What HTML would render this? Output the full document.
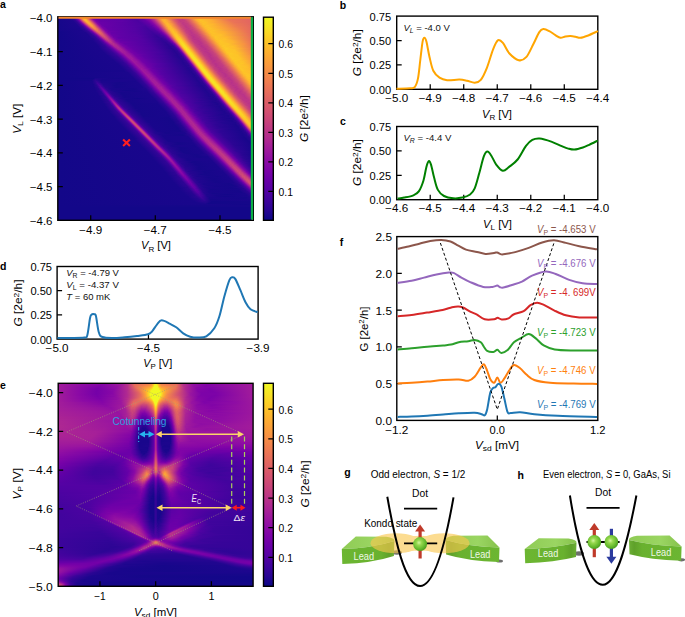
<!DOCTYPE html>
<html><head><meta charset="utf-8"><style>
html,body{margin:0;padding:0;background:#fff}
#c{position:relative;width:685px;height:617px;overflow:hidden;background:#fff;font-family:"Liberation Sans",sans-serif}
.cm{position:absolute}
.cm i{display:block}
svg{position:absolute;left:0;top:0}
svg text{font-family:"Liberation Sans",sans-serif}
</style></head><body><div id="c">
<div class="cm" style="left:58px;top:17px;width:194px;height:203px">
<i style="height:1px;background:linear-gradient(90deg,#16078a 0.5px,#1b068d 11.5px,#370499 15.5px,#5e01a6 17.5px,#7b02a8 18.5px,#9d189d 19.5px,#da5b69 21.5px,#fa9e3b 23.5px,#fdb42f 24.5px,#feb72d 25.5px,#fdab33 26.5px,#ec7754 28.5px,#ac2694 31.5px,#8405a7 33.5px,#6900a8 36.5px,#5c01a6 61.5px,#4c02a1 76.5px,#6001a6 83.5px,#8a09a5 89.5px,#ba3388 94.5px,#e66c5c 98.5px,#fca835 102.5px,#fdb130 104.5px,#f89540 108.5px,#d24f71 115.5px,#c13b82 120.5px,#c9447a 125.5px,#eb7655 131.5px,#feb72d 137.5px,#fec029 141.5px,#fca835 152.5px,#e87059 169.5px,#e26561 184.5px,#e06363 193.5px)"></i>
<i style="height:1px;background:linear-gradient(90deg,#16078a 0.5px,#1b068d 12.5px,#2c0594 15.5px,#4903a0 17.5px,#7d03a8 19.5px,#a01a9c 20.5px,#dd5e66 22.5px,#f1814d 23.5px,#fba139 24.5px,#fdb52e 25.5px,#feb82c 26.5px,#fdac33 27.5px,#eb7655 29.5px,#ac2694 32.5px,#8405a7 34.5px,#6a00a8 37.5px,#6600a7 52.5px,#4c02a1 77.5px,#6001a6 84.5px,#8a09a5 90.5px,#bb3488 95.5px,#f1814d 100.5px,#fdab33 103.5px,#fdae32 106.5px,#e97158 112.5px,#c7427c 118.5px,#c13b82 123.5px,#d45270 128.5px,#fa9b3d 135.5px,#febd2a 139.5px,#febd2a 145.5px,#ed7a52 166.5px,#e26660 182.5px,#e16462 193.5px)"></i>
<i style="height:1px;background:linear-gradient(90deg,#16078a 0.5px,#1b068d 12.5px,#2e0595 16.5px,#4903a0 18.5px,#7e03a8 20.5px,#a11b9b 21.5px,#de6164 23.5px,#f2844b 24.5px,#fca338 25.5px,#feb72d 26.5px,#feb82c 27.5px,#fdab33 28.5px,#ea7457 30.5px,#ab2494 33.5px,#8405a7 35.5px,#6a00a8 38.5px,#5901a5 65.5px,#4c02a1 78.5px,#6001a6 85.5px,#8a09a5 91.5px,#bc3587 96.5px,#f3854b 101.5px,#fdac33 104.5px,#fdae32 107.5px,#e76f5a 113.5px,#c6417d 119.5px,#c13b82 124.5px,#da5b69 130.5px,#fca835 137.5px,#fec029 141.5px,#fdb130 151.5px,#e97257 171.5px,#e16462 193.5px)"></i>
<i style="height:1px;background:linear-gradient(90deg,#16078a 0.5px,#1d068e 14.5px,#2e0595 17.5px,#4b03a1 19.5px,#8004a8 21.5px,#a31e9a 22.5px,#df6263 24.5px,#f3854b 25.5px,#fca338 26.5px,#fdb52e 27.5px,#fdb52e 28.5px,#f68f44 30.5px,#c23c81 33.5px,#9613a1 35.5px,#7801a8 37.5px,#6600a7 41.5px,#5c01a6 64.5px,#4c02a1 79.5px,#6600a7 87.5px,#8808a6 92.5px,#b22b8f 96.5px,#ec7754 101.5px,#fca636 104.5px,#fdb42f 106.5px,#fca537 109.5px,#da5a6a 116.5px,#c23c81 121.5px,#c33d80 126.5px,#e26561 132.5px,#fca934 138.5px,#fdc229 142.5px,#fdae32 153.5px,#eb7556 171.5px,#e26561 193.5px)"></i>
<i style="height:1px;background:linear-gradient(90deg,#16078a 0.5px,#1d068e 15.5px,#2e0595 18.5px,#4b03a1 20.5px,#8104a7 22.5px,#a31e9a 23.5px,#df6263 25.5px,#fb9f3a 27.5px,#fdb130 28.5px,#fdb130 29.5px,#f68d45 31.5px,#c33d80 34.5px,#9613a1 36.5px,#7801a8 38.5px,#6600a7 42.5px,#5e01a6 63.5px,#4c02a1 80.5px,#6900a8 89.5px,#8808a6 93.5px,#b32c8e 97.5px,#ee7b51 102.5px,#fdab33 105.5px,#fdb52e 107.5px,#f99a3e 111.5px,#d8576b 117.5px,#c13b82 122.5px,#c7427c 128.5px,#e97158 134.5px,#fdb42f 140.5px,#fdc229 144.5px,#fdab33 155.5px,#eb7556 173.5px,#e26561 193.5px)"></i>
<i style="height:1px;background:linear-gradient(90deg,#16078a 0.5px,#1d068e 16.5px,#2e0595 19.5px,#4b03a1 21.5px,#8104a7 23.5px,#a21d9a 24.5px,#db5c68 26.5px,#f99a3e 28.5px,#fdab33 29.5px,#fdac33 30.5px,#fba238 31.5px,#e97257 33.5px,#ad2793 36.5px,#8606a6 38.5px,#6a00a8 41.5px,#5801a4 68.5px,#4c02a1 82.5px,#6700a8 90.5px,#8707a6 94.5px,#b42e8d 98.5px,#f07f4f 103.5px,#fdae32 106.5px,#fdb22f 109.5px,#ea7457 115.5px,#cb4679 120.5px,#bf3984 125.5px,#cc4977 130.5px,#f48948 137.5px,#febb2b 142.5px,#fec029 147.5px,#f9973f 162.5px,#e97257 176.5px,#e26660 193.5px)"></i>
<i style="height:1px;background:linear-gradient(90deg,#16078a 0.5px,#1d068e 17.5px,#2f0596 20.5px,#4b03a1 22.5px,#7e03a8 24.5px,#9d189d 25.5px,#d8576b 27.5px,#f89441 29.5px,#fca636 30.5px,#fca934 31.5px,#fb9f3a 32.5px,#e97158 34.5px,#ad2793 37.5px,#8606a6 39.5px,#6a00a8 42.5px,#5801a4 69.5px,#4c02a1 83.5px,#6600a7 91.5px,#8707a6 95.5px,#b52f8c 99.5px,#f2844b 104.5px,#fdb130 107.5px,#feb72d 109.5px,#f89540 113.5px,#d5536f 119.5px,#c03a83 124.5px,#c43e7f 129.5px,#e56a5d 135.5px,#fdac33 141.5px,#fdc229 145.5px,#fdae32 156.5px,#ec7754 175.5px,#e26660 193.5px)"></i>
<i style="height:1px;background:linear-gradient(90deg,#16078a 0.5px,#1d068e 18.5px,#2e0595 21.5px,#5e01a6 24.5px,#7801a8 25.5px,#9814a0 26.5px,#d35171 28.5px,#f68d45 30.5px,#fba139 31.5px,#fca537 32.5px,#fa9c3c 33.5px,#e97257 35.5px,#ac2694 38.5px,#8606a6 40.5px,#6a00a8 43.5px,#5601a4 71.5px,#4b03a1 84.5px,#5e01a6 91.5px,#8606a6 96.5px,#b6308b 100.5px,#f48948 105.5px,#fdb42f 108.5px,#feb72d 110.5px,#f79342 114.5px,#d35171 120.5px,#bf3984 125.5px,#c5407e 130.5px,#e56b5d 136.5px,#fdae32 142.5px,#fec029 145.5px,#feb72d 154.5px,#ed7953 176.5px,#e26660 193.5px)"></i>
<i style="height:1px;background:linear-gradient(90deg,#16078a 0.5px,#1d068e 19.5px,#38049a 23.5px,#5901a5 25.5px,#7401a8 26.5px,#920fa3 27.5px,#e4695e 30.5px,#fa9b3d 32.5px,#fba139 33.5px,#fa9b3d 34.5px,#e76e5b 36.5px,#ac2694 39.5px,#8606a6 41.5px,#6a00a8 44.5px,#5302a3 74.5px,#4b03a1 87.5px,#6900a8 94.5px,#8606a6 97.5px,#b7318a 101.5px,#f68d45 106.5px,#feb72d 109.5px,#fdb22f 112.5px,#ec7754 117.5px,#cc4778 122.5px,#be3885 127.5px,#c9447a 132.5px,#ec7754 138.5px,#feb72d 144.5px,#fdc229 149.5px,#fba238 162.5px,#eb7655 179.5px,#e3685f 193.5px)"></i>
<i style="height:1px;background:linear-gradient(90deg,#16078a 0.5px,#1d068e 20.5px,#350498 24.5px,#5502a4 26.5px,#6e00a8 27.5px,#8a09a5 28.5px,#c8437b 30.5px,#f07f4f 32.5px,#f89540 33.5px,#fa9b3d 34.5px,#f1814d 36.5px,#c03a83 39.5px,#9814a0 41.5px,#7a02a8 43.5px,#6700a8 46.5px,#5502a4 74.5px,#48039f 87.5px,#5b01a5 93.5px,#8405a7 98.5px,#ab2494 101.5px,#e4695e 105.5px,#fca338 108.5px,#feb82c 110.5px,#feb82c 112.5px,#f1814d 117.5px,#d04d73 122.5px,#be3885 127.5px,#c5407e 132.5px,#e76e5b 138.5px,#fdaf31 144.5px,#fdc229 147.5px,#fdaf31 159.5px,#ef7c51 177.5px,#e3685f 193.5px)"></i>
<i style="height:1px;background:linear-gradient(90deg,#16078a 0.5px,#1d068e 21.5px,#330597 25.5px,#5102a3 27.5px,#8405a7 29.5px,#a31e9a 30.5px,#da5a6a 32.5px,#f48948 34.5px,#f79143 35.5px,#ee7b51 37.5px,#c03a83 40.5px,#9814a0 42.5px,#7a02a8 44.5px,#6600a7 48.5px,#5601a4 73.5px,#46039f 88.5px,#5e01a6 95.5px,#8305a7 99.5px,#ab2494 102.5px,#f1814d 107.5px,#fdb42f 110.5px,#feb82c 113.5px,#f07f4f 118.5px,#ce4b75 123.5px,#bd3786 128.5px,#ca457a 134.5px,#f3854b 141.5px,#feb82c 146.5px,#fdc229 150.5px,#fca636 163.5px,#ed7a52 180.5px,#e4695e 193.5px)"></i>
<i style="height:1px;background:linear-gradient(90deg,#16078a 0.5px,#1b068d 21.5px,#310597 26.5px,#4b03a1 28.5px,#7b02a8 30.5px,#9c179e 31.5px,#d35171 33.5px,#f0804e 35.5px,#f48948 36.5px,#f3854b 37.5px,#e26561 39.5px,#9814a0 43.5px,#7a02a8 45.5px,#6600a7 49.5px,#5502a4 75.5px,#44039e 89.5px,#5b01a5 96.5px,#8004a8 100.5px,#ac2694 103.5px,#f3874a 108.5px,#fdac33 110.5px,#febd2a 112.5px,#fdaf31 115.5px,#e87059 120.5px,#c8437b 125.5px,#bd3786 130.5px,#d04d73 136.5px,#f3874a 142.5px,#feba2c 147.5px,#fdc229 152.5px,#fba139 166.5px,#ec7754 183.5px,#e4695e 193.5px)"></i>
<i style="height:1px;background:linear-gradient(90deg,#16078a 0.5px,#1b068d 22.5px,#280592 26.5px,#48039f 29.5px,#7401a8 31.5px,#920fa3 32.5px,#cb4679 34.5px,#eb7556 36.5px,#f0804e 37.5px,#e97257 39.5px,#bf3984 42.5px,#9814a0 44.5px,#7b02a8 46.5px,#6600a7 50.5px,#5302a3 77.5px,#43039e 90.5px,#5302a3 96.5px,#7201a8 100.5px,#9c179e 103.5px,#dd5e66 107.5px,#fba139 110.5px,#feba2c 112.5px,#febd2a 114.5px,#fba238 117.5px,#d8576b 123.5px,#bf3984 128.5px,#c33d80 134.5px,#e26660 140.5px,#fca934 146.5px,#fdc229 150.5px,#fdb52e 160.5px,#ed7953 183.5px,#e4695e 193.5px)"></i>
<i style="height:1px;background:linear-gradient(90deg,#16078a 0.5px,#1b068d 23.5px,#2e0595 28.5px,#5502a4 31.5px,#8808a6 33.5px,#c13b82 35.5px,#e56a5d 37.5px,#eb7655 38.5px,#ec7754 39.5px,#cf4c74 42.5px,#99159f 45.5px,#7b02a8 47.5px,#6600a7 51.5px,#5502a4 76.5px,#41049d 91.5px,#5002a2 97.5px,#7d03a8 102.5px,#ad2793 105.5px,#ed7953 109.5px,#fdb42f 112.5px,#fec029 114.5px,#fdac33 117.5px,#e56a5d 122.5px,#c5407e 127.5px,#bc3587 132.5px,#d14e72 138.5px,#f89441 145.5px,#febb2b 149.5px,#fdc229 155.5px,#ed7a52 184.5px,#e56a5d 193.5px)"></i>
<i style="height:1px;background:linear-gradient(90deg,#130789 0.5px,#1d068e 25.5px,#330597 30.5px,#6400a7 33.5px,#7e03a8 34.5px,#b83289 36.5px,#de6164 38.5px,#e76f5a 39.5px,#e56a5d 41.5px,#be3885 44.5px,#8808a6 47.5px,#6c00a8 50.5px,#6100a7 61.5px,#5002a2 80.5px,#3f049c 93.5px,#5302a3 99.5px,#7b02a8 103.5px,#ae2892 106.5px,#ef7e50 110.5px,#feb82c 113.5px,#fdc229 115.5px,#fdab33 118.5px,#e3685f 123.5px,#c8437b 127.5px,#bc3587 132.5px,#c8437b 137.5px,#e4695e 142.5px,#fdac33 148.5px,#fdc328 152.5px,#fdb130 164.5px,#eb7556 187.5px,#e56a5d 193.5px)"></i>
<i style="height:1px;background:linear-gradient(90deg,#130789 0.5px,#1d068e 27.5px,#310597 31.5px,#5e01a6 34.5px,#7701a8 35.5px,#920fa3 36.5px,#c7427c 38.5px,#e26660 40.5px,#e56b5d 41.5px,#da5a6a 43.5px,#99159f 47.5px,#7b02a8 49.5px,#6600a7 53.5px,#5302a3 79.5px,#3e049c 94.5px,#4b03a1 99.5px,#6a00a8 103.5px,#8808a6 105.5px,#c13b82 108.5px,#f1834c 111.5px,#fdaf31 113.5px,#fdc328 115.5px,#fdb52e 118.5px,#e97158 123.5px,#c6417d 128.5px,#bb3488 133.5px,#cc4977 139.5px,#f0804e 145.5px,#fdb52e 150.5px,#fdc328 153.5px,#fdb130 165.5px,#e97257 189.5px,#e56b5d 193.5px)"></i>
<i style="height:1px;background:linear-gradient(90deg,#130789 0.5px,#1d068e 28.5px,#2f0596 32.5px,#5601a4 35.5px,#8808a6 37.5px,#bf3984 39.5px,#de5f65 41.5px,#e26561 42.5px,#d7566c 44.5px,#99159f 48.5px,#7d03a8 50.5px,#6700a8 53.5px,#5302a3 79.5px,#3c049b 95.5px,#4c02a1 101.5px,#6900a8 104.5px,#8808a6 106.5px,#ae2892 108.5px,#f48849 112.5px,#fdb42f 114.5px,#fdc527 116.5px,#febe2a 118.5px,#ee7b51 123.5px,#ca457a 128.5px,#bb3488 133.5px,#c8437b 139.5px,#eb7655 145.5px,#feb72d 151.5px,#fdc328 155.5px,#fdb22f 166.5px,#e56b5d 193.5px)"></i>
<i style="height:1px;background:linear-gradient(90deg,#130789 0.5px,#1d068e 29.5px,#2e0595 33.5px,#5102a3 36.5px,#8004a8 38.5px,#b7318a 40.5px,#d8576b 42.5px,#db5c68 44.5px,#bc3587 47.5px,#8808a6 50.5px,#6c00a8 53.5px,#6001a6 61.5px,#5601a4 78.5px,#3a049a 96.5px,#44039e 101.5px,#6600a7 105.5px,#8606a6 107.5px,#ae2892 109.5px,#e97257 112.5px,#fca636 114.5px,#fdc527 116.5px,#fdc527 118.5px,#fca537 121.5px,#dd5e66 126.5px,#bf3984 131.5px,#bc3587 136.5px,#cd4a76 141.5px,#f68f44 148.5px,#febe2a 153.5px,#febe2a 162.5px,#eb7556 189.5px,#e66c5c 193.5px)"></i>
<i style="height:1px;background:linear-gradient(90deg,#130789 0.5px,#1d068e 30.5px,#330597 35.5px,#6001a6 38.5px,#7a02a8 39.5px,#b02991 41.5px,#d35171 43.5px,#d8576b 45.5px,#ba3388 48.5px,#8808a6 51.5px,#6c00a8 54.5px,#6001a6 62.5px,#5502a4 80.5px,#370499 98.5px,#46039f 103.5px,#6100a7 106.5px,#8305a7 108.5px,#b12a90 110.5px,#ed7953 113.5px,#fdae32 115.5px,#fdc827 117.5px,#fdc627 119.5px,#f79342 123.5px,#d35171 128.5px,#ba3388 133.5px,#c13b82 139.5px,#e06363 145.5px,#fca636 151.5px,#fec029 154.5px,#fec029 162.5px,#ee7b51 187.5px,#e66c5c 193.5px)"></i>
<i style="height:1px;background:linear-gradient(90deg,#130789 0.5px,#1d068e 31.5px,#310597 36.5px,#48039f 38.5px,#7401a8 40.5px,#aa2395 42.5px,#cd4a76 44.5px,#d5536f 46.5px,#b83289 49.5px,#8a09a5 52.5px,#6c00a8 55.5px,#6100a7 62.5px,#5302a3 82.5px,#350498 99.5px,#4903a0 105.5px,#5e01a6 107.5px,#8405a7 109.5px,#b32c8e 111.5px,#f07f4f 114.5px,#fdb42f 116.5px,#fdcb26 118.5px,#febd2a 121.5px,#f0804e 125.5px,#c9447a 130.5px,#b83289 135.5px,#c5407e 141.5px,#e76f5a 147.5px,#fdb22f 153.5px,#fdc527 157.5px,#fdb22f 169.5px,#e76e5b 193.5px)"></i>
<i style="height:1px;background:linear-gradient(90deg,#130789 0.5px,#1d068e 32.5px,#2f0596 37.5px,#5801a4 40.5px,#8a09a5 42.5px,#b83289 44.5px,#d04d73 46.5px,#cc4778 48.5px,#9814a0 52.5px,#7201a8 55.5px,#6100a7 60.5px,#5801a4 79.5px,#330597 100.5px,#3f049c 105.5px,#5e01a6 108.5px,#8405a7 110.5px,#b52f8c 112.5px,#f3854b 115.5px,#feba2c 117.5px,#fcce25 119.5px,#febb2b 122.5px,#ef7c51 126.5px,#cc4977 130.5px,#b83289 135.5px,#c23c81 141.5px,#e26561 147.5px,#fca934 153.5px,#fdc527 157.5px,#feb82c 168.5px,#e76f5a 193.5px)"></i>
<i style="height:1px;background:linear-gradient(90deg,#130789 0.5px,#1d068e 34.5px,#2f0596 38.5px,#5601a4 41.5px,#8405a7 43.5px,#b32c8e 45.5px,#cb4679 47.5px,#c9447a 49.5px,#9814a0 53.5px,#7401a8 56.5px,#6300a7 60.5px,#5601a4 81.5px,#310597 103.5px,#44039e 107.5px,#6e00a8 110.5px,#8405a7 111.5px,#b83289 113.5px,#f58c46 116.5px,#fec029 118.5px,#fcd025 120.5px,#fdc627 122.5px,#f48849 126.5px,#d24f71 130.5px,#bc3587 134.5px,#bc3587 140.5px,#d6556d 146.5px,#fba139 153.5px,#fdc229 157.5px,#febe2a 166.5px,#ee7b51 189.5px,#e87059 193.5px)"></i>
<i style="height:1px;background:linear-gradient(90deg,#130789 0.5px,#1d068e 35.5px,#38049a 40.5px,#6700a8 43.5px,#7e03a8 44.5px,#be3885 47.5px,#c9447a 49.5px,#b32c8e 52.5px,#8a09a5 55.5px,#6e00a8 58.5px,#6100a7 66.5px,#5302a3 84.5px,#2f0596 103.5px,#3a049a 107.5px,#5b01a5 110.5px,#8606a6 112.5px,#bb3488 114.5px,#e97158 116.5px,#fdb130 118.5px,#fdc627 119.5px,#fbd324 121.5px,#fdc627 123.5px,#f1834c 127.5px,#ce4b75 131.5px,#b83289 136.5px,#bf3984 142.5px,#dd5e66 148.5px,#fba238 154.5px,#fdc328 158.5px,#fec029 167.5px,#ef7c51 189.5px,#e97158 193.5px)"></i>
<i style="height:1px;background:linear-gradient(90deg,#130789 0.5px,#1b068d 34.5px,#2f0596 40.5px,#5102a3 43.5px,#7801a8 45.5px,#b7318a 48.5px,#c5407e 50.5px,#b12a90 53.5px,#7e03a8 57.5px,#6400a7 62.5px,#5102a3 86.5px,#2f0596 104.5px,#38049a 108.5px,#5b01a5 111.5px,#8606a6 113.5px,#a11b9b 114.5px,#eb7655 117.5px,#feb82c 119.5px,#fbd524 121.5px,#fcd025 123.5px,#fba238 126.5px,#dd5e66 130.5px,#c13b82 134.5px,#b83289 140.5px,#cc4977 146.5px,#f0804e 152.5px,#feb82c 157.5px,#fdc627 161.5px,#fdb42f 173.5px,#e97158 193.5px)"></i>
<i style="height:1px;background:linear-gradient(90deg,#130789 0.5px,#1b068d 35.5px,#2f0596 41.5px,#4e02a2 44.5px,#7401a8 46.5px,#a01a9c 48.5px,#bc3587 50.5px,#bf3984 52.5px,#8104a7 58.5px,#6900a8 62.5px,#5002a2 87.5px,#2e0595 105.5px,#370499 109.5px,#5901a5 112.5px,#8405a7 114.5px,#a21d9a 115.5px,#ef7c51 118.5px,#fec029 120.5px,#fbd724 122.5px,#fcce25 124.5px,#fa9e3b 127.5px,#da5b69 131.5px,#c03a83 135.5px,#b83289 141.5px,#cc4977 147.5px,#f1814d 153.5px,#feba2c 158.5px,#fdc627 162.5px,#fdb42f 174.5px,#ea7457 193.5px)"></i>
<i style="height:1px;background:linear-gradient(90deg,#130789 0.5px,#1b068d 36.5px,#2f0596 42.5px,#4c02a1 45.5px,#8405a7 48.5px,#b52f8c 51.5px,#bb3488 53.5px,#8e0ca4 58.5px,#6e00a8 62.5px,#6100a7 72.5px,#4c02a1 90.5px,#2c0594 107.5px,#3c049b 111.5px,#6a00a8 114.5px,#8606a6 115.5px,#a31e9a 116.5px,#f1814d 119.5px,#fca835 120.5px,#fdc627 121.5px,#fada24 123.5px,#fcce25 125.5px,#f99a3e 128.5px,#d9586a 132.5px,#bf3984 136.5px,#b83289 142.5px,#cd4a76 148.5px,#f2844b 154.5px,#febb2b 159.5px,#fdc627 163.5px,#fdb42f 175.5px,#eb7556 193.5px)"></i>
<i style="height:1px;background:linear-gradient(90deg,#130789 0.5px,#1b068d 37.5px,#2f0596 43.5px,#5801a4 47.5px,#7e03a8 49.5px,#b02991 52.5px,#b42e8d 55.5px,#7d03a8 61.5px,#6600a7 66.5px,#5002a2 89.5px,#2c0594 108.5px,#3a049a 112.5px,#5302a3 114.5px,#8104a7 116.5px,#a11b9b 117.5px,#df6263 119.5px,#f58b47 120.5px,#fdb130 121.5px,#fccd25 122.5px,#f9dd25 124.5px,#fccd25 126.5px,#f89441 129.5px,#d7566c 133.5px,#bf3984 137.5px,#b83289 143.5px,#d45270 150.5px,#fa9e3b 157.5px,#fdc328 161.5px,#fdc328 169.5px,#f79342 185.5px,#eb7655 193.5px)"></i>
<i style="height:1px;background:linear-gradient(90deg,#130789 0.5px,#1b068d 38.5px,#2f0596 44.5px,#48039f 47.5px,#7801a8 50.5px,#aa2395 53.5px,#b42e8d 55.5px,#a62098 58.5px,#8004a8 62.5px,#6700a8 67.5px,#4c02a1 91.5px,#2a0593 109.5px,#38049a 113.5px,#6400a7 116.5px,#8104a7 117.5px,#a51f99 118.5px,#e3685f 120.5px,#f79143 121.5px,#feba2c 122.5px,#fbd324 123.5px,#f8df25 125.5px,#feb82c 128.5px,#e76f5a 132.5px,#c8437b 136.5px,#b7318a 141.5px,#c5407e 148.5px,#e87059 154.5px,#fdac33 159.5px,#fdc328 162.5px,#fdc328 170.5px,#f89540 185.5px,#ec7754 193.5px)"></i>
<i style="height:1px;background:linear-gradient(90deg,#130789 0.5px,#1b068d 39.5px,#350498 46.5px,#5302a3 49.5px,#8405a7 52.5px,#ae2892 55.5px,#ae2892 58.5px,#7a02a8 64.5px,#6400a7 70.5px,#4e02a2 91.5px,#2a0593 110.5px,#350498 114.5px,#4e02a2 116.5px,#8405a7 118.5px,#a82296 119.5px,#e76f5a 121.5px,#f99a3e 122.5px,#fdc229 123.5px,#fad824 124.5px,#f8df25 126.5px,#fdb52e 129.5px,#e56b5d 133.5px,#c6417d 137.5px,#b7318a 143.5px,#c6417d 149.5px,#e97257 155.5px,#feb82c 161.5px,#fdc827 165.5px,#fdb52e 177.5px,#ed7953 193.5px)"></i>
<i style="height:1px;background:linear-gradient(90deg,#130789 0.5px,#1b068d 40.5px,#350498 47.5px,#5c01a6 51.5px,#8004a8 53.5px,#ab2494 56.5px,#ad2793 59.5px,#7d03a8 65.5px,#6700a8 70.5px,#4c02a1 93.5px,#280592 112.5px,#330597 115.5px,#5002a2 117.5px,#8606a6 119.5px,#ab2494 120.5px,#eb7556 122.5px,#fba238 123.5px,#fdc827 124.5px,#f9dc24 125.5px,#f9dd25 127.5px,#fdb130 130.5px,#e4695e 134.5px,#c5407e 138.5px,#b7318a 143.5px,#c23c81 149.5px,#e4695e 155.5px,#fdaf31 161.5px,#fdc627 164.5px,#fec029 174.5px,#f07f4f 192.5px,#ee7b51 193.5px)"></i>
<i style="height:1px;background:linear-gradient(90deg,#130789 0.5px,#1b068d 40.5px,#2f0596 47.5px,#4c02a1 51.5px,#7a02a8 54.5px,#a62098 57.5px,#ad2793 60.5px,#7701a8 67.5px,#6400a7 73.5px,#4e02a2 93.5px,#280592 112.5px,#330597 116.5px,#4e02a2 118.5px,#8808a6 120.5px,#ae2892 121.5px,#ef7e50 123.5px,#fdab33 124.5px,#fcce25 125.5px,#f9dd25 126.5px,#f9dd25 128.5px,#fdae32 131.5px,#e26660 135.5px,#c43e7f 139.5px,#b7318a 145.5px,#c7427c 151.5px,#eb7655 157.5px,#fdb22f 162.5px,#fdc827 166.5px,#febd2a 176.5px,#ef7c51 193.5px)"></i>
<i style="height:1px;background:linear-gradient(90deg,#130789 0.5px,#1b068d 41.5px,#3a049a 50.5px,#6400a7 54.5px,#8606a6 56.5px,#aa2395 59.5px,#a82296 62.5px,#7801a8 68.5px,#6400a7 74.5px,#4b03a1 95.5px,#260591 113.5px,#330597 117.5px,#5002a2 119.5px,#6900a8 120.5px,#8d0ba5 121.5px,#b42e8d 122.5px,#d9586a 123.5px,#f3874a 124.5px,#fdb42f 125.5px,#fbd324 126.5px,#f8e125 128.5px,#fcce25 130.5px,#f89540 133.5px,#d8576b 137.5px,#bf3984 141.5px,#b83289 147.5px,#cd4a76 153.5px,#f2844b 159.5px,#febd2a 164.5px,#fdca26 168.5px,#fdb42f 180.5px,#f07f4f 193.5px)"></i>
<i style="height:1px;background:linear-gradient(90deg,#130789 0.5px,#1b068d 42.5px,#38049a 51.5px,#6100a7 55.5px,#8004a8 57.5px,#a62098 60.5px,#a82296 63.5px,#7a02a8 69.5px,#6400a7 75.5px,#4903a0 97.5px,#260591 115.5px,#330597 118.5px,#5102a3 120.5px,#6e00a8 121.5px,#9410a2 122.5px,#de6164 124.5px,#f79044 125.5px,#febb2b 126.5px,#fbd724 127.5px,#f8e125 128.5px,#fada24 130.5px,#fca636 133.5px,#de6164 137.5px,#c23c81 141.5px,#b7318a 147.5px,#c9447a 153.5px,#ed7a52 159.5px,#fdb52e 164.5px,#fdc827 167.5px,#fdc229 176.5px,#f0804e 193.5px)"></i>
<i style="height:1px;background:linear-gradient(90deg,#130789 0.5px,#1b068d 43.5px,#38049a 52.5px,#5c01a6 56.5px,#8a09a5 59.5px,#a72197 62.5px,#a21d9a 65.5px,#7b02a8 70.5px,#6600a7 76.5px,#44039e 100.5px,#260591 116.5px,#330597 119.5px,#5502a4 121.5px,#7401a8 122.5px,#9a169f 123.5px,#e56a5d 125.5px,#f99a3e 126.5px,#fdc328 127.5px,#fada24 128.5px,#f7e225 129.5px,#fad824 131.5px,#fba238 134.5px,#dd5e66 138.5px,#bd3786 143.5px,#bb3488 150.5px,#d5546e 156.5px,#fba238 163.5px,#fdc627 167.5px,#fdc328 176.5px,#f3874a 192.5px,#f1834c 193.5px)"></i>
<i style="height:1px;background:linear-gradient(90deg,#130789 0.5px,#1b068d 44.5px,#370499 53.5px,#5901a5 57.5px,#8405a7 60.5px,#a31e9a 63.5px,#a21d9a 66.5px,#7701a8 72.5px,#6400a7 78.5px,#46039f 100.5px,#260591 116.5px,#2c0594 119.5px,#43039e 121.5px,#7a02a8 123.5px,#a21d9a 124.5px,#e97257 126.5px,#fba238 127.5px,#fdca26 128.5px,#f9dd25 129.5px,#f8df25 131.5px,#fdb22f 134.5px,#e56a5d 138.5px,#c5407e 142.5px,#b7318a 147.5px,#c6417d 154.5px,#e97257 160.5px,#fdaf31 165.5px,#fdc627 168.5px,#fdc328 177.5px,#f3854b 193.5px)"></i>
<i style="height:1px;background:linear-gradient(90deg,#130789 0.5px,#1b068d 45.5px,#350498 54.5px,#5502a4 58.5px,#8004a8 61.5px,#a11b9b 64.5px,#a11b9b 67.5px,#7801a8 73.5px,#6300a7 80.5px,#48039f 100.5px,#260591 117.5px,#2e0595 120.5px,#46039f 122.5px,#5e01a6 123.5px,#8104a7 124.5px,#ab2494 125.5px,#ef7c51 127.5px,#fdab33 128.5px,#fcd025 129.5px,#f7e425 131.5px,#fbd324 133.5px,#fa9b3d 136.5px,#da5a6a 140.5px,#c03a83 144.5px,#b7318a 149.5px,#c7427c 155.5px,#e56a5d 160.5px,#fdb130 166.5px,#fdc827 169.5px,#fec029 179.5px,#f3874a 193.5px)"></i>
<i style="height:1px;background:linear-gradient(90deg,#130789 0.5px,#1b068d 46.5px,#330597 55.5px,#5102a3 59.5px,#8808a6 63.5px,#a21d9a 66.5px,#9613a1 70.5px,#7401a8 75.5px,#6300a7 81.5px,#44039e 102.5px,#260591 118.5px,#2e0595 121.5px,#4903a0 123.5px,#6400a7 124.5px,#8808a6 125.5px,#b32c8e 126.5px,#d8576b 127.5px,#f3854b 128.5px,#fdb42f 129.5px,#fbd524 130.5px,#f7e425 132.5px,#fcd025 134.5px,#f9973f 137.5px,#d8576b 141.5px,#bf3984 145.5px,#b83289 151.5px,#cc4977 157.5px,#f1834c 163.5px,#febd2a 168.5px,#fdca26 172.5px,#febb2b 181.5px,#f48948 193.5px)"></i>
<i style="height:1px;background:linear-gradient(90deg,#130789 0.5px,#1b068d 47.5px,#330597 56.5px,#5002a2 60.5px,#8405a7 64.5px,#a11b9b 67.5px,#9814a0 71.5px,#7401a8 76.5px,#6001a6 85.5px,#3a049a 107.5px,#260591 119.5px,#2f0596 122.5px,#4e02a2 124.5px,#6a00a8 125.5px,#910ea3 126.5px,#de5f65 128.5px,#f79044 129.5px,#febd2a 130.5px,#fad824 131.5px,#f7e225 132.5px,#f9dc24 134.5px,#fca636 137.5px,#df6263 141.5px,#c23c81 145.5px,#b7318a 151.5px,#c9447a 157.5px,#ed7953 163.5px,#fdb52e 168.5px,#fdc827 171.5px,#fdc328 179.5px,#f58c46 193.5px)"></i>
<i style="height:1px;background:linear-gradient(90deg,#130789 0.5px,#1b068d 49.5px,#370499 58.5px,#5801a4 62.5px,#8104a7 65.5px,#a01a9c 68.5px,#99159f 72.5px,#7501a8 77.5px,#6100a7 84.5px,#43039e 104.5px,#240691 119.5px,#310597 123.5px,#5302a3 125.5px,#7100a8 126.5px,#99159f 127.5px,#e4695e 129.5px,#f99a3e 130.5px,#fdc328 131.5px,#f9dc24 132.5px,#f7e425 133.5px,#fada24 135.5px,#fca338 138.5px,#de5f65 142.5px,#c13b82 146.5px,#b7318a 152.5px,#ce4b75 159.5px,#f89441 166.5px,#fdc627 171.5px,#fdc527 179.5px,#f89441 192.5px,#f68f44 193.5px)"></i>
<i style="height:1px;background:linear-gradient(90deg,#130789 0.5px,#1b068d 50.5px,#350498 59.5px,#5601a4 63.5px,#8004a8 66.5px,#9e199d 69.5px,#9e199d 72.5px,#7501a8 78.5px,#6100a7 85.5px,#44039e 104.5px,#240691 120.5px,#2c0594 123.5px,#41049d 125.5px,#7801a8 127.5px,#a11b9b 128.5px,#e97257 130.5px,#fba238 131.5px,#fdcb26 132.5px,#f8df25 133.5px,#f8e125 135.5px,#fdb42f 138.5px,#e56a5d 142.5px,#c6417d 146.5px,#b7318a 151.5px,#c6417d 158.5px,#e3685f 163.5px,#fdaf31 169.5px,#fdc627 172.5px,#fdc328 180.5px,#f9973f 192.5px,#f79143 193.5px)"></i>
<i style="height:1px;background:linear-gradient(90deg,#130789 0.5px,#1b068d 51.5px,#330597 60.5px,#5502a4 64.5px,#7d03a8 67.5px,#9e199d 70.5px,#9e199d 73.5px,#7701a8 79.5px,#6100a7 86.5px,#3a049a 109.5px,#240691 121.5px,#350498 125.5px,#5c01a6 127.5px,#8004a8 128.5px,#a82296 129.5px,#ee7b51 131.5px,#fdac33 132.5px,#fcd225 133.5px,#f8e125 134.5px,#f8e125 136.5px,#fdaf31 139.5px,#e3685f 143.5px,#c5407e 147.5px,#b7318a 152.5px,#c23c81 158.5px,#e4695e 164.5px,#fdb130 170.5px,#fdc827 173.5px,#fdc328 181.5px,#f89441 193.5px)"></i>
<i style="height:1px;background:linear-gradient(90deg,#130789 0.5px,#1b068d 52.5px,#330597 61.5px,#5302a3 65.5px,#7b02a8 68.5px,#9d189d 71.5px,#9e199d 74.5px,#7701a8 80.5px,#6100a7 87.5px,#3c049b 109.5px,#240691 122.5px,#2e0595 125.5px,#48039f 127.5px,#8707a6 129.5px,#b12a90 130.5px,#d7566c 131.5px,#f3854b 132.5px,#fdb52e 133.5px,#fbd724 134.5px,#f7e225 135.5px,#f8df25 137.5px,#fdac33 140.5px,#e16462 144.5px,#c33d80 148.5px,#b7318a 153.5px,#c33d80 159.5px,#e56b5d 165.5px,#fdb22f 171.5px,#fdc827 174.5px,#fdc229 182.5px,#f9973f 193.5px)"></i>
<i style="height:1px;background:linear-gradient(90deg,#130789 0.5px,#1b068d 54.5px,#310597 62.5px,#5e01a6 67.5px,#8808a6 70.5px,#a01a9c 73.5px,#9410a2 77.5px,#7201a8 82.5px,#5e01a6 90.5px,#240691 123.5px,#2f0596 126.5px,#4c02a1 128.5px,#6900a8 129.5px,#8e0ca4 130.5px,#dd5e66 132.5px,#f68f44 133.5px,#febd2a 134.5px,#fada24 135.5px,#f7e425 136.5px,#f9dd25 138.5px,#febd2a 140.5px,#e87059 144.5px,#c8437b 148.5px,#b7318a 153.5px,#c43e7f 160.5px,#e06363 165.5px,#fca934 171.5px,#fdc527 174.5px,#fdc627 181.5px,#f99a3e 193.5px)"></i>
<i style="height:1px;background:linear-gradient(90deg,#130789 0.5px,#1b068d 55.5px,#370499 64.5px,#5c01a6 68.5px,#8707a6 71.5px,#a01a9c 74.5px,#9410a2 78.5px,#7201a8 83.5px,#5e01a6 91.5px,#240691 124.5px,#2f0596 127.5px,#5102a3 129.5px,#6f00a8 130.5px,#9613a1 131.5px,#e3685f 133.5px,#f9983e 134.5px,#fdc527 135.5px,#f9dd25 136.5px,#f6e626 137.5px,#f9dc24 139.5px,#fca537 142.5px,#de5f65 146.5px,#c13b82 150.5px,#b7318a 156.5px,#c9447a 162.5px,#ee7b51 168.5px,#feb72d 173.5px,#fdca26 177.5px,#feb72d 187.5px,#fa9c3c 193.5px)"></i>
<i style="height:1px;background:linear-gradient(90deg,#130789 0.5px,#1b068d 56.5px,#310597 64.5px,#5002a2 68.5px,#8606a6 72.5px,#9e199d 75.5px,#9a169f 78.5px,#7201a8 84.5px,#5e01a6 92.5px,#240691 124.5px,#310597 128.5px,#5601a4 130.5px,#7501a8 131.5px,#9e199d 132.5px,#e97158 134.5px,#fba238 135.5px,#fdcb26 136.5px,#f8e125 137.5px,#f7e225 139.5px,#fdb52e 142.5px,#e56a5d 146.5px,#c6417d 150.5px,#b7318a 155.5px,#c5407e 162.5px,#e97158 168.5px,#fdae32 173.5px,#fdc627 176.5px,#fdc229 184.5px,#fb9f3a 193.5px)"></i>
<i style="height:1px;background:linear-gradient(90deg,#130789 0.5px,#1b068d 57.5px,#2f0596 65.5px,#5002a2 69.5px,#8606a6 73.5px,#9e199d 76.5px,#9410a2 80.5px,#7201a8 85.5px,#5901a5 95.5px,#240691 125.5px,#2c0594 128.5px,#43039e 130.5px,#7d03a8 132.5px,#a72197 133.5px,#ee7b51 135.5px,#fdac33 136.5px,#fcd225 137.5px,#f7e225 138.5px,#f7e225 140.5px,#fdc527 142.5px,#f48948 145.5px,#d24f71 149.5px,#ba3388 154.5px,#bf3984 161.5px,#d6556d 166.5px,#fca537 173.5px,#fdc627 177.5px,#fec029 185.5px,#fba238 193.5px)"></i>
<i style="height:1px;background:linear-gradient(90deg,#130789 0.5px,#1b068d 59.5px,#350498 67.5px,#5b01a5 71.5px,#8405a7 74.5px,#9d189d 77.5px,#9410a2 81.5px,#6e00a8 87.5px,#4e02a2 103.5px,#240691 125.5px,#2c0594 129.5px,#46039f 131.5px,#6001a6 132.5px,#8405a7 133.5px,#b02991 134.5px,#f3854b 136.5px,#fdb52e 137.5px,#fbd724 138.5px,#f7e425 139.5px,#f8df25 141.5px,#fdac33 144.5px,#e16462 148.5px,#c33d80 152.5px,#b7318a 157.5px,#c33d80 163.5px,#e56a5d 169.5px,#fca636 174.5px,#fdc328 177.5px,#fdc527 184.5px,#fca537 193.5px)"></i>
<i style="height:1px;background:linear-gradient(90deg,#130789 0.5px,#1b068d 60.5px,#350498 68.5px,#5b01a5 72.5px,#8305a7 75.5px,#9d189d 78.5px,#9410a2 82.5px,#6e00a8 88.5px,#5601a4 99.5px,#240691 126.5px,#2e0595 130.5px,#4b03a1 132.5px,#6600a7 133.5px,#8d0ba5 134.5px,#dc5d67 136.5px,#f68f44 137.5px,#febd2a 138.5px,#f9dc24 139.5px,#f6e626 140.5px,#f9dd25 142.5px,#febd2a 144.5px,#e87059 148.5px,#c8437b 152.5px,#b7318a 157.5px,#c43e7f 164.5px,#e66c5c 170.5px,#fdb42f 176.5px,#fdc827 179.5px,#feb82c 189.5px,#fca835 193.5px)"></i>
<i style="height:1px;background:linear-gradient(90deg,#130789 0.5px,#1b068d 61.5px,#350498 69.5px,#5901a5 73.5px,#8305a7 76.5px,#9d189d 79.5px,#9511a1 83.5px,#7201a8 88.5px,#5901a5 97.5px,#240691 127.5px,#280592 130.5px,#3c049b 132.5px,#6c00a8 134.5px,#9511a1 135.5px,#e3685f 137.5px,#f9983e 138.5px,#fdc527 139.5px,#f9dd25 140.5px,#f6e626 141.5px,#f9dc24 143.5px,#feb82c 145.5px,#e76e5b 149.5px,#c7427c 153.5px,#b7318a 158.5px,#c43e7f 165.5px,#e76f5a 171.5px,#fdb52e 177.5px,#fdc827 180.5px,#feba2c 189.5px,#fdab33 193.5px)"></i>
<i style="height:1px;background:linear-gradient(90deg,#130789 0.5px,#1b068d 62.5px,#2f0596 69.5px,#5901a5 74.5px,#8305a7 77.5px,#9c179e 80.5px,#9511a1 84.5px,#7201a8 89.5px,#5901a5 97.5px,#240691 128.5px,#310597 132.5px,#3e049c 133.5px,#7401a8 135.5px,#9d189d 136.5px,#e97158 138.5px,#fba238 139.5px,#fccd25 140.5px,#f8e125 141.5px,#f7e225 143.5px,#fdc827 145.5px,#f58c46 148.5px,#d45270 152.5px,#ba3388 157.5px,#be3885 164.5px,#db5c68 170.5px,#fba238 176.5px,#fdc527 180.5px,#fdc229 187.5px,#fdae32 193.5px)"></i>
<i style="height:1px;background:linear-gradient(90deg,#130789 0.5px,#1b068d 63.5px,#2e0595 70.5px,#4e02a2 74.5px,#8305a7 78.5px,#9d189d 81.5px,#9511a1 85.5px,#7201a8 90.5px,#5901a5 98.5px,#240691 129.5px,#2a0593 132.5px,#41049d 134.5px,#7b02a8 136.5px,#a62098 137.5px,#ee7b51 139.5px,#fdac33 140.5px,#fcd225 141.5px,#f7e225 142.5px,#f8e125 144.5px,#fdb130 147.5px,#e3685f 151.5px,#c5407e 155.5px,#b7318a 160.5px,#c6417d 167.5px,#e97257 173.5px,#fdaf31 178.5px,#fdc527 181.5px,#febe2a 189.5px,#fdaf31 193.5px)"></i>
<i style="height:1px;background:linear-gradient(90deg,#130789 0.5px,#1b068d 64.5px,#330597 72.5px,#6600a7 77.5px,#8e0ca4 80.5px,#a01a9c 83.5px,#8808a6 88.5px,#6400a7 94.5px,#220690 130.5px,#2c0594 133.5px,#46039f 135.5px,#6001a6 136.5px,#8405a7 137.5px,#ae2892 138.5px,#f3854b 140.5px,#fdb52e 141.5px,#fbd724 142.5px,#f7e425 143.5px,#f8df25 145.5px,#fdac33 148.5px,#e16462 152.5px,#c33d80 156.5px,#b7318a 162.5px,#c7427c 168.5px,#eb7556 174.5px,#fdb130 179.5px,#fdc627 182.5px,#feb72d 192.5px,#fdb22f 193.5px)"></i>
<i style="height:1px;background:linear-gradient(90deg,#130789 0.5px,#1b068d 65.5px,#2e0595 72.5px,#4e02a2 76.5px,#8305a7 80.5px,#9e199d 83.5px,#9613a1 87.5px,#7201a8 92.5px,#5901a5 99.5px,#220690 131.5px,#2e0595 134.5px,#4903a0 136.5px,#6600a7 137.5px,#8d0ba5 138.5px,#b7318a 139.5px,#dd5e66 140.5px,#f68f44 141.5px,#febe2a 142.5px,#f9dc24 143.5px,#f6e626 144.5px,#f9dd25 146.5px,#febd2a 148.5px,#e87059 152.5px,#c8437b 156.5px,#b7318a 161.5px,#c33d80 168.5px,#e66c5c 174.5px,#fdb42f 180.5px,#fdc627 183.5px,#feb82c 192.5px,#fdb52e 193.5px)"></i>
<i style="height:1px;background:linear-gradient(90deg,#130789 0.5px,#19068c 65.5px,#2e0595 73.5px,#4e02a2 77.5px,#8405a7 81.5px,#9e199d 84.5px,#9c179e 87.5px,#7100a8 93.5px,#5502a4 102.5px,#220690 132.5px,#2f0596 135.5px,#4e02a2 137.5px,#6c00a8 138.5px,#9511a1 139.5px,#e3685f 141.5px,#f99a3e 142.5px,#fdc627 143.5px,#f8df25 144.5px,#f7e425 146.5px,#feb82c 149.5px,#e76e5b 153.5px,#c7427c 157.5px,#b7318a 162.5px,#c43e7f 169.5px,#e76f5a 175.5px,#fdb52e 181.5px,#fdc627 184.5px,#feb72d 193.5px)"></i>
<i style="height:1px;background:linear-gradient(90deg,#130789 0.5px,#19068c 66.5px,#2e0595 74.5px,#4e02a2 78.5px,#8405a7 82.5px,#a01a9c 85.5px,#9613a1 89.5px,#7100a8 94.5px,#5801a4 101.5px,#220690 133.5px,#310597 136.5px,#3e049c 137.5px,#7401a8 139.5px,#9e199d 140.5px,#e97158 142.5px,#fca338 143.5px,#fccd25 144.5px,#f8e125 145.5px,#f7e225 147.5px,#fdc827 149.5px,#f58c46 152.5px,#d45270 156.5px,#ba3388 161.5px,#be3885 168.5px,#db5c68 174.5px,#fba139 180.5px,#fdc328 184.5px,#febd2a 192.5px,#feba2c 193.5px)"></i>
<i style="height:1px;background:linear-gradient(90deg,#130789 0.5px,#1b068d 69.5px,#330597 76.5px,#5b01a5 80.5px,#8606a6 83.5px,#a01a9c 86.5px,#9613a1 90.5px,#7100a8 95.5px,#5502a4 103.5px,#220690 133.5px,#330597 137.5px,#41049d 138.5px,#5901a5 139.5px,#7d03a8 140.5px,#a72197 141.5px,#ee7b51 143.5px,#fdac33 144.5px,#fbd324 145.5px,#f7e225 146.5px,#f8e125 148.5px,#fdb130 151.5px,#e3685f 155.5px,#c5407e 159.5px,#b7318a 164.5px,#c6417d 171.5px,#e97257 177.5px,#fdaf31 182.5px,#fdc328 185.5px,#febb2b 193.5px)"></i>
<i style="height:1px;background:linear-gradient(90deg,#130789 0.5px,#1b068d 70.5px,#330597 77.5px,#5c01a6 81.5px,#8707a6 84.5px,#a11b9b 87.5px,#9613a1 91.5px,#7100a8 96.5px,#5601a4 103.5px,#220690 134.5px,#2c0594 137.5px,#46039f 139.5px,#6001a6 140.5px,#8405a7 141.5px,#b02991 142.5px,#d6556d 143.5px,#f3854b 144.5px,#fdb52e 145.5px,#fad824 146.5px,#f7e425 147.5px,#f8df25 149.5px,#fdac33 152.5px,#e26561 156.5px,#c43e7f 160.5px,#b7318a 166.5px,#c7427c 172.5px,#e56a5d 177.5px,#fdb130 183.5px,#fdc527 186.5px,#febd2a 193.5px)"></i>
<i style="height:1px;background:linear-gradient(90deg,#130789 0.5px,#1b068d 71.5px,#350498 78.5px,#5c01a6 82.5px,#8808a6 85.5px,#a11b9b 88.5px,#9d189d 91.5px,#7701a8 96.5px,#5901a5 102.5px,#220690 135.5px,#2e0595 138.5px,#4b03a1 140.5px,#6600a7 141.5px,#8d0ba5 142.5px,#b7318a 143.5px,#dd5e66 144.5px,#f79044 145.5px,#febe2a 146.5px,#f9dc24 147.5px,#f6e626 148.5px,#f9dd25 150.5px,#fca934 153.5px,#e06363 157.5px,#c33d80 161.5px,#b7318a 167.5px,#cc4977 174.5px,#f1834c 180.5px,#febb2b 185.5px,#fdc527 189.5px,#febe2a 193.5px)"></i>
<i style="height:1px;background:linear-gradient(90deg,#130789 0.5px,#1b068d 72.5px,#350498 79.5px,#5e01a6 83.5px,#8808a6 86.5px,#a21d9a 89.5px,#9613a1 93.5px,#6f00a8 98.5px,#5302a3 106.5px,#220690 136.5px,#2e0595 139.5px,#4e02a2 141.5px,#6e00a8 142.5px,#9511a1 143.5px,#e3685f 145.5px,#f99a3e 146.5px,#fdc527 147.5px,#f9dd25 148.5px,#f6e626 149.5px,#f9dc24 151.5px,#fca537 154.5px,#de6164 158.5px,#c33d80 162.5px,#b7318a 167.5px,#c43e7f 173.5px,#e76e5b 179.5px,#fdb42f 185.5px,#fdc527 188.5px,#fec029 193.5px)"></i>
<i style="height:1px;background:linear-gradient(90deg,#130789 0.5px,#1b068d 73.5px,#350498 80.5px,#5e01a6 84.5px,#8a09a5 87.5px,#a21d9a 90.5px,#9613a1 94.5px,#6f00a8 99.5px,#5302a3 107.5px,#220690 136.5px,#2f0596 140.5px,#5502a4 142.5px,#7401a8 143.5px,#9e199d 144.5px,#e97158 146.5px,#fba238 147.5px,#fccd25 148.5px,#f8e125 149.5px,#f7e225 151.5px,#fdb52e 154.5px,#e66c5c 158.5px,#c7427c 162.5px,#b7318a 167.5px,#c5407e 174.5px,#e26561 179.5px,#fdac33 185.5px,#fdc527 189.5px,#fdc229 193.5px)"></i>
<i style="height:1px;background:linear-gradient(90deg,#130789 0.5px,#16078a 37.5px,#1b068d 74.5px,#350498 81.5px,#6f00a8 86.5px,#9e199d 90.5px,#a11b9b 93.5px,#6f00a8 100.5px,#5601a4 106.5px,#220690 137.5px,#2a0593 140.5px,#41049d 142.5px,#7b02a8 144.5px,#a62098 145.5px,#ee7b51 147.5px,#fdac33 148.5px,#fcd225 149.5px,#f7e225 150.5px,#f7e225 152.5px,#fdc627 154.5px,#f58b47 157.5px,#d45270 161.5px,#be3885 165.5px,#ba3388 171.5px,#d04d73 177.5px,#f58b47 183.5px,#febe2a 188.5px,#fdc229 193.5px)"></i>
<i style="height:1px;background:linear-gradient(90deg,#130789 0.5px,#130789 35.5px,#1d068e 37.5px,#16078a 58.5px,#1b068d 75.5px,#350498 82.5px,#6100a7 86.5px,#8d0ba5 89.5px,#a31e9a 92.5px,#9613a1 96.5px,#6e00a8 101.5px,#5102a3 109.5px,#220690 138.5px,#2c0594 141.5px,#46039f 143.5px,#6001a6 144.5px,#8405a7 145.5px,#ae2892 146.5px,#d5546e 147.5px,#f2844b 148.5px,#fdb42f 149.5px,#fbd724 150.5px,#f7e425 151.5px,#f8e125 153.5px,#fdaf31 156.5px,#e3685f 160.5px,#c6417d 164.5px,#b7318a 170.5px,#c7427c 176.5px,#e4695e 181.5px,#fdaf31 187.5px,#fdc328 190.5px,#fdc229 193.5px)"></i>
<i style="height:1px;background:linear-gradient(90deg,#130789 0.5px,#16078a 34.5px,#240691 37.5px,#19068c 44.5px,#1b068d 76.5px,#2f0596 82.5px,#5502a4 86.5px,#8004a8 89.5px,#a11b9b 92.5px,#a21d9a 95.5px,#7501a8 101.5px,#5502a4 108.5px,#220690 138.5px,#2c0594 142.5px,#4903a0 144.5px,#6600a7 145.5px,#8b0aa5 146.5px,#db5c68 148.5px,#f68d45 149.5px,#febb2b 150.5px,#fada24 151.5px,#f6e626 153.5px,#fcd225 155.5px,#f9983e 158.5px,#da5a6a 162.5px,#c03a83 166.5px,#b83289 172.5px,#cc4977 178.5px,#f1834c 184.5px,#feba2c 189.5px,#fdc328 193.5px)"></i>
<i style="height:1px;background:linear-gradient(90deg,#130789 0.5px,#16078a 33.5px,#2c0594 37.5px,#19068c 43.5px,#1b068d 77.5px,#2f0596 83.5px,#5601a4 87.5px,#8104a7 90.5px,#a11b9b 93.5px,#a21d9a 96.5px,#7501a8 102.5px,#5601a4 108.5px,#220690 139.5px,#2e0595 143.5px,#4e02a2 145.5px,#6c00a8 146.5px,#9410a2 147.5px,#e26561 149.5px,#f89540 150.5px,#fdc229 151.5px,#f9dd25 152.5px,#f6e626 154.5px,#fcce25 156.5px,#f89540 159.5px,#d9586a 163.5px,#c03a83 167.5px,#b83289 173.5px,#cd4a76 179.5px,#f2844b 185.5px,#febb2b 190.5px,#fdc328 193.5px)"></i>
<i style="height:1px;background:linear-gradient(90deg,#130789 0.5px,#19068c 34.5px,#330597 38.5px,#1b068d 43.5px,#19068c 77.5px,#2f0596 84.5px,#5601a4 88.5px,#8305a7 91.5px,#a21d9a 94.5px,#a21d9a 97.5px,#7501a8 103.5px,#5601a4 109.5px,#220690 140.5px,#2f0596 144.5px,#5302a3 146.5px,#7201a8 147.5px,#9c179e 148.5px,#e66c5c 150.5px,#fa9e3b 151.5px,#fdc827 152.5px,#f8df25 153.5px,#f7e425 155.5px,#fccd25 157.5px,#f79342 160.5px,#d7566c 164.5px,#bf3984 168.5px,#ba3388 174.5px,#ce4b75 180.5px,#f79342 187.5px,#febb2b 191.5px,#fdc328 193.5px)"></i>
<i style="height:1px;background:linear-gradient(90deg,#130789 0.5px,#19068c 34.5px,#2c0594 37.5px,#38049a 39.5px,#1d068e 43.5px,#16078a 61.5px,#1b068d 79.5px,#310597 85.5px,#5801a4 89.5px,#8405a7 92.5px,#a21d9a 95.5px,#a21d9a 98.5px,#7401a8 104.5px,#5302a3 111.5px,#220690 141.5px,#2a0593 144.5px,#41049d 146.5px,#7801a8 148.5px,#a21d9a 149.5px,#eb7556 151.5px,#fca537 152.5px,#fccd25 153.5px,#f8e125 154.5px,#f7e425 156.5px,#feb82c 159.5px,#e76f5a 163.5px,#c8437b 167.5px,#b7318a 173.5px,#c6417d 179.5px,#e26660 184.5px,#fdac33 190.5px,#fdc229 193.5px)"></i>
<i style="height:1px;background:linear-gradient(90deg,#130789 0.5px,#19068c 34.5px,#280592 37.5px,#3e049c 39.5px,#370499 41.5px,#20068f 44.5px,#16078a 58.5px,#1b068d 80.5px,#310597 86.5px,#5901a5 90.5px,#8606a6 93.5px,#a31e9a 96.5px,#a21d9a 99.5px,#7401a8 105.5px,#5502a4 111.5px,#220690 141.5px,#2a0593 145.5px,#43039e 147.5px,#8004a8 149.5px,#a82296 150.5px,#ef7c51 152.5px,#fdac33 153.5px,#fcd225 154.5px,#f7e225 155.5px,#f7e225 157.5px,#fdb52e 160.5px,#e66c5c 164.5px,#c8437b 168.5px,#b83289 173.5px,#c23c81 179.5px,#e4695e 185.5px,#fdae32 191.5px,#febd2a 193.5px)"></i>
<i style="height:1px;background:linear-gradient(90deg,#130789 0.5px,#19068c 35.5px,#2c0594 38.5px,#44039e 40.5px,#38049a 42.5px,#20068f 45.5px,#16078a 59.5px,#1b068d 81.5px,#310597 87.5px,#5901a5 91.5px,#8707a6 94.5px,#a51f99 97.5px,#9e199d 101.5px,#7401a8 106.5px,#5502a4 112.5px,#220690 142.5px,#2c0594 146.5px,#46039f 148.5px,#8606a6 150.5px,#b02991 151.5px,#f1834c 153.5px,#fdb22f 154.5px,#fbd524 155.5px,#f7e225 156.5px,#f8e125 158.5px,#fdc627 160.5px,#f58c46 163.5px,#d5536f 167.5px,#bb3488 172.5px,#bd3786 178.5px,#d24f71 183.5px,#fca537 191.5px,#feb82c 193.5px)"></i>
<i style="height:1px;background:linear-gradient(90deg,#130789 0.5px,#19068c 35.5px,#260591 38.5px,#4b03a1 41.5px,#48039f 42.5px,#240691 45.5px,#16078a 56.5px,#1b068d 82.5px,#310597 88.5px,#6900a8 93.5px,#9e199d 97.5px,#a62098 100.5px,#8e0ca4 104.5px,#6600a7 109.5px,#4903a0 118.5px,#20068f 143.5px,#2c0594 147.5px,#4b03a1 149.5px,#6600a7 150.5px,#8b0aa5 151.5px,#b52f8c 152.5px,#f48948 154.5px,#feb72d 155.5px,#fad824 156.5px,#f7e425 157.5px,#f8e125 159.5px,#fdb130 162.5px,#e4695e 166.5px,#c6417d 170.5px,#b7318a 175.5px,#c8437b 182.5px,#ec7754 188.5px,#fdb22f 193.5px)"></i>
<i style="height:1px;background:linear-gradient(90deg,#130789 0.5px,#19068c 35.5px,#2a0593 39.5px,#5002a2 42.5px,#240691 46.5px,#16078a 58.5px,#1b068d 83.5px,#330597 89.5px,#5c01a6 93.5px,#8808a6 96.5px,#a51f99 99.5px,#9e199d 103.5px,#7401a8 108.5px,#5302a3 114.5px,#20068f 144.5px,#2e0595 148.5px,#4e02a2 150.5px,#6a00a8 151.5px,#910ea3 152.5px,#de5f65 154.5px,#f79044 155.5px,#febd2a 156.5px,#fada24 157.5px,#f6e626 159.5px,#fcd225 161.5px,#f99a3e 164.5px,#da5a6a 168.5px,#c03a83 172.5px,#ba3388 178.5px,#ce4b75 184.5px,#f3874a 190.5px,#fca934 193.5px)"></i>
<i style="height:1px;background:linear-gradient(90deg,#130789 0.5px,#19068c 36.5px,#240691 39.5px,#5002a2 42.5px,#5502a4 43.5px,#260591 47.5px,#16078a 57.5px,#1b068d 84.5px,#330597 90.5px,#5c01a6 94.5px,#8a09a5 97.5px,#a62098 100.5px,#a31e9a 103.5px,#7401a8 109.5px,#5601a4 114.5px,#20068f 145.5px,#2f0596 149.5px,#5102a3 151.5px,#6f00a8 152.5px,#9613a1 153.5px,#e26660 155.5px,#f89540 156.5px,#fdc229 157.5px,#f9dc24 158.5px,#f6e626 159.5px,#f9dd25 161.5px,#fdab33 164.5px,#e16462 168.5px,#c43e7f 172.5px,#b7318a 177.5px,#ca457a 184.5px,#ef7c51 190.5px,#fba139 193.5px)"></i>
<i style="height:1px;background:linear-gradient(90deg,#130789 0.5px,#19068c 36.5px,#260591 40.5px,#5601a4 43.5px,#5901a5 44.5px,#2e0595 47.5px,#1b068d 52.5px,#16078a 75.5px,#20068f 87.5px,#44039e 93.5px,#7d03a8 97.5px,#a11b9b 100.5px,#a72197 103.5px,#8e0ca4 107.5px,#6a00a8 111.5px,#5002a2 117.5px,#20068f 146.5px,#310597 150.5px,#5502a4 152.5px,#7401a8 153.5px,#9c179e 154.5px,#e66c5c 156.5px,#fa9c3c 157.5px,#fdc627 158.5px,#f9dd25 159.5px,#f6e626 160.5px,#f9dc24 162.5px,#fca835 165.5px,#df6263 169.5px,#c33d80 173.5px,#b83289 179.5px,#cb4679 185.5px,#f07f4f 191.5px,#f9973f 193.5px)"></i>
<i style="height:1px;background:linear-gradient(90deg,#130789 0.5px,#19068c 36.5px,#220690 40.5px,#38049a 42.5px,#5c01a6 44.5px,#5e01a6 45.5px,#2e0595 48.5px,#1b068d 53.5px,#16078a 76.5px,#20068f 88.5px,#3c049b 93.5px,#7d03a8 98.5px,#a11b9b 101.5px,#a72197 104.5px,#8e0ca4 108.5px,#6a00a8 112.5px,#4c02a1 119.5px,#20068f 147.5px,#310597 151.5px,#5801a4 153.5px,#7801a8 154.5px,#a11b9b 155.5px,#e97257 157.5px,#fba238 158.5px,#fdcb26 159.5px,#f8df25 160.5px,#f7e425 162.5px,#feb82c 165.5px,#e76e5b 169.5px,#c8437b 173.5px,#b83289 178.5px,#c33d80 184.5px,#e56a5d 190.5px,#f68d45 193.5px)"></i>
<i style="height:1px;background:linear-gradient(90deg,#130789 0.5px,#19068c 37.5px,#240691 41.5px,#3e049c 43.5px,#6400a7 45.5px,#6100a7 46.5px,#2e0595 49.5px,#1d068e 53.5px,#130789 68.5px,#1d068e 88.5px,#3c049b 94.5px,#6e00a8 98.5px,#a11b9b 102.5px,#a72197 105.5px,#8e0ca4 109.5px,#6a00a8 113.5px,#4c02a1 120.5px,#20068f 147.5px,#2a0593 151.5px,#43039e 153.5px,#7d03a8 155.5px,#a72197 156.5px,#ed7953 158.5px,#fca835 159.5px,#fcce25 160.5px,#f8e125 161.5px,#f7e225 163.5px,#fdc827 165.5px,#f68d45 168.5px,#d5536f 172.5px,#bb3488 177.5px,#bd3786 183.5px,#d9586a 189.5px,#f2844b 193.5px)"></i>
<i style="height:1px;background:linear-gradient(90deg,#130789 0.5px,#19068c 37.5px,#260591 42.5px,#2f0596 43.5px,#5b01a5 45.5px,#6900a8 46.5px,#6400a7 47.5px,#2e0595 50.5px,#1b068d 56.5px,#16078a 77.5px,#1d068e 89.5px,#3c049b 95.5px,#7e03a8 100.5px,#a21d9a 103.5px,#a72197 106.5px,#8e0ca4 110.5px,#6a00a8 114.5px,#4e02a2 120.5px,#20068f 148.5px,#2a0593 152.5px,#46039f 154.5px,#8305a7 156.5px,#ac2694 157.5px,#f07f4f 159.5px,#fdaf31 160.5px,#fbd324 161.5px,#f6e626 163.5px,#fbd524 165.5px,#fa9c3c 168.5px,#db5c68 172.5px,#c13b82 176.5px,#b83289 182.5px,#ce4b75 188.5px,#ed7a52 193.5px)"></i>
<i style="height:1px;background:linear-gradient(90deg,#130789 0.5px,#19068c 38.5px,#280592 43.5px,#4b03a1 45.5px,#6300a7 46.5px,#6f00a8 47.5px,#6700a8 48.5px,#3c049b 50.5px,#280592 52.5px,#16078a 62.5px,#1b068d 89.5px,#350498 95.5px,#6f00a8 100.5px,#a21d9a 104.5px,#a72197 107.5px,#8d0ba5 111.5px,#6300a7 116.5px,#4903a0 123.5px,#20068f 149.5px,#2c0594 153.5px,#48039f 155.5px,#6300a7 156.5px,#8808a6 157.5px,#b22b8f 158.5px,#f3854b 160.5px,#fdb52e 161.5px,#fbd524 162.5px,#f7e225 163.5px,#f8df25 165.5px,#fdae32 168.5px,#e26660 172.5px,#c5407e 176.5px,#b83289 181.5px,#c5407e 187.5px,#e97158 193.5px)"></i>
<i style="height:1px;background:linear-gradient(90deg,#130789 0.5px,#19068c 39.5px,#2a0593 44.5px,#5102a3 46.5px,#6a00a8 47.5px,#7501a8 48.5px,#6900a8 49.5px,#3a049a 51.5px,#280592 53.5px,#16078a 63.5px,#1b068d 90.5px,#350498 96.5px,#6100a7 100.5px,#8e0ca4 103.5px,#a72197 106.5px,#9e199d 110.5px,#7100a8 115.5px,#4c02a1 122.5px,#20068f 150.5px,#2e0595 154.5px,#4b03a1 156.5px,#6700a8 157.5px,#8e0ca4 158.5px,#dc5d67 160.5px,#f68d45 161.5px,#feba2c 162.5px,#fad824 163.5px,#f7e425 165.5px,#febd2a 168.5px,#ea7457 172.5px,#ca457a 176.5px,#b83289 181.5px,#c23c81 187.5px,#dd5e66 192.5px,#e4695e 193.5px)"></i>
<i style="height:1px;background:linear-gradient(90deg,#130789 0.5px,#19068c 39.5px,#2e0595 45.5px,#5901a5 47.5px,#7401a8 48.5px,#7a02a8 49.5px,#6a00a8 50.5px,#3a049a 52.5px,#280592 54.5px,#16078a 64.5px,#1b068d 91.5px,#350498 97.5px,#6100a7 101.5px,#8e0ca4 104.5px,#a82296 107.5px,#9e199d 111.5px,#7100a8 116.5px,#5002a2 122.5px,#20068f 150.5px,#260591 154.5px,#3a049a 156.5px,#4e02a2 157.5px,#6c00a8 158.5px,#9410a2 159.5px,#e16462 161.5px,#f89441 162.5px,#fec029 163.5px,#fada24 164.5px,#f7e225 166.5px,#fdcb26 168.5px,#f79342 171.5px,#d7566c 175.5px,#bf3984 179.5px,#ba3388 185.5px,#d24f71 191.5px,#de6164 193.5px)"></i>
<i style="height:1px;background:linear-gradient(90deg,#130789 0.5px,#19068c 40.5px,#280592 45.5px,#310597 46.5px,#7b02a8 49.5px,#7e03a8 50.5px,#3a049a 53.5px,#280592 55.5px,#16078a 65.5px,#1b068d 92.5px,#350498 98.5px,#6100a7 102.5px,#8e0ca4 105.5px,#a82296 108.5px,#9e199d 112.5px,#7a02a8 116.5px,#5102a3 122.5px,#20068f 150.5px,#280592 155.5px,#3e049c 157.5px,#7201a8 159.5px,#9a169f 160.5px,#e56b5d 162.5px,#fa9b3d 163.5px,#fdc527 164.5px,#f9dc24 165.5px,#f8e125 167.5px,#fdca26 169.5px,#f79044 172.5px,#d6556d 176.5px,#bf3984 180.5px,#bb3488 186.5px,#d35171 192.5px,#da5a6a 193.5px)"></i>
<i style="height:1px;background:linear-gradient(90deg,#130789 0.5px,#19068c 41.5px,#2a0593 46.5px,#350498 47.5px,#6a00a8 49.5px,#8305a7 50.5px,#8305a7 51.5px,#4e02a2 53.5px,#38049a 54.5px,#260591 57.5px,#16078a 66.5px,#1b068d 93.5px,#350498 99.5px,#6300a7 103.5px,#8f0da4 106.5px,#a82296 109.5px,#a31e9a 112.5px,#7a02a8 117.5px,#5102a3 123.5px,#20068f 151.5px,#280592 156.5px,#3f049c 158.5px,#5601a4 159.5px,#7801a8 160.5px,#a11b9b 161.5px,#e97257 163.5px,#fba238 164.5px,#fdca26 165.5px,#f9dd25 166.5px,#f8df25 168.5px,#fdb42f 171.5px,#de5f65 176.5px,#c23c81 180.5px,#ba3388 186.5px,#ce4b75 192.5px,#d5536f 193.5px)"></i>
<i style="height:1px;background:linear-gradient(90deg,#130789 0.5px,#19068c 41.5px,#2c0594 47.5px,#3a049a 48.5px,#7501a8 50.5px,#8a09a5 51.5px,#8606a6 52.5px,#4c02a1 54.5px,#2e0595 56.5px,#16078a 66.5px,#1b068d 94.5px,#350498 100.5px,#6300a7 104.5px,#8f0da4 107.5px,#a82296 110.5px,#a31e9a 113.5px,#7a02a8 118.5px,#5502a4 123.5px,#2c0594 143.5px,#20068f 155.5px,#330597 158.5px,#5b01a5 160.5px,#7e03a8 161.5px,#a72197 162.5px,#ed7a52 164.5px,#fca934 165.5px,#fcce25 166.5px,#f7e225 168.5px,#fbd324 170.5px,#fa9e3b 173.5px,#dc5d67 177.5px,#c23c81 181.5px,#ba3388 187.5px,#cb4679 192.5px,#d04d73 193.5px)"></i>
<i style="height:1px;background:linear-gradient(90deg,#130789 0.5px,#19068c 42.5px,#2f0596 48.5px,#3f049c 49.5px,#7e03a8 51.5px,#8f0da4 52.5px,#8707a6 53.5px,#4b03a1 55.5px,#370499 56.5px,#1d068e 62.5px,#130789 79.5px,#1d068e 96.5px,#350498 101.5px,#6300a7 105.5px,#910ea3 108.5px,#aa2395 111.5px,#a31e9a 114.5px,#7801a8 119.5px,#5002a2 125.5px,#20068f 152.5px,#240691 157.5px,#350498 159.5px,#6001a6 161.5px,#8405a7 162.5px,#ae2892 163.5px,#d5536f 164.5px,#f0804e 165.5px,#fdaf31 166.5px,#fcd025 167.5px,#f8e125 169.5px,#fcd025 171.5px,#fa9b3d 174.5px,#db5c68 178.5px,#c13b82 182.5px,#ba3388 188.5px,#cc4778 193.5px)"></i>
<i style="height:1px;background:linear-gradient(90deg,#130789 0.5px,#19068c 42.5px,#2a0593 48.5px,#46039f 50.5px,#8707a6 52.5px,#9511a1 53.5px,#8707a6 54.5px,#4903a0 56.5px,#2e0595 58.5px,#16078a 68.5px,#1b068d 96.5px,#350498 102.5px,#7401a8 107.5px,#a51f99 111.5px,#a82296 114.5px,#7801a8 120.5px,#5002a2 126.5px,#20068f 153.5px,#240691 158.5px,#370499 160.5px,#6400a7 162.5px,#8a09a5 163.5px,#b42e8d 164.5px,#f48849 166.5px,#fdb52e 167.5px,#fbd324 168.5px,#f8e125 170.5px,#fcce25 172.5px,#f9983e 175.5px,#da5b69 179.5px,#bd3786 184.5px,#bd3786 190.5px,#c8437b 193.5px)"></i>
<i style="height:1px;background:linear-gradient(90deg,#130789 0.5px,#19068c 43.5px,#2c0594 49.5px,#370499 50.5px,#6f00a8 52.5px,#8f0da4 53.5px,#99159f 54.5px,#8707a6 55.5px,#48039f 57.5px,#2e0595 59.5px,#16078a 69.5px,#1b068d 97.5px,#370499 103.5px,#6400a7 107.5px,#920fa3 110.5px,#aa2395 113.5px,#a31e9a 116.5px,#7801a8 121.5px,#5302a3 126.5px,#2e0595 143.5px,#20068f 157.5px,#2e0595 160.5px,#4c02a1 162.5px,#6900a8 163.5px,#910ea3 164.5px,#de5f65 166.5px,#f68d45 167.5px,#feba2c 168.5px,#fbd524 169.5px,#f8df25 170.5px,#fad824 172.5px,#fca835 175.5px,#d9586a 180.5px,#bd3786 185.5px,#bb3488 190.5px,#c5407e 193.5px)"></i>
<i style="height:1px;background:linear-gradient(90deg,#130789 0.5px,#19068c 44.5px,#2e0595 50.5px,#3c049b 51.5px,#5502a4 52.5px,#7a02a8 53.5px,#9814a0 54.5px,#9d189d 55.5px,#8707a6 56.5px,#46039f 58.5px,#2e0595 60.5px,#16078a 70.5px,#1b068d 98.5px,#370499 104.5px,#6400a7 108.5px,#920fa3 111.5px,#aa2395 114.5px,#a31e9a 117.5px,#7701a8 122.5px,#4e02a2 128.5px,#20068f 154.5px,#260591 160.5px,#3c049b 162.5px,#5002a2 163.5px,#6f00a8 164.5px,#9613a1 165.5px,#e26561 167.5px,#f89441 168.5px,#febe2a 169.5px,#fbd724 170.5px,#f8df25 172.5px,#feb82c 175.5px,#e97158 179.5px,#ca457a 183.5px,#ba3388 188.5px,#c23c81 193.5px)"></i>
<i style="height:1px;background:linear-gradient(90deg,#130789 0.5px,#19068c 44.5px,#310597 51.5px,#41049d 52.5px,#8405a7 54.5px,#a01a9c 55.5px,#a01a9c 56.5px,#8707a6 57.5px,#46039f 59.5px,#2f0596 61.5px,#16078a 72.5px,#1b068d 99.5px,#370499 105.5px,#7501a8 110.5px,#a62098 114.5px,#a82296 117.5px,#8104a7 122.5px,#5601a4 127.5px,#38049a 138.5px,#1d068e 157.5px,#280592 161.5px,#3e049c 163.5px,#7401a8 165.5px,#9c179e 166.5px,#e56b5d 168.5px,#f99a3e 169.5px,#fdc229 170.5px,#fbd724 171.5px,#f9dd25 173.5px,#fdc627 175.5px,#f79143 178.5px,#d7566c 182.5px,#c03a83 186.5px,#bb3488 191.5px,#bf3984 193.5px)"></i>
<i style="height:1px;background:linear-gradient(90deg,#130789 0.5px,#19068c 45.5px,#2c0594 51.5px,#48039f 53.5px,#6600a7 54.5px,#8e0ca4 55.5px,#a62098 56.5px,#a21d9a 57.5px,#8606a6 58.5px,#44039e 60.5px,#2f0596 62.5px,#16078a 73.5px,#19068c 99.5px,#2f0596 105.5px,#5801a4 109.5px,#8606a6 112.5px,#a72197 115.5px,#a82296 118.5px,#8004a8 123.5px,#5601a4 128.5px,#3c049b 137.5px,#1d068e 159.5px,#280592 162.5px,#41049d 164.5px,#7801a8 166.5px,#a21d9a 167.5px,#e87059 169.5px,#fa9e3b 170.5px,#fdc527 171.5px,#fad824 172.5px,#f9dc24 174.5px,#fdb42f 177.5px,#e76e5b 181.5px,#c9447a 185.5px,#ba3388 190.5px,#bd3786 193.5px)"></i>
<i style="height:1px;background:linear-gradient(90deg,#130789 0.5px,#19068c 46.5px,#2e0595 52.5px,#4c02a1 54.5px,#6f00a8 55.5px,#9613a1 56.5px,#ab2494 57.5px,#a51f99 58.5px,#8405a7 59.5px,#44039e 61.5px,#2f0596 63.5px,#16078a 74.5px,#19068c 100.5px,#2f0596 106.5px,#5801a4 110.5px,#8707a6 113.5px,#a72197 116.5px,#a82296 119.5px,#7e03a8 124.5px,#5002a2 130.5px,#330597 143.5px,#1d068e 159.5px,#2a0593 163.5px,#43039e 165.5px,#5b01a5 166.5px,#7e03a8 167.5px,#a72197 168.5px,#eb7655 170.5px,#fca338 171.5px,#fdc627 172.5px,#fad824 173.5px,#fada24 175.5px,#fdb130 178.5px,#de5f65 183.5px,#c33d80 187.5px,#ba3388 192.5px,#bc3587 193.5px)"></i>
<i style="height:1px;background:linear-gradient(90deg,#130789 0.5px,#19068c 46.5px,#2f0596 53.5px,#3c049b 54.5px,#5502a4 55.5px,#7801a8 56.5px,#a01a9c 57.5px,#b12a90 58.5px,#a62098 59.5px,#8606a6 60.5px,#6001a6 61.5px,#46039f 62.5px,#2f0596 64.5px,#16078a 75.5px,#19068c 101.5px,#2f0596 107.5px,#6700a8 112.5px,#8707a6 114.5px,#a82296 117.5px,#a82296 120.5px,#7d03a8 125.5px,#4e02a2 131.5px,#260591 151.5px,#20068f 162.5px,#350498 165.5px,#6001a6 167.5px,#8305a7 168.5px,#ab2494 169.5px,#ed7a52 171.5px,#fca636 172.5px,#fdca26 173.5px,#fad824 174.5px,#fad824 176.5px,#fdae32 179.5px,#dd5e66 184.5px,#c23c81 188.5px,#ba3388 193.5px)"></i>
<i style="height:1px;background:linear-gradient(90deg,#130789 0.5px,#19068c 47.5px,#310597 54.5px,#3f049c 55.5px,#5b01a5 56.5px,#8305a7 57.5px,#a72197 58.5px,#b42e8d 59.5px,#a82296 60.5px,#8606a6 61.5px,#6001a6 62.5px,#44039e 63.5px,#2f0596 65.5px,#16078a 76.5px,#19068c 102.5px,#2f0596 108.5px,#5901a5 112.5px,#8808a6 115.5px,#aa2395 118.5px,#a21d9a 122.5px,#7201a8 127.5px,#4e02a2 132.5px,#310597 145.5px,#1d068e 161.5px,#2c0594 165.5px,#48039f 167.5px,#8707a6 169.5px,#b02991 170.5px,#f07f4f 172.5px,#fdab33 173.5px,#fdcb26 174.5px,#f9dc24 176.5px,#fccd25 178.5px,#f48849 182.5px,#d45270 186.5px,#bc3587 191.5px,#ba3388 193.5px)"></i>
<i style="height:1px;background:linear-gradient(90deg,#130789 0.5px,#19068c 48.5px,#350498 55.5px,#44039e 56.5px,#6100a7 57.5px,#8a09a5 58.5px,#ad2793 59.5px,#ba3388 60.5px,#aa2395 61.5px,#8405a7 62.5px,#5e01a6 63.5px,#44039e 64.5px,#2f0596 66.5px,#16078a 77.5px,#19068c 103.5px,#2f0596 109.5px,#5b01a5 113.5px,#8a09a5 116.5px,#aa2395 119.5px,#a21d9a 123.5px,#7b02a8 127.5px,#5102a3 132.5px,#38049a 141.5px,#1d068e 162.5px,#2c0594 166.5px,#4b03a1 168.5px,#6600a7 169.5px,#8b0aa5 170.5px,#b32c8e 171.5px,#f1834c 173.5px,#fdae32 174.5px,#fccd25 175.5px,#fada24 177.5px,#fdca26 179.5px,#f3854b 183.5px,#d35171 187.5px,#be3885 191.5px,#ba3388 193.5px)"></i>
<i style="height:1px;background:linear-gradient(90deg,#130789 0.5px,#19068c 48.5px,#2e0595 55.5px,#4903a0 57.5px,#6700a8 58.5px,#9410a2 59.5px,#b42e8d 60.5px,#bc3587 61.5px,#aa2395 62.5px,#8405a7 63.5px,#5e01a6 64.5px,#44039e 65.5px,#310597 67.5px,#16078a 77.5px,#19068c 104.5px,#2f0596 110.5px,#5c01a6 114.5px,#8b0aa5 117.5px,#aa2395 120.5px,#a72197 123.5px,#7801a8 128.5px,#5002a2 133.5px,#370499 143.5px,#1d068e 163.5px,#2e0595 167.5px,#4c02a1 169.5px,#6900a8 170.5px,#8e0ca4 171.5px,#da5b69 173.5px,#f3874a 174.5px,#fdb130 175.5px,#fccd25 176.5px,#fada24 178.5px,#feb82c 181.5px,#ea7457 185.5px,#cb4679 189.5px,#bb3488 193.5px)"></i>
<i style="height:1px;background:linear-gradient(90deg,#130789 0.5px,#19068c 49.5px,#2f0596 56.5px,#4c02a1 58.5px,#6f00a8 59.5px,#9814a0 60.5px,#b6308b 61.5px,#bd3786 62.5px,#aa2395 63.5px,#8405a7 64.5px,#5e01a6 65.5px,#44039e 66.5px,#280592 70.5px,#16078a 80.5px,#19068c 105.5px,#310597 111.5px,#5c01a6 115.5px,#7d03a8 117.5px,#a51f99 120.5px,#ab2494 123.5px,#8d0ba5 127.5px,#6300a7 131.5px,#43039e 137.5px,#1d068e 163.5px,#260591 167.5px,#3c049b 169.5px,#6c00a8 171.5px,#920fa3 172.5px,#dd5e66 174.5px,#f58b47 175.5px,#fdb42f 176.5px,#fcce25 177.5px,#fad824 179.5px,#feb72d 182.5px,#e97257 186.5px,#cb4679 190.5px,#bd3786 193.5px)"></i>
<i style="height:1px;background:linear-gradient(90deg,#130789 0.5px,#19068c 50.5px,#310597 57.5px,#5002a2 59.5px,#7201a8 60.5px,#9c179e 61.5px,#b83289 62.5px,#be3885 63.5px,#ab2494 64.5px,#8606a6 65.5px,#5e01a6 66.5px,#46039f 67.5px,#310597 69.5px,#16078a 79.5px,#19068c 106.5px,#310597 112.5px,#5e01a6 116.5px,#8004a8 118.5px,#a62098 121.5px,#ab2494 124.5px,#8b0aa5 128.5px,#6100a7 132.5px,#3f049c 139.5px,#1d068e 163.5px,#260591 168.5px,#3e049c 170.5px,#5102a3 171.5px,#7100a8 172.5px,#9613a1 173.5px,#e06363 175.5px,#f68f44 176.5px,#feb72d 177.5px,#fcce25 178.5px,#fbd724 180.5px,#fdc328 182.5px,#f07f4f 186.5px,#d04d73 190.5px,#bf3984 193.5px)"></i>
<i style="height:1px;background:linear-gradient(90deg,#130789 0.5px,#19068c 51.5px,#330597 58.5px,#5102a3 60.5px,#7501a8 61.5px,#9e199d 62.5px,#bc3587 63.5px,#c03a83 64.5px,#ac2694 65.5px,#8606a6 66.5px,#6001a6 67.5px,#46039f 68.5px,#310597 70.5px,#16078a 80.5px,#19068c 107.5px,#310597 113.5px,#6100a7 117.5px,#8104a7 119.5px,#a72197 122.5px,#ab2494 125.5px,#7401a8 131.5px,#4c02a1 136.5px,#310597 147.5px,#1d068e 166.5px,#2f0596 170.5px,#5502a4 172.5px,#7401a8 173.5px,#9a169f 174.5px,#e26660 176.5px,#f79342 177.5px,#feba2c 178.5px,#fcd025 179.5px,#fbd724 181.5px,#fdb22f 184.5px,#e76e5b 188.5px,#c8437b 192.5px,#c33d80 193.5px)"></i>
<i style="height:1px;background:linear-gradient(90deg,#130789 0.5px,#19068c 51.5px,#330597 59.5px,#5302a3 61.5px,#7801a8 62.5px,#a11b9b 63.5px,#be3885 64.5px,#c23c81 65.5px,#ae2892 66.5px,#8808a6 67.5px,#6100a7 68.5px,#48039f 69.5px,#2e0595 72.5px,#16078a 82.5px,#19068c 108.5px,#330597 114.5px,#5302a3 117.5px,#8405a7 120.5px,#a82296 123.5px,#aa2395 126.5px,#7d03a8 131.5px,#5102a3 136.5px,#370499 145.5px,#1d068e 166.5px,#280592 170.5px,#41049d 172.5px,#5601a4 173.5px,#7701a8 174.5px,#9e199d 175.5px,#e56b5d 177.5px,#f9973f 178.5px,#febd2a 179.5px,#fcd025 180.5px,#fbd524 182.5px,#fdaf31 185.5px,#dd5e66 190.5px,#c7427c 193.5px)"></i>
<i style="height:1px;background:linear-gradient(90deg,#130789 0.5px,#19068c 52.5px,#350498 60.5px,#3f049c 61.5px,#5502a4 62.5px,#7a02a8 63.5px,#a21d9a 64.5px,#bf3984 65.5px,#c43e7f 66.5px,#b12a90 67.5px,#8a09a5 68.5px,#6300a7 69.5px,#48039f 70.5px,#2e0595 73.5px,#16078a 83.5px,#19068c 108.5px,#2c0594 114.5px,#48039f 117.5px,#8707a6 121.5px,#aa2395 124.5px,#aa2395 127.5px,#7a02a8 132.5px,#5002a2 137.5px,#350498 146.5px,#1d068e 167.5px,#280592 171.5px,#43039e 173.5px,#5901a5 174.5px,#7b02a8 175.5px,#a21d9a 176.5px,#e76f5a 178.5px,#fa9b3d 179.5px,#febe2a 180.5px,#fcd025 181.5px,#fbd324 183.5px,#fdac33 186.5px,#db5c68 191.5px,#cc4977 193.5px)"></i>
<i style="height:1px;background:linear-gradient(90deg,#130789 0.5px,#19068c 53.5px,#350498 61.5px,#5601a4 63.5px,#7a02a8 64.5px,#a51f99 65.5px,#c03a83 66.5px,#c6417d 67.5px,#b32c8e 68.5px,#8d0ba5 69.5px,#6400a7 70.5px,#4903a0 71.5px,#330597 73.5px,#16078a 83.5px,#19068c 109.5px,#2e0595 115.5px,#4903a0 118.5px,#7a02a8 121.5px,#a51f99 124.5px,#ac2694 127.5px,#8f0da4 131.5px,#6e00a8 134.5px,#44039e 140.5px,#1d068e 164.5px,#240691 171.5px,#330597 173.5px,#5c01a6 175.5px,#7e03a8 176.5px,#a72197 177.5px,#ea7457 179.5px,#fb9f3a 180.5px,#fec029 181.5px,#fcd025 182.5px,#fcd225 184.5px,#fca934 187.5px,#da5a6a 192.5px,#d24f71 193.5px)"></i>
<i style="height:1px;background:linear-gradient(90deg,#130789 0.5px,#19068c 54.5px,#350498 62.5px,#5601a4 64.5px,#7b02a8 65.5px,#a51f99 66.5px,#c23c81 67.5px,#c8437b 68.5px,#b52f8c 69.5px,#8f0da4 70.5px,#6700a8 71.5px,#4b03a1 72.5px,#330597 74.5px,#16078a 84.5px,#19068c 110.5px,#2e0595 116.5px,#4c02a1 119.5px,#7d03a8 122.5px,#a62098 125.5px,#ac2694 128.5px,#8d0ba5 132.5px,#6300a7 136.5px,#44039e 141.5px,#240691 159.5px,#1d068e 170.5px,#2a0593 173.5px,#46039f 175.5px,#8305a7 177.5px,#ab2494 178.5px,#ec7754 180.5px,#fba238 181.5px,#fdc328 182.5px,#fbd324 184.5px,#fdc527 186.5px,#f1814d 190.5px,#d8576b 193.5px)"></i>
<i style="height:1px;background:linear-gradient(90deg,#130789 0.5px,#19068c 55.5px,#350498 63.5px,#5601a4 65.5px,#7b02a8 66.5px,#a62098 67.5px,#c33d80 68.5px,#ca457a 69.5px,#b7318a 70.5px,#920fa3 71.5px,#6900a8 72.5px,#4c02a1 73.5px,#350498 75.5px,#16078a 85.5px,#19068c 111.5px,#2f0596 117.5px,#5e01a6 121.5px,#8104a7 123.5px,#a82296 126.5px,#ac2694 129.5px,#8104a7 134.5px,#4b03a1 140.5px,#2f0596 151.5px,#1d068e 170.5px,#2c0594 174.5px,#48039f 176.5px,#8707a6 178.5px,#b02991 179.5px,#ef7c51 181.5px,#fca636 182.5px,#fdc527 183.5px,#fcd225 185.5px,#fdc229 187.5px,#f07f4f 191.5px,#df6263 193.5px)"></i>
<i style="height:1px;background:linear-gradient(90deg,#130789 0.5px,#19068c 56.5px,#370499 64.5px,#41049d 65.5px,#5801a4 66.5px,#7b02a8 67.5px,#a72197 68.5px,#c5407e 69.5px,#cc4778 70.5px,#ba3388 71.5px,#9511a1 72.5px,#6a00a8 73.5px,#4c02a1 74.5px,#350498 76.5px,#19068c 85.5px,#16078a 110.5px,#2a0593 117.5px,#5102a3 121.5px,#8405a7 124.5px,#aa2395 127.5px,#ab2494 130.5px,#8a09a5 134.5px,#6001a6 138.5px,#43039e 143.5px,#20068f 164.5px,#20068f 173.5px,#38049a 176.5px,#6600a7 178.5px,#8b0aa5 179.5px,#b32c8e 180.5px,#d7566c 181.5px,#f1814d 182.5px,#fdab33 183.5px,#fdc527 184.5px,#fcd025 186.5px,#fdaf31 189.5px,#e56b5d 193.5px)"></i>
<i style="height:1px;background:linear-gradient(90deg,#130789 0.5px,#19068c 56.5px,#2f0596 64.5px,#41049d 66.5px,#5801a4 67.5px,#7b02a8 68.5px,#a72197 69.5px,#c5407e 70.5px,#cc4977 71.5px,#bc3587 72.5px,#9613a1 73.5px,#6c00a8 74.5px,#4e02a2 75.5px,#350498 77.5px,#19068c 86.5px,#16078a 111.5px,#2a0593 118.5px,#5502a4 122.5px,#8707a6 125.5px,#ab2494 128.5px,#ab2494 131.5px,#7d03a8 136.5px,#4903a0 142.5px,#2f0596 152.5px,#1b068d 171.5px,#240691 175.5px,#4c02a1 178.5px,#6900a8 179.5px,#8f0da4 180.5px,#da5b69 182.5px,#f3874a 183.5px,#fdae32 184.5px,#fdc627 185.5px,#fccd25 187.5px,#fdab33 190.5px,#ec7754 193.5px)"></i>
<i style="height:1px;background:linear-gradient(90deg,#130789 0.5px,#19068c 57.5px,#2f0596 65.5px,#41049d 67.5px,#5801a4 68.5px,#7b02a8 69.5px,#a72197 70.5px,#c7427c 71.5px,#ce4b75 72.5px,#be3885 73.5px,#99159f 74.5px,#6e00a8 75.5px,#4e02a2 76.5px,#350498 78.5px,#19068c 87.5px,#16078a 112.5px,#260591 118.5px,#4903a0 122.5px,#7a02a8 125.5px,#a51f99 128.5px,#ae2892 131.5px,#920fa3 135.5px,#6f00a8 138.5px,#43039e 144.5px,#20068f 165.5px,#20068f 175.5px,#3c049b 178.5px,#5002a2 179.5px,#6e00a8 180.5px,#9511a1 181.5px,#de6164 183.5px,#f58c46 184.5px,#fdb130 185.5px,#fdc627 186.5px,#fdcb26 188.5px,#fca636 191.5px,#f2844b 193.5px)"></i>
<i style="height:1px;background:linear-gradient(90deg,#130789 0.5px,#19068c 58.5px,#310597 66.5px,#41049d 68.5px,#5801a4 69.5px,#7d03a8 70.5px,#a82296 71.5px,#c8437b 72.5px,#d04d73 73.5px,#bf3984 74.5px,#99159f 75.5px,#6e00a8 76.5px,#4e02a2 77.5px,#350498 79.5px,#19068c 88.5px,#16078a 113.5px,#280592 119.5px,#3f049c 122.5px,#7d03a8 126.5px,#a62098 129.5px,#ae2892 132.5px,#8f0da4 136.5px,#6e00a8 139.5px,#46039f 144.5px,#2a0593 157.5px,#1b068d 173.5px,#260591 177.5px,#3e049c 179.5px,#5302a3 180.5px,#7401a8 181.5px,#9a169f 182.5px,#e26660 184.5px,#f79143 185.5px,#fdb42f 186.5px,#fdc527 187.5px,#fdc827 189.5px,#fba238 192.5px,#f79143 193.5px)"></i>
<i style="height:1px;background:linear-gradient(90deg,#130789 0.5px,#19068c 59.5px,#310597 67.5px,#43039e 69.5px,#5801a4 70.5px,#7d03a8 71.5px,#aa2395 72.5px,#c9447a 73.5px,#d04d73 74.5px,#bf3984 75.5px,#99159f 76.5px,#6e00a8 77.5px,#5002a2 78.5px,#350498 80.5px,#19068c 89.5px,#16078a 114.5px,#280592 120.5px,#4e02a2 124.5px,#8004a8 127.5px,#a82296 130.5px,#ae2892 133.5px,#8e0ca4 137.5px,#6c00a8 140.5px,#4b03a1 144.5px,#330597 152.5px,#1b068d 174.5px,#280592 178.5px,#41049d 180.5px,#7801a8 182.5px,#a11b9b 183.5px,#e76e5b 185.5px,#f9973f 186.5px,#feb72d 187.5px,#fdca26 189.5px,#fdae32 192.5px,#fa9e3b 193.5px)"></i>
<i style="height:1px;background:linear-gradient(90deg,#130789 0.5px,#19068c 60.5px,#310597 68.5px,#43039e 70.5px,#5801a4 71.5px,#7e03a8 72.5px,#aa2395 73.5px,#c9447a 74.5px,#cf4c74 75.5px,#bf3984 76.5px,#99159f 77.5px,#6f00a8 78.5px,#5002a2 79.5px,#350498 81.5px,#19068c 90.5px,#16078a 115.5px,#2f0596 122.5px,#6100a7 126.5px,#8305a7 128.5px,#aa2395 131.5px,#ad2793 134.5px,#8d0ba5 138.5px,#6001a6 142.5px,#41049d 147.5px,#240691 163.5px,#1d068e 177.5px,#330597 180.5px,#43039e 181.5px,#8004a8 183.5px,#a82296 184.5px,#ea7457 186.5px,#fa9b3d 187.5px,#feba2c 188.5px,#fdc627 190.5px,#feb82c 192.5px,#fca934 193.5px)"></i>
<i style="height:1px;background:linear-gradient(90deg,#130789 0.5px,#19068c 61.5px,#310597 69.5px,#43039e 71.5px,#5901a5 72.5px,#7e03a8 73.5px,#ab2494 74.5px,#c8437b 75.5px,#cf4c74 76.5px,#bf3984 77.5px,#9a169f 78.5px,#6f00a8 79.5px,#5002a2 80.5px,#350498 82.5px,#19068c 92.5px,#16078a 115.5px,#2a0593 122.5px,#5302a3 126.5px,#8606a6 129.5px,#ac2694 132.5px,#ad2793 135.5px,#8a09a5 139.5px,#5e01a6 143.5px,#3f049c 148.5px,#220690 166.5px,#1d068e 177.5px,#2a0593 180.5px,#48039f 182.5px,#6100a7 183.5px,#8606a6 184.5px,#ae2892 185.5px,#ed7a52 187.5px,#fba139 188.5px,#feba2c 189.5px,#fdc527 191.5px,#fdb42f 193.5px)"></i>
<i style="height:1px;background:linear-gradient(90deg,#130789 0.5px,#19068c 62.5px,#310597 70.5px,#43039e 72.5px,#5901a5 73.5px,#7e03a8 74.5px,#ab2494 75.5px,#c8437b 76.5px,#cf4c74 77.5px,#bf3984 78.5px,#9a169f 79.5px,#6f00a8 80.5px,#5002a2 81.5px,#370499 83.5px,#19068c 92.5px,#16078a 116.5px,#260591 122.5px,#48039f 126.5px,#7801a8 129.5px,#a51f99 132.5px,#b12a90 135.5px,#9e199d 138.5px,#7100a8 142.5px,#48039f 147.5px,#2e0595 157.5px,#1b068d 177.5px,#2c0594 181.5px,#4b03a1 183.5px,#6700a8 184.5px,#8d0ba5 185.5px,#d8576b 187.5px,#f0804e 188.5px,#fca537 189.5px,#febb2b 190.5px,#fdc229 192.5px,#febb2b 193.5px)"></i>
<i style="height:1px;background:linear-gradient(90deg,#130789 0.5px,#19068c 63.5px,#38049a 72.5px,#43039e 73.5px,#5901a5 74.5px,#7e03a8 75.5px,#ab2494 76.5px,#c8437b 77.5px,#ce4b75 78.5px,#bf3984 79.5px,#9a169f 80.5px,#7100a8 81.5px,#5102a3 82.5px,#370499 84.5px,#19068c 93.5px,#16078a 117.5px,#260591 123.5px,#4b03a1 127.5px,#7b02a8 130.5px,#a72197 133.5px,#b12a90 136.5px,#920fa3 140.5px,#6f00a8 143.5px,#46039f 148.5px,#2e0595 158.5px,#1b068d 178.5px,#240691 181.5px,#3a049a 183.5px,#6e00a8 185.5px,#9511a1 186.5px,#dd5e66 188.5px,#f3874a 189.5px,#fca835 190.5px,#febb2b 191.5px,#fec029 193.5px)"></i>
<i style="height:1px;background:linear-gradient(90deg,#130789 0.5px,#19068c 64.5px,#38049a 73.5px,#5901a5 75.5px,#8004a8 76.5px,#ab2494 77.5px,#c8437b 78.5px,#ce4b75 79.5px,#bf3984 80.5px,#9a169f 81.5px,#7100a8 82.5px,#5102a3 83.5px,#370499 85.5px,#19068c 94.5px,#16078a 118.5px,#280592 124.5px,#4c02a1 128.5px,#7e03a8 131.5px,#aa2395 134.5px,#b12a90 137.5px,#910ea3 141.5px,#6e00a8 144.5px,#44039e 149.5px,#2a0593 161.5px,#1b068d 179.5px,#260591 182.5px,#3e049c 184.5px,#7401a8 186.5px,#9c179e 187.5px,#e16462 189.5px,#f58c46 190.5px,#fdab33 191.5px,#febb2b 192.5px,#fec029 193.5px)"></i>
<i style="height:1px;background:linear-gradient(90deg,#130789 0.5px,#19068c 65.5px,#38049a 74.5px,#44039e 75.5px,#5b01a5 76.5px,#8004a8 77.5px,#ab2494 78.5px,#c7427c 79.5px,#ce4b75 80.5px,#be3885 81.5px,#9a169f 82.5px,#7100a8 83.5px,#5102a3 84.5px,#370499 86.5px,#19068c 95.5px,#16078a 119.5px,#280592 125.5px,#5002a2 129.5px,#8305a7 132.5px,#ab2494 135.5px,#b02991 138.5px,#8f0da4 142.5px,#6c00a8 145.5px,#44039e 150.5px,#2a0593 162.5px,#1b068d 180.5px,#310597 184.5px,#5901a5 186.5px,#7b02a8 187.5px,#a21d9a 188.5px,#e56b5d 190.5px,#f79143 191.5px,#fdae32 192.5px,#febb2b 193.5px)"></i>
<i style="height:1px;background:linear-gradient(90deg,#130789 0.5px,#19068c 66.5px,#38049a 75.5px,#44039e 76.5px,#5b01a5 77.5px,#8004a8 78.5px,#ab2494 79.5px,#c7427c 80.5px,#cd4a76 81.5px,#be3885 82.5px,#9c179e 83.5px,#7201a8 84.5px,#5102a3 85.5px,#370499 87.5px,#19068c 96.5px,#16078a 120.5px,#2a0593 126.5px,#5302a3 130.5px,#8606a6 133.5px,#ad2793 136.5px,#b02991 139.5px,#8e0ca4 143.5px,#6a00a8 146.5px,#4903a0 150.5px,#310597 158.5px,#1b068d 180.5px,#280592 184.5px,#46039f 186.5px,#8104a7 188.5px,#aa2395 189.5px,#e97158 191.5px,#f9973f 192.5px,#fdb130 193.5px)"></i>
<i style="height:1px;background:linear-gradient(90deg,#130789 0.5px,#19068c 67.5px,#38049a 76.5px,#44039e 77.5px,#5b01a5 78.5px,#8004a8 79.5px,#ab2494 80.5px,#c7427c 81.5px,#cd4a76 82.5px,#be3885 83.5px,#9c179e 84.5px,#7201a8 85.5px,#5302a3 86.5px,#370499 88.5px,#19068c 97.5px,#16078a 120.5px,#2a0593 127.5px,#5502a4 131.5px,#8808a6 134.5px,#ae2892 137.5px,#b02991 140.5px,#8d0ba5 144.5px,#6900a8 147.5px,#43039e 152.5px,#220690 170.5px,#1b068d 182.5px,#2a0593 185.5px,#4903a0 187.5px,#6400a7 188.5px,#8808a6 189.5px,#b02991 190.5px,#ec7754 192.5px,#fa9b3d 193.5px)"></i>
<i style="height:1px;background:linear-gradient(90deg,#130789 0.5px,#19068c 68.5px,#38049a 77.5px,#44039e 78.5px,#5b01a5 79.5px,#8104a7 80.5px,#ab2494 81.5px,#c7427c 82.5px,#cd4a76 83.5px,#be3885 84.5px,#9c179e 85.5px,#7201a8 86.5px,#5302a3 87.5px,#370499 89.5px,#19068c 98.5px,#16078a 121.5px,#260591 127.5px,#4903a0 131.5px,#7a02a8 134.5px,#a72197 137.5px,#b32c8e 140.5px,#9613a1 144.5px,#7401a8 147.5px,#48039f 152.5px,#2e0595 162.5px,#1b068d 181.5px,#240691 185.5px,#3a049a 187.5px,#6a00a8 189.5px,#8e0ca4 190.5px,#d7566c 192.5px,#ef7e50 193.5px)"></i>
<i style="height:1px;background:linear-gradient(90deg,#130789 0.5px,#19068c 69.5px,#38049a 78.5px,#44039e 79.5px,#5c01a6 80.5px,#8104a7 81.5px,#ab2494 82.5px,#c6417d 83.5px,#cc4977 84.5px,#be3885 85.5px,#9c179e 86.5px,#7201a8 87.5px,#5302a3 88.5px,#370499 90.5px,#19068c 99.5px,#16078a 122.5px,#260591 128.5px,#4c02a1 132.5px,#7d03a8 135.5px,#aa2395 138.5px,#b32c8e 141.5px,#9613a1 145.5px,#7201a8 148.5px,#48039f 153.5px,#2e0595 162.5px,#1b068d 183.5px,#2e0595 187.5px,#5102a3 189.5px,#6f00a8 190.5px,#9511a1 191.5px,#db5c68 193.5px)"></i>
<i style="height:1px;background:linear-gradient(90deg,#130789 0.5px,#19068c 70.5px,#38049a 79.5px,#5c01a6 81.5px,#8104a7 82.5px,#ab2494 83.5px,#c6417d 84.5px,#cc4977 85.5px,#be3885 86.5px,#9a169f 87.5px,#7201a8 88.5px,#5302a3 89.5px,#3f049c 90.5px,#220690 96.5px,#16078a 107.5px,#1b068d 126.5px,#370499 131.5px,#6f00a8 135.5px,#910ea3 137.5px,#b22b8f 140.5px,#ae2892 143.5px,#7e03a8 148.5px,#4c02a1 153.5px,#310597 161.5px,#1b068d 182.5px,#260591 187.5px,#3f049c 189.5px,#7501a8 191.5px,#9c179e 192.5px,#c23c81 193.5px)"></i>
<i style="height:1px;background:linear-gradient(90deg,#130789 0.5px,#19068c 71.5px,#38049a 80.5px,#5c01a6 82.5px,#8305a7 83.5px,#ab2494 84.5px,#c6417d 85.5px,#cc4778 86.5px,#bc3587 87.5px,#9a169f 88.5px,#7201a8 89.5px,#5302a3 90.5px,#3f049c 91.5px,#220690 97.5px,#16078a 108.5px,#1b068d 127.5px,#38049a 132.5px,#7100a8 136.5px,#a21d9a 139.5px,#b42e8d 142.5px,#a01a9c 146.5px,#7201a8 150.5px,#48039f 155.5px,#2e0595 164.5px,#1b068d 184.5px,#280592 188.5px,#43039e 190.5px,#7b02a8 192.5px,#a31e9a 193.5px)"></i>
<i style="height:1px;background:linear-gradient(90deg,#130789 0.5px,#19068c 72.5px,#330597 80.5px,#46039f 82.5px,#5e01a6 83.5px,#8305a7 84.5px,#ab2494 85.5px,#c5407e 86.5px,#cb4679 87.5px,#bb3488 88.5px,#99159f 89.5px,#7100a8 90.5px,#5102a3 91.5px,#370499 93.5px,#1b068d 101.5px,#16078a 124.5px,#2a0593 131.5px,#5302a3 135.5px,#8606a6 138.5px,#ae2892 141.5px,#b32c8e 144.5px,#9511a1 148.5px,#7100a8 151.5px,#48039f 156.5px,#2e0595 165.5px,#1b068d 184.5px,#220690 188.5px,#46039f 191.5px,#8305a7 193.5px)"></i>
<i style="height:1px;background:linear-gradient(90deg,#130789 0.5px,#19068c 73.5px,#330597 81.5px,#46039f 83.5px,#5e01a6 84.5px,#8305a7 85.5px,#aa2395 86.5px,#c43e7f 87.5px,#c9447a 88.5px,#ba3388 89.5px,#9814a0 90.5px,#7100a8 91.5px,#5102a3 92.5px,#350498 94.5px,#19068c 104.5px,#16078a 125.5px,#2a0593 132.5px,#5502a4 136.5px,#8808a6 139.5px,#ae2892 142.5px,#b32c8e 145.5px,#9511a1 149.5px,#7100a8 152.5px,#48039f 157.5px,#2f0596 165.5px,#1b068d 184.5px,#20068f 188.5px,#370499 191.5px,#6600a7 193.5px)"></i>
<i style="height:1px;background:linear-gradient(90deg,#130789 0.5px,#19068c 74.5px,#330597 82.5px,#46039f 84.5px,#5e01a6 85.5px,#8305a7 86.5px,#aa2395 87.5px,#c33d80 88.5px,#c8437b 89.5px,#b7318a 90.5px,#9613a1 91.5px,#6f00a8 92.5px,#5102a3 93.5px,#350498 95.5px,#19068c 105.5px,#1b068d 129.5px,#330597 134.5px,#6700a8 138.5px,#8a09a5 140.5px,#b02991 143.5px,#b42e8d 146.5px,#9511a1 150.5px,#7201a8 153.5px,#48039f 158.5px,#2f0596 166.5px,#1b068d 185.5px,#240691 190.5px,#3a049a 192.5px,#4e02a2 193.5px)"></i>
<i style="height:1px;background:linear-gradient(90deg,#130789 0.5px,#19068c 75.5px,#330597 83.5px,#46039f 85.5px,#5e01a6 86.5px,#8305a7 87.5px,#a82296 88.5px,#c13b82 89.5px,#c6417d 90.5px,#b6308b 91.5px,#9511a1 92.5px,#6f00a8 93.5px,#5102a3 94.5px,#350498 96.5px,#19068c 106.5px,#1b068d 130.5px,#350498 135.5px,#6900a8 139.5px,#8b0aa5 141.5px,#b12a90 144.5px,#b42e8d 147.5px,#a01a9c 150.5px,#7201a8 154.5px,#48039f 159.5px,#2e0595 167.5px,#19068c 186.5px,#260591 191.5px,#3e049c 193.5px)"></i>
<i style="height:1px;background:linear-gradient(90deg,#130789 0.5px,#19068c 76.5px,#330597 84.5px,#46039f 86.5px,#5e01a6 87.5px,#8104a7 88.5px,#a72197 89.5px,#c03a83 90.5px,#c5407e 91.5px,#b52f8c 92.5px,#9410a2 93.5px,#6e00a8 94.5px,#5102a3 95.5px,#350498 97.5px,#19068c 107.5px,#1b068d 131.5px,#350498 136.5px,#6a00a8 140.5px,#8d0ba5 142.5px,#b22b8f 145.5px,#b52f8c 148.5px,#9613a1 152.5px,#7201a8 155.5px,#48039f 160.5px,#2c0594 169.5px,#19068c 187.5px,#260591 192.5px,#310597 193.5px)"></i>
<i style="height:1px;background:linear-gradient(90deg,#130789 0.5px,#19068c 76.5px,#330597 85.5px,#46039f 87.5px,#5e01a6 88.5px,#8104a7 89.5px,#a72197 90.5px,#bf3984 91.5px,#c33d80 92.5px,#b32c8e 93.5px,#920fa3 94.5px,#6e00a8 95.5px,#5002a2 96.5px,#350498 98.5px,#19068c 108.5px,#1b068d 132.5px,#370499 137.5px,#6c00a8 141.5px,#8e0ca4 143.5px,#b22b8f 146.5px,#b52f8c 149.5px,#a11b9b 152.5px,#7401a8 156.5px,#48039f 161.5px,#2c0594 170.5px,#19068c 188.5px,#280592 193.5px)"></i>
<i style="height:1px;background:linear-gradient(90deg,#130789 0.5px,#19068c 77.5px,#330597 86.5px,#48039f 88.5px,#5e01a6 89.5px,#8104a7 90.5px,#a62098 91.5px,#be3885 92.5px,#c23c81 93.5px,#b22b8f 94.5px,#920fa3 95.5px,#6c00a8 96.5px,#5002a2 97.5px,#350498 99.5px,#19068c 109.5px,#1b068d 133.5px,#370499 138.5px,#6c00a8 142.5px,#8f0da4 144.5px,#b32c8e 147.5px,#b6308b 150.5px,#9814a0 154.5px,#7401a8 157.5px,#48039f 162.5px,#2c0594 171.5px,#19068c 189.5px,#220690 193.5px)"></i>
<i style="height:1px;background:linear-gradient(90deg,#130789 0.5px,#19068c 78.5px,#330597 87.5px,#48039f 89.5px,#5e01a6 90.5px,#8104a7 91.5px,#a62098 92.5px,#bd3786 93.5px,#c03a83 94.5px,#b12a90 95.5px,#910ea3 96.5px,#6c00a8 97.5px,#5002a2 98.5px,#350498 100.5px,#19068c 110.5px,#1b068d 133.5px,#2f0596 138.5px,#5c01a6 142.5px,#7e03a8 144.5px,#ab2494 147.5px,#b83289 150.5px,#a31e9a 154.5px,#7401a8 158.5px,#48039f 163.5px,#2c0594 172.5px,#19068c 190.5px,#1d068e 193.5px)"></i>
<i style="height:1px;background:linear-gradient(90deg,#130789 0.5px,#19068c 79.5px,#330597 88.5px,#48039f 90.5px,#5e01a6 91.5px,#8104a7 92.5px,#a51f99 93.5px,#bc3587 94.5px,#bf3984 95.5px,#ae2892 96.5px,#8f0da4 97.5px,#6a00a8 98.5px,#3e049c 100.5px,#220690 106.5px,#16078a 119.5px,#1b068d 134.5px,#2f0596 139.5px,#5c01a6 143.5px,#7e03a8 145.5px,#ab2494 148.5px,#ba3388 151.5px,#a31e9a 155.5px,#7501a8 159.5px,#48039f 164.5px,#2c0594 173.5px,#19068c 191.5px,#1b068d 193.5px)"></i>
<i style="height:1px;background:linear-gradient(90deg,#130789 0.5px,#19068c 80.5px,#330597 89.5px,#48039f 91.5px,#5e01a6 92.5px,#8104a7 93.5px,#a31e9a 94.5px,#ba3388 95.5px,#be3885 96.5px,#ad2793 97.5px,#8e0ca4 98.5px,#6a00a8 99.5px,#3e049c 101.5px,#220690 107.5px,#16078a 120.5px,#1b068d 135.5px,#2f0596 140.5px,#5c01a6 144.5px,#7e03a8 146.5px,#ac2694 149.5px,#bb3488 152.5px,#a51f99 156.5px,#7501a8 160.5px,#48039f 165.5px,#2c0594 174.5px,#19068c 192.5px,#1b068d 193.5px)"></i>
<i style="height:1px;background:linear-gradient(90deg,#130789 0.5px,#19068c 81.5px,#330597 90.5px,#48039f 92.5px,#5e01a6 93.5px,#8004a8 94.5px,#a31e9a 95.5px,#b83289 96.5px,#bc3587 97.5px,#ac2694 98.5px,#8d0ba5 99.5px,#6a00a8 100.5px,#3e049c 102.5px,#260591 107.5px,#16078a 118.5px,#1b068d 136.5px,#2f0596 141.5px,#5c01a6 145.5px,#7e03a8 147.5px,#ac2694 150.5px,#bb3488 153.5px,#a62098 157.5px,#7701a8 161.5px,#48039f 166.5px,#2a0593 175.5px,#19068c 193.5px)"></i>
<i style="height:1px;background:linear-gradient(90deg,#130789 0.5px,#19068c 82.5px,#330597 91.5px,#48039f 93.5px,#5e01a6 94.5px,#8004a8 95.5px,#a21d9a 96.5px,#b7318a 97.5px,#bb3488 98.5px,#ab2494 99.5px,#8d0ba5 100.5px,#6a00a8 101.5px,#5002a2 102.5px,#350498 104.5px,#1b068d 113.5px,#19068c 136.5px,#2f0596 142.5px,#5c01a6 146.5px,#7e03a8 148.5px,#ac2694 151.5px,#bc3587 154.5px,#a72197 158.5px,#7701a8 162.5px,#48039f 167.5px,#280592 177.5px,#19068c 193.5px)"></i>
<i style="height:1px;background:linear-gradient(90deg,#130789 0.5px,#19068c 83.5px,#330597 92.5px,#48039f 94.5px,#5e01a6 95.5px,#8004a8 96.5px,#a11b9b 97.5px,#b52f8c 98.5px,#b83289 99.5px,#aa2395 100.5px,#8d0ba5 101.5px,#6a00a8 102.5px,#5002a2 103.5px,#350498 105.5px,#1b068d 114.5px,#19068c 137.5px,#2f0596 143.5px,#5c01a6 147.5px,#7e03a8 149.5px,#ac2694 152.5px,#bd3786 155.5px,#a82296 159.5px,#7801a8 163.5px,#48039f 168.5px,#2c0594 176.5px,#19068c 193.5px)"></i>
<i style="height:1px;background:linear-gradient(90deg,#130789 0.5px,#19068c 84.5px,#310597 93.5px,#48039f 95.5px,#7e03a8 97.5px,#a01a9c 98.5px,#b42e8d 99.5px,#b6308b 100.5px,#a82296 101.5px,#8b0aa5 102.5px,#6c00a8 103.5px,#3f049c 105.5px,#280592 109.5px,#16078a 122.5px,#1b068d 139.5px,#2f0596 144.5px,#4e02a2 147.5px,#7e03a8 150.5px,#b52f8c 154.5px,#bc3587 157.5px,#9e199d 161.5px,#7801a8 164.5px,#48039f 169.5px,#2c0594 177.5px,#19068c 193.5px)"></i>
<i style="height:1px;background:linear-gradient(90deg,#130789 0.5px,#19068c 85.5px,#310597 94.5px,#48039f 96.5px,#7e03a8 98.5px,#9d189d 99.5px,#b22b8f 100.5px,#b42e8d 101.5px,#a72197 102.5px,#8d0ba5 103.5px,#6c00a8 104.5px,#3f049c 106.5px,#280592 110.5px,#16078a 123.5px,#1b068d 140.5px,#370499 146.5px,#6c00a8 150.5px,#8e0ca4 152.5px,#b6308b 155.5px,#bd3786 158.5px,#a01a9c 162.5px,#7801a8 165.5px,#48039f 170.5px,#2c0594 178.5px,#19068c 193.5px)"></i>
<i style="height:1px;background:linear-gradient(90deg,#130789 0.5px,#19068c 86.5px,#310597 95.5px,#48039f 97.5px,#7d03a8 99.5px,#9c179e 100.5px,#b02991 101.5px,#b32c8e 102.5px,#a62098 103.5px,#8d0ba5 104.5px,#6e00a8 105.5px,#41049d 107.5px,#2c0594 110.5px,#16078a 122.5px,#1b068d 141.5px,#2f0596 146.5px,#5b01a5 150.5px,#7d03a8 152.5px,#b6308b 156.5px,#bd3786 159.5px,#a01a9c 163.5px,#7801a8 166.5px,#48039f 171.5px,#2c0594 179.5px,#19068c 193.5px)"></i>
<i style="height:1px;background:linear-gradient(90deg,#130789 0.5px,#19068c 87.5px,#310597 96.5px,#46039f 98.5px,#7b02a8 100.5px,#ad2793 102.5px,#b12a90 103.5px,#a51f99 104.5px,#8b0aa5 105.5px,#6e00a8 106.5px,#41049d 108.5px,#2c0594 111.5px,#16078a 123.5px,#1b068d 142.5px,#2f0596 147.5px,#5b01a5 151.5px,#7b02a8 153.5px,#ac2694 156.5px,#bf3984 159.5px,#b42e8d 162.5px,#7a02a8 167.5px,#4e02a2 171.5px,#310597 177.5px,#19068c 193.5px)"></i>
<i style="height:1px;background:linear-gradient(90deg,#130789 0.5px,#19068c 88.5px,#310597 97.5px,#46039f 99.5px,#7801a8 101.5px,#ab2494 103.5px,#b02991 104.5px,#a31e9a 105.5px,#8b0aa5 106.5px,#6e00a8 107.5px,#41049d 109.5px,#2c0594 112.5px,#16078a 124.5px,#1b068d 143.5px,#2e0595 148.5px,#5901a5 152.5px,#7b02a8 154.5px,#b6308b 158.5px,#bf3984 161.5px,#ac2694 164.5px,#7a02a8 168.5px,#4e02a2 172.5px,#310597 178.5px,#1b068d 193.5px)"></i>
<i style="height:1px;background:linear-gradient(90deg,#130789 0.5px,#19068c 89.5px,#310597 98.5px,#46039f 100.5px,#7701a8 102.5px,#a82296 104.5px,#ad2793 105.5px,#a21d9a 106.5px,#6e00a8 108.5px,#41049d 110.5px,#2c0594 113.5px,#16078a 125.5px,#1b068d 144.5px,#350498 150.5px,#6900a8 154.5px,#8d0ba5 156.5px,#b6308b 159.5px,#bf3984 162.5px,#a21d9a 166.5px,#7a02a8 169.5px,#46039f 174.5px,#2a0593 182.5px,#1b068d 193.5px)"></i>
<i style="height:1px;background:linear-gradient(90deg,#130789 0.5px,#19068c 90.5px,#310597 99.5px,#44039e 101.5px,#7501a8 103.5px,#a62098 105.5px,#ab2494 106.5px,#a11b9b 107.5px,#6e00a8 109.5px,#41049d 111.5px,#2a0593 114.5px,#16078a 128.5px,#1b068d 145.5px,#350498 151.5px,#6700a8 155.5px,#8d0ba5 157.5px,#b6308b 160.5px,#c03a83 163.5px,#ad2793 166.5px,#7a02a8 170.5px,#46039f 175.5px,#2a0593 183.5px,#1b068d 193.5px)"></i>
<i style="height:1px;background:linear-gradient(90deg,#130789 0.5px,#19068c 91.5px,#310597 100.5px,#44039e 102.5px,#7401a8 104.5px,#a31e9a 106.5px,#aa2395 107.5px,#a01a9c 108.5px,#8808a6 109.5px,#5302a3 111.5px,#350498 113.5px,#1d068e 120.5px,#16078a 138.5px,#20068f 148.5px,#3e049c 153.5px,#7a02a8 157.5px,#b7318a 161.5px,#c13b82 164.5px,#ae2892 167.5px,#7a02a8 171.5px,#46039f 176.5px,#260591 185.5px,#1b068d 193.5px)"></i>
<i style="height:1px;background:linear-gradient(90deg,#130789 0.5px,#19068c 92.5px,#310597 101.5px,#44039e 103.5px,#7201a8 105.5px,#a11b9b 107.5px,#a72197 108.5px,#9d189d 109.5px,#8606a6 110.5px,#5102a3 112.5px,#350498 114.5px,#1d068e 121.5px,#16078a 139.5px,#20068f 149.5px,#3e049c 154.5px,#6700a8 157.5px,#8b0aa5 159.5px,#b7318a 162.5px,#c23c81 165.5px,#a31e9a 169.5px,#7a02a8 172.5px,#4c02a1 176.5px,#2c0594 183.5px,#1b068d 193.5px)"></i>
<i style="height:1px;background:linear-gradient(90deg,#130789 0.5px,#19068c 93.5px,#370499 103.5px,#5801a4 105.5px,#7100a8 106.5px,#a01a9c 108.5px,#a51f99 109.5px,#9a169f 110.5px,#8405a7 111.5px,#5002a2 113.5px,#330597 115.5px,#1d068e 122.5px,#16078a 140.5px,#1b068d 149.5px,#330597 154.5px,#6700a8 158.5px,#8b0aa5 160.5px,#b83289 163.5px,#c23c81 166.5px,#b02991 169.5px,#7a02a8 173.5px,#44039e 178.5px,#280592 186.5px,#1d068e 193.5px)"></i>
<i style="height:1px;background:linear-gradient(90deg,#130789 0.5px,#19068c 94.5px,#2f0596 103.5px,#43039e 105.5px,#7100a8 107.5px,#9d189d 109.5px,#a21d9a 110.5px,#9814a0 111.5px,#8104a7 112.5px,#4e02a2 114.5px,#330597 116.5px,#1d068e 123.5px,#16078a 141.5px,#1b068d 150.5px,#330597 155.5px,#6600a7 159.5px,#8b0aa5 161.5px,#ba3388 164.5px,#c33d80 167.5px,#b02991 170.5px,#7a02a8 174.5px,#4c02a1 178.5px,#2e0595 184.5px,#1d068e 193.5px)"></i>
<i style="height:1px;background:linear-gradient(90deg,#130789 0.5px,#19068c 94.5px,#2f0596 104.5px,#44039e 106.5px,#7100a8 108.5px,#8b0aa5 109.5px,#9c179e 110.5px,#a01a9c 111.5px,#9511a1 112.5px,#7d03a8 113.5px,#4c02a1 115.5px,#310597 117.5px,#19068c 128.5px,#1b068d 151.5px,#330597 156.5px,#6600a7 160.5px,#8d0ba5 162.5px,#ba3388 165.5px,#c43e7f 168.5px,#b02991 171.5px,#7a02a8 175.5px,#4b03a1 179.5px,#2a0593 186.5px,#1d068e 193.5px)"></i>
<i style="height:1px;background:linear-gradient(90deg,#130789 0.5px,#19068c 95.5px,#2f0596 105.5px,#44039e 107.5px,#7100a8 109.5px,#9c179e 111.5px,#9d189d 112.5px,#910ea3 113.5px,#7a02a8 114.5px,#4903a0 116.5px,#310597 118.5px,#19068c 129.5px,#1b068d 152.5px,#330597 157.5px,#6600a7 161.5px,#8d0ba5 163.5px,#bb3488 166.5px,#c43e7f 169.5px,#b12a90 172.5px,#7a02a8 176.5px,#4b03a1 180.5px,#2a0593 187.5px,#20068f 193.5px)"></i>
<i style="height:1px;background:linear-gradient(90deg,#130789 0.5px,#19068c 96.5px,#2f0596 106.5px,#44039e 108.5px,#7201a8 110.5px,#9a169f 112.5px,#9c179e 113.5px,#8e0ca4 114.5px,#7501a8 115.5px,#48039f 117.5px,#2f0596 119.5px,#19068c 129.5px,#1b068d 153.5px,#330597 158.5px,#6600a7 162.5px,#8d0ba5 164.5px,#bb3488 167.5px,#c6417d 169.5px,#bb3488 172.5px,#8808a6 176.5px,#5302a3 180.5px,#330597 185.5px,#20068f 193.5px)"></i>
<i style="height:1px;background:linear-gradient(90deg,#130789 0.5px,#19068c 97.5px,#2f0596 107.5px,#46039f 109.5px,#7401a8 111.5px,#8d0ba5 112.5px,#9a169f 113.5px,#99159f 114.5px,#7201a8 116.5px,#44039e 118.5px,#2a0593 121.5px,#16078a 135.5px,#1b068d 154.5px,#330597 159.5px,#6600a7 163.5px,#8d0ba5 165.5px,#bc3587 168.5px,#c6417d 171.5px,#b12a90 174.5px,#7801a8 178.5px,#4903a0 182.5px,#2c0594 188.5px,#20068f 193.5px)"></i>
<i style="height:1px;background:linear-gradient(90deg,#130789 0.5px,#19068c 98.5px,#310597 108.5px,#48039f 110.5px,#7701a8 112.5px,#99159f 114.5px,#9613a1 115.5px,#6e00a8 117.5px,#43039e 119.5px,#2e0595 121.5px,#16078a 133.5px,#1b068d 155.5px,#330597 160.5px,#6600a7 164.5px,#8d0ba5 166.5px,#bd3786 169.5px,#c6417d 172.5px,#b22b8f 175.5px,#7801a8 179.5px,#41049d 184.5px,#240691 192.5px,#220690 193.5px)"></i>
<i style="height:1px;background:linear-gradient(90deg,#130789 0.5px,#19068c 99.5px,#310597 109.5px,#4903a0 111.5px,#7a02a8 113.5px,#8e0ca4 114.5px,#9814a0 115.5px,#920fa3 116.5px,#6900a8 118.5px,#3f049c 120.5px,#280592 123.5px,#16078a 138.5px,#1b068d 156.5px,#330597 161.5px,#6600a7 165.5px,#8e0ca4 167.5px,#bd3786 170.5px,#c8437b 172.5px,#bc3587 175.5px,#8707a6 179.5px,#5102a3 183.5px,#310597 188.5px,#240691 193.5px)"></i>
<i style="height:1px;background:linear-gradient(90deg,#130789 0.5px,#19068c 100.5px,#310597 110.5px,#4c02a1 112.5px,#7b02a8 114.5px,#8f0da4 115.5px,#9613a1 116.5px,#8f0da4 117.5px,#6400a7 119.5px,#3e049c 121.5px,#280592 124.5px,#16078a 137.5px,#1b068d 157.5px,#330597 162.5px,#6600a7 166.5px,#8e0ca4 168.5px,#be3885 171.5px,#c8437b 174.5px,#a62098 178.5px,#7801a8 181.5px,#48039f 185.5px,#2a0593 191.5px,#240691 193.5px)"></i>
<i style="height:1px;background:linear-gradient(90deg,#130789 0.5px,#19068c 101.5px,#2e0595 110.5px,#3e049c 112.5px,#6600a7 114.5px,#8f0da4 116.5px,#9511a1 117.5px,#7801a8 119.5px,#3a049a 122.5px,#260591 126.5px,#16078a 139.5px,#1b068d 158.5px,#330597 163.5px,#6600a7 167.5px,#8e0ca4 169.5px,#be3885 172.5px,#c9447a 174.5px,#bd3786 177.5px,#8707a6 181.5px,#5102a3 185.5px,#2f0596 190.5px,#260591 193.5px)"></i>
<i style="height:1px;background:linear-gradient(90deg,#130789 0.5px,#19068c 102.5px,#2e0595 111.5px,#3f049c 113.5px,#8004a8 116.5px,#8f0da4 117.5px,#920fa3 118.5px,#8808a6 119.5px,#5b01a5 121.5px,#38049a 123.5px,#240691 127.5px,#16078a 142.5px,#1b068d 159.5px,#330597 164.5px,#5601a4 167.5px,#7a02a8 169.5px,#b32c8e 172.5px,#ca457a 175.5px,#bd3786 178.5px,#8707a6 182.5px,#5002a2 186.5px,#2f0596 191.5px,#2a0593 193.5px)"></i>
<i style="height:1px;background:linear-gradient(90deg,#130789 0.5px,#19068c 103.5px,#2e0595 112.5px,#43039e 114.5px,#8104a7 117.5px,#8f0da4 118.5px,#8f0da4 119.5px,#8405a7 120.5px,#44039e 123.5px,#2a0593 126.5px,#16078a 140.5px,#1b068d 160.5px,#330597 165.5px,#5601a4 168.5px,#7b02a8 170.5px,#c03a83 174.5px,#cb4679 176.5px,#be3885 179.5px,#8707a6 183.5px,#5002a2 187.5px,#2f0596 192.5px,#2c0594 193.5px)"></i>
<i style="height:1px;background:linear-gradient(90deg,#130789 0.5px,#19068c 104.5px,#2f0596 113.5px,#44039e 115.5px,#8305a7 118.5px,#8e0ca4 119.5px,#8d0ba5 120.5px,#6900a8 122.5px,#41049d 124.5px,#2a0593 127.5px,#16078a 140.5px,#1b068d 161.5px,#310597 166.5px,#6700a8 170.5px,#8f0da4 172.5px,#c03a83 175.5px,#cb4679 177.5px,#be3885 180.5px,#8707a6 184.5px,#5002a2 188.5px,#2f0596 193.5px)"></i>
<i style="height:1px;background:linear-gradient(90deg,#130789 0.5px,#19068c 104.5px,#2f0596 114.5px,#48039f 116.5px,#8405a7 119.5px,#8e0ca4 120.5px,#8a09a5 121.5px,#5002a2 124.5px,#2c0594 127.5px,#16078a 140.5px,#1b068d 162.5px,#310597 167.5px,#6700a8 171.5px,#8f0da4 173.5px,#c13b82 176.5px,#cc4778 178.5px,#bf3984 181.5px,#8707a6 185.5px,#5002a2 189.5px,#330597 193.5px)"></i>
<i style="height:1px;background:linear-gradient(90deg,#130789 0.5px,#19068c 105.5px,#310597 115.5px,#4903a0 117.5px,#8606a6 120.5px,#8d0ba5 121.5px,#8707a6 122.5px,#4c02a1 125.5px,#310597 127.5px,#1d068e 134.5px,#16078a 152.5px,#1d068e 164.5px,#3c049b 169.5px,#6700a8 172.5px,#8f0da4 174.5px,#c23c81 177.5px,#cc4977 179.5px,#c03a83 182.5px,#8707a6 186.5px,#5002a2 190.5px,#370499 193.5px)"></i>
<i style="height:1px;background:linear-gradient(90deg,#130789 0.5px,#19068c 106.5px,#310597 116.5px,#4c02a1 118.5px,#8606a6 121.5px,#8a09a5 122.5px,#7201a8 124.5px,#3a049a 127.5px,#260591 130.5px,#16078a 145.5px,#1b068d 164.5px,#310597 169.5px,#6700a8 173.5px,#7b02a8 174.5px,#b52f8c 177.5px,#cb4679 179.5px,#c8437b 182.5px,#99159f 186.5px,#7701a8 188.5px,#46039f 192.5px,#3e049c 193.5px)"></i>
<i style="height:1px;background:linear-gradient(90deg,#130789 0.5px,#19068c 107.5px,#2c0594 116.5px,#3e049c 118.5px,#7801a8 121.5px,#8606a6 122.5px,#8808a6 123.5px,#6e00a8 125.5px,#38049a 128.5px,#240691 132.5px,#16078a 147.5px,#1b068d 165.5px,#310597 170.5px,#6700a8 174.5px,#7b02a8 175.5px,#b6308b 178.5px,#ce4b75 181.5px,#c13b82 184.5px,#8808a6 188.5px,#5b01a5 191.5px,#44039e 193.5px)"></i>
<i style="height:1px;background:linear-gradient(90deg,#130789 0.5px,#19068c 108.5px,#2e0595 117.5px,#5102a3 120.5px,#7a02a8 122.5px,#8606a6 123.5px,#8606a6 124.5px,#6900a8 126.5px,#370499 129.5px,#260591 132.5px,#16078a 147.5px,#1b068d 166.5px,#310597 171.5px,#6700a8 175.5px,#7b02a8 176.5px,#b6308b 179.5px,#cc4778 181.5px,#c9447a 184.5px,#aa2395 187.5px,#7801a8 190.5px,#4e02a2 193.5px)"></i>
<i style="height:1px;background:linear-gradient(90deg,#130789 0.5px,#19068c 108.5px,#2e0595 118.5px,#5502a4 121.5px,#7a02a8 123.5px,#8405a7 124.5px,#8305a7 125.5px,#5102a3 128.5px,#2c0594 131.5px,#16078a 143.5px,#1b068d 167.5px,#310597 172.5px,#5502a4 175.5px,#7b02a8 177.5px,#b6308b 180.5px,#cc4778 182.5px,#ce4b75 184.5px,#b7318a 187.5px,#8a09a5 190.5px,#5b01a5 193.5px)"></i>
<i style="height:1px;background:linear-gradient(90deg,#130789 0.5px,#19068c 109.5px,#2a0593 118.5px,#44039e 121.5px,#7a02a8 124.5px,#8305a7 125.5px,#7401a8 127.5px,#3e049c 130.5px,#240691 134.5px,#16078a 149.5px,#1b068d 168.5px,#310597 173.5px,#5502a4 176.5px,#7b02a8 178.5px,#b7318a 181.5px,#d04d73 184.5px,#c43e7f 187.5px,#9c179e 190.5px,#7a02a8 192.5px,#6900a8 193.5px)"></i>
<i style="height:1px;background:linear-gradient(90deg,#130789 0.5px,#19068c 110.5px,#2f0596 120.5px,#5801a4 123.5px,#7a02a8 125.5px,#7d03a8 127.5px,#310597 132.5px,#1d068e 138.5px,#16078a 159.5px,#1d068e 170.5px,#3a049a 175.5px,#6600a7 178.5px,#7b02a8 179.5px,#b7318a 182.5px,#cd4a76 184.5px,#d04d73 186.5px,#bb3488 189.5px,#8b0aa5 192.5px,#7a02a8 193.5px)"></i>
<i style="height:1px;background:linear-gradient(90deg,#130789 0.5px,#19068c 111.5px,#2f0596 121.5px,#5901a5 124.5px,#7801a8 126.5px,#7e03a8 127.5px,#6c00a8 129.5px,#3a049a 132.5px,#260591 135.5px,#16078a 150.5px,#1b068d 170.5px,#310597 175.5px,#5502a4 178.5px,#7a02a8 180.5px,#a51f99 182.5px,#c5407e 184.5px,#d24f71 186.5px,#c6417d 189.5px,#9e199d 192.5px,#8d0ba5 193.5px)"></i>
<i style="height:1px;background:linear-gradient(90deg,#130789 0.5px,#19068c 112.5px,#310597 122.5px,#4903a0 124.5px,#7801a8 127.5px,#7d03a8 128.5px,#6700a8 130.5px,#370499 133.5px,#220690 137.5px,#16078a 154.5px,#1b068d 171.5px,#310597 176.5px,#5302a3 179.5px,#7a02a8 181.5px,#a51f99 183.5px,#ce4b75 186.5px,#ce4b75 189.5px,#b02991 192.5px,#a01a9c 193.5px)"></i>
<i style="height:1px;background:linear-gradient(90deg,#130789 0.5px,#19068c 112.5px,#310597 123.5px,#7701a8 128.5px,#7a02a8 129.5px,#6300a7 131.5px,#350498 134.5px,#20068f 139.5px,#16078a 155.5px,#1b068d 172.5px,#310597 177.5px,#5302a3 180.5px,#7801a8 182.5px,#b6308b 185.5px,#ce4b75 187.5px,#d35171 189.5px,#bf3984 192.5px,#b12a90 193.5px)"></i>
<i style="height:1px;background:linear-gradient(90deg,#130789 0.5px,#19068c 113.5px,#2c0594 123.5px,#4b03a1 126.5px,#7701a8 129.5px,#6f00a8 131.5px,#330597 135.5px,#220690 139.5px,#16078a 154.5px,#1b068d 173.5px,#2f0596 178.5px,#5302a3 181.5px,#7801a8 183.5px,#a31e9a 185.5px,#cf4c74 188.5px,#d5536f 190.5px,#c03a83 193.5px)"></i>
<i style="height:1px;background:linear-gradient(90deg,#130789 0.5px,#19068c 114.5px,#2c0594 124.5px,#4c02a1 127.5px,#7501a8 130.5px,#6a00a8 132.5px,#310597 136.5px,#20068f 141.5px,#16078a 157.5px,#1b068d 174.5px,#2f0596 179.5px,#6300a7 183.5px,#8d0ba5 185.5px,#c5407e 188.5px,#d5536f 190.5px,#d24f71 192.5px,#cb4679 193.5px)"></i>
<i style="height:1px;background:linear-gradient(90deg,#130789 0.5px,#19068c 115.5px,#2c0594 125.5px,#4e02a2 128.5px,#6c00a8 130.5px,#7100a8 132.5px,#2f0596 137.5px,#20068f 141.5px,#16078a 157.5px,#1b068d 175.5px,#2f0596 180.5px,#5002a2 183.5px,#7501a8 185.5px,#a21d9a 187.5px,#d04d73 190.5px,#d6556d 192.5px,#d24f71 193.5px)"></i>
<i style="height:1px;background:linear-gradient(90deg,#130789 0.5px,#19068c 116.5px,#2e0595 126.5px,#4e02a2 129.5px,#6a00a8 131.5px,#6e00a8 133.5px,#2e0595 138.5px,#1b068d 145.5px,#16078a 171.5px,#240691 179.5px,#43039e 183.5px,#7401a8 186.5px,#a11b9b 188.5px,#d04d73 191.5px,#d6556d 193.5px)"></i>
<i style="height:1px;background:linear-gradient(90deg,#130789 0.5px,#19068c 117.5px,#2e0595 127.5px,#5e01a6 131.5px,#6f00a8 133.5px,#5e01a6 135.5px,#2c0594 139.5px,#1b068d 145.5px,#16078a 173.5px,#280592 181.5px,#4e02a2 185.5px,#7201a8 187.5px,#a01a9c 189.5px,#cf4c74 192.5px,#d5546e 193.5px)"></i>
<i style="height:1px;background:linear-gradient(90deg,#130789 0.5px,#19068c 118.5px,#2e0595 128.5px,#6900a8 133.5px,#6600a7 135.5px,#2a0593 140.5px,#19068c 149.5px,#16078a 175.5px,#280592 182.5px,#3f049c 185.5px,#7201a8 188.5px,#9e199d 190.5px,#ce4b75 193.5px)"></i>
<i style="height:1px;background:linear-gradient(90deg,#130789 0.5px,#19068c 119.5px,#2e0595 129.5px,#6700a8 134.5px,#6300a7 136.5px,#2f0596 140.5px,#20068f 144.5px,#16078a 158.5px,#19068c 178.5px,#2e0595 184.5px,#4c02a1 187.5px,#7100a8 189.5px,#8707a6 190.5px,#c23c81 193.5px)"></i>
<i style="height:1px;background:linear-gradient(90deg,#130789 0.5px,#19068c 120.5px,#280592 129.5px,#5102a3 133.5px,#6600a7 135.5px,#5e01a6 137.5px,#2c0594 141.5px,#1b068d 147.5px,#16078a 173.5px,#220690 183.5px,#3e049c 187.5px,#6f00a8 190.5px,#8606a6 191.5px,#b12a90 193.5px)"></i>
<i style="height:1px;background:linear-gradient(90deg,#130789 0.5px,#19068c 121.5px,#2a0593 130.5px,#44039e 133.5px,#6400a7 136.5px,#4c02a1 139.5px,#2a0593 142.5px,#19068c 150.5px,#16078a 178.5px,#260591 185.5px,#4903a0 189.5px,#8405a7 192.5px,#9a169f 193.5px)"></i>
<i style="height:1px;background:linear-gradient(90deg,#130789 0.5px,#19068c 121.5px,#2a0593 131.5px,#46039f 134.5px,#6100a7 137.5px,#5502a4 139.5px,#280592 143.5px,#16078a 152.5px,#19068c 181.5px,#2c0594 187.5px,#4903a0 190.5px,#8305a7 193.5px)"></i>
<i style="height:1px;background:linear-gradient(90deg,#130789 0.5px,#19068c 122.5px,#2a0593 132.5px,#5b01a5 137.5px,#5801a4 139.5px,#260591 144.5px,#19068c 151.5px,#16078a 180.5px,#260591 187.5px,#48039f 191.5px,#6a00a8 193.5px)"></i>
<i style="height:1px;background:linear-gradient(90deg,#130789 0.5px,#19068c 123.5px,#2a0593 133.5px,#5801a4 138.5px,#5502a4 140.5px,#2a0593 144.5px,#19068c 150.5px,#16078a 182.5px,#2a0593 189.5px,#5601a4 193.5px)"></i>
<i style="height:1px;background:linear-gradient(90deg,#130789 0.5px,#19068c 124.5px,#260591 133.5px,#5502a4 139.5px,#4e02a2 141.5px,#260591 145.5px,#19068c 151.5px,#16078a 183.5px,#2a0593 190.5px,#46039f 193.5px)"></i>
<i style="height:1px;background:linear-gradient(90deg,#130789 0.5px,#19068c 125.5px,#260591 134.5px,#5102a3 140.5px,#3f049c 143.5px,#240691 146.5px,#16078a 154.5px,#19068c 186.5px,#2a0593 191.5px,#3a049a 193.5px)"></i>
<i style="height:1px;background:linear-gradient(90deg,#130789 0.5px,#19068c 126.5px,#260591 135.5px,#4e02a2 141.5px,#1d068e 148.5px,#130789 169.5px,#1b068d 188.5px,#2f0596 193.5px)"></i>
<i style="height:1px;background:linear-gradient(90deg,#130789 0.5px,#19068c 127.5px,#240691 136.5px,#48039f 141.5px,#3e049c 144.5px,#20068f 148.5px,#16078a 158.5px,#19068c 188.5px,#2a0593 193.5px)"></i>
<i style="height:1px;background:linear-gradient(90deg,#130789 0.5px,#19068c 129.5px,#2a0593 138.5px,#44039e 142.5px,#370499 145.5px,#1d068e 149.5px,#130789 166.5px,#1b068d 190.5px,#240691 193.5px)"></i>
<i style="height:1px;background:linear-gradient(90deg,#130789 0.5px,#19068c 130.5px,#2a0593 139.5px,#3f049c 143.5px,#19068c 151.5px,#16078a 188.5px,#20068f 193.5px)"></i>
<i style="height:1px;background:linear-gradient(90deg,#130789 0.5px,#19068c 131.5px,#240691 139.5px,#3a049a 144.5px,#19068c 151.5px,#16078a 186.5px,#1d068e 193.5px)"></i>
<i style="height:1px;background:linear-gradient(90deg,#130789 0.5px,#19068c 132.5px,#240691 140.5px,#350498 145.5px,#16078a 152.5px,#19068c 192.5px,#1b068d 193.5px)"></i>
<i style="height:1px;background:linear-gradient(90deg,#130789 0.5px,#19068c 134.5px,#260591 142.5px,#2f0596 146.5px,#16078a 152.5px,#19068c 193.5px)"></i>
<i style="height:1px;background:linear-gradient(90deg,#130789 0.5px,#19068c 136.5px,#280592 144.5px,#240691 148.5px,#130789 153.5px,#16078a 193.5px)"></i>
<i style="height:1px;background:linear-gradient(90deg,#130789 0.5px,#19068c 138.5px,#240691 147.5px,#130789 152.5px,#16078a 193.5px)"></i>
<i style="height:1px;background:linear-gradient(90deg,#130789 0.5px,#19068c 140.5px,#1d068e 147.5px,#130789 150.5px,#16078a 193.5px)"></i>
<i style="height:1px;background:linear-gradient(90deg,#130789 0.5px,#19068c 145.5px,#130789 188.5px,#16078a 193.5px)"></i>
<i style="height:1px;background:linear-gradient(90deg,#130789 0.5px,#16078a 146.5px,#16078a 193.5px)"></i>
<i style="height:1px;background:linear-gradient(90deg,#130789 0.5px,#16078a 193.5px)"></i>
<i style="height:1px;background:linear-gradient(90deg,#130789 0.5px,#130789 193.5px)"></i>
<i style="height:1px;background:linear-gradient(90deg,#130789 0.5px,#130789 193.5px)"></i>
<i style="height:1px;background:linear-gradient(90deg,#130789 0.5px,#130789 193.5px)"></i>
<i style="height:1px;background:linear-gradient(90deg,#130789 0.5px,#130789 193.5px)"></i>
<i style="height:1px;background:linear-gradient(90deg,#130789 0.5px,#130789 193.5px)"></i>
<i style="height:1px;background:linear-gradient(90deg,#130789 0.5px,#130789 193.5px)"></i>
<i style="height:1px;background:linear-gradient(90deg,#130789 0.5px,#130789 193.5px)"></i>
<i style="height:1px;background:linear-gradient(90deg,#130789 0.5px,#130789 193.5px)"></i>
<i style="height:1px;background:linear-gradient(90deg,#130789 0.5px,#130789 193.5px)"></i>
<i style="height:1px;background:linear-gradient(90deg,#130789 0.5px,#130789 193.5px)"></i>
<i style="height:1px;background:linear-gradient(90deg,#130789 0.5px,#130789 193.5px)"></i>
<i style="height:1px;background:linear-gradient(90deg,#130789 0.5px,#130789 193.5px)"></i>
<i style="height:1px;background:linear-gradient(90deg,#130789 0.5px,#130789 193.5px)"></i>
</div>
<div class="cm" style="left:58px;top:383px;width:195px;height:203px">
<i style="height:1px;background:linear-gradient(90deg,#a11b9b 0.5px,#8e0ca4 30.5px,#8b0aa5 49.5px,#aa2395 66.5px,#c23c81 71.5px,#e26660 76.5px,#ec7754 90.5px,#f68d45 93.5px,#fa9e3b 94.5px,#fbd724 96.5px,#f6e826 97.5px,#f8e125 98.5px,#fdc627 99.5px,#f79143 101.5px,#ee7b51 103.5px,#e56a5d 111.5px,#e26561 118.5px,#b02991 126.5px,#8b0aa5 140.5px,#8b0aa5 159.5px,#a11b9b 194.5px)"></i>
<i style="height:1px;background:linear-gradient(90deg,#a11b9b 0.5px,#8e0ca4 26.5px,#8606a6 46.5px,#a31e9a 64.5px,#bc3587 70.5px,#e56b5d 76.5px,#f0804e 90.5px,#f9973f 93.5px,#fdc527 95.5px,#f7e425 96.5px,#f1f525 97.5px,#f3ee27 98.5px,#fbd324 99.5px,#fa9b3d 101.5px,#f1834c 103.5px,#ea7457 111.5px,#e66c5c 118.5px,#b52f8c 125.5px,#920fa3 135.5px,#8405a7 149.5px,#a11b9b 194.5px)"></i>
<i style="height:1px;background:linear-gradient(90deg,#a11b9b 0.5px,#8e0ca4 23.5px,#8104a7 42.5px,#9a169f 61.5px,#b52f8c 69.5px,#e66c5c 76.5px,#f0804e 85.5px,#f68f44 91.5px,#fba238 93.5px,#fdb52e 94.5px,#fbd324 95.5px,#f1f426 96.5px,#f0f921 98.5px,#f7e225 99.5px,#fca537 101.5px,#f68d45 103.5px,#f07f4f 109.5px,#e97158 118.5px,#b6308b 125.5px,#8f0da4 136.5px,#8104a7 148.5px,#a11b9b 194.5px)"></i>
<i style="height:1px;background:linear-gradient(90deg,#a11b9b 0.5px,#8d0ba5 22.5px,#7e03a8 41.5px,#9511a1 59.5px,#b52f8c 69.5px,#e87059 77.5px,#f48948 85.5px,#fa9b3d 91.5px,#fdaf31 93.5px,#fdc328 94.5px,#f0f921 96.5px,#f1f426 99.5px,#fcce25 100.5px,#fdb22f 101.5px,#f9983e 103.5px,#f3874a 110.5px,#e97257 118.5px,#b7318a 125.5px,#910ea3 135.5px,#8004a8 147.5px,#a11b9b 194.5px)"></i>
<i style="height:1px;background:linear-gradient(90deg,#a11b9b 0.5px,#8b0aa5 22.5px,#7b02a8 40.5px,#920fa3 58.5px,#b42e8d 69.5px,#e66c5c 77.5px,#f89441 86.5px,#fca835 91.5px,#febe2a 93.5px,#fbd524 94.5px,#f0f724 95.5px,#f0f921 99.5px,#fdc229 101.5px,#fca338 103.5px,#f79044 109.5px,#eb7655 117.5px,#ce4b75 122.5px,#ad2793 127.5px,#8606a6 139.5px,#8004a8 154.5px,#a11b9b 194.5px)"></i>
<i style="height:1px;background:linear-gradient(90deg,#a11b9b 0.5px,#8d0ba5 20.5px,#7801a8 39.5px,#910ea3 58.5px,#b42e8d 69.5px,#eb7556 79.5px,#fdb52e 91.5px,#fcd025 93.5px,#f0f921 95.5px,#f1f426 100.5px,#febd2a 102.5px,#fb9f3a 106.5px,#ea7457 117.5px,#b22b8f 126.5px,#8707a6 138.5px,#7d03a8 151.5px,#a11b9b 194.5px)"></i>
<i style="height:1px;background:linear-gradient(90deg,#a11b9b 0.5px,#8d0ba5 20.5px,#7701a8 38.5px,#8a09a5 55.5px,#b32c8e 69.5px,#f2844b 82.5px,#fdc328 91.5px,#f0f921 94.5px,#f0f921 100.5px,#fccd25 102.5px,#fdac33 105.5px,#e76f5a 117.5px,#ad2793 127.5px,#8405a7 139.5px,#7b02a8 152.5px,#a11b9b 194.5px)"></i>
<i style="height:1px;background:linear-gradient(90deg,#a11b9b 0.5px,#8b0aa5 20.5px,#7501a8 39.5px,#8b0aa5 56.5px,#b32c8e 69.5px,#ed7953 81.5px,#fdc527 90.5px,#f1f525 93.5px,#f0f724 101.5px,#fdca26 103.5px,#fa9e3b 108.5px,#db5c68 119.5px,#aa2395 128.5px,#8405a7 139.5px,#7b02a8 152.5px,#a11b9b 194.5px)"></i>
<i style="height:1px;background:linear-gradient(90deg,#a11b9b 0.5px,#8a09a5 21.5px,#7501a8 38.5px,#8707a6 54.5px,#ae2892 68.5px,#e56b5d 80.5px,#fdb42f 88.5px,#f9dd25 91.5px,#f0f921 93.5px,#f0f921 101.5px,#fdc527 104.5px,#fa9b3d 108.5px,#d9586a 119.5px,#a62098 129.5px,#8104a7 140.5px,#7b02a8 154.5px,#a11b9b 194.5px)"></i>
<i style="height:1px;background:linear-gradient(90deg,#a11b9b 0.5px,#8b0aa5 20.5px,#7501a8 38.5px,#8707a6 54.5px,#ae2892 68.5px,#e26561 80.5px,#fca835 87.5px,#fbd324 90.5px,#f0f921 92.5px,#f0f921 101.5px,#f2f227 102.5px,#fdc827 104.5px,#f9983e 108.5px,#cd4a76 121.5px,#9d189d 131.5px,#7e03a8 142.5px,#7b02a8 156.5px,#a11b9b 194.5px)"></i>
<i style="height:1px;background:linear-gradient(90deg,#a11b9b 0.5px,#8a09a5 21.5px,#7501a8 38.5px,#8707a6 54.5px,#ae2892 68.5px,#e4695e 81.5px,#fca537 87.5px,#fbd524 90.5px,#f0f921 92.5px,#f1f525 102.5px,#feb82c 105.5px,#f58b47 109.5px,#c9447a 122.5px,#99159f 132.5px,#7d03a8 143.5px,#7d03a8 158.5px,#a11b9b 194.5px)"></i>
<i style="height:1px;background:linear-gradient(90deg,#a11b9b 0.5px,#8a09a5 21.5px,#7501a8 38.5px,#8a09a5 55.5px,#b22b8f 69.5px,#e76e5b 82.5px,#fba238 87.5px,#fbd524 90.5px,#f0f921 92.5px,#f1f525 102.5px,#fdb52e 105.5px,#f3874a 109.5px,#c9447a 122.5px,#99159f 132.5px,#7d03a8 143.5px,#7d03a8 158.5px,#a01a9c 194.5px)"></i>
<i style="height:1px;background:linear-gradient(90deg,#a11b9b 0.5px,#8b0aa5 20.5px,#7701a8 39.5px,#8e0ca4 57.5px,#b22b8f 69.5px,#e76e5b 82.5px,#fb9f3a 87.5px,#fcd025 90.5px,#f0f921 92.5px,#f0f921 101.5px,#f3f027 102.5px,#fdc229 104.5px,#f58c46 108.5px,#e66c5c 114.5px,#ca457a 122.5px,#9a169f 132.5px,#7e03a8 142.5px,#7b02a8 157.5px,#a01a9c 194.5px)"></i>
<i style="height:1px;background:linear-gradient(90deg,#a11b9b 0.5px,#8d0ba5 20.5px,#7801a8 39.5px,#8a09a5 55.5px,#ae2892 68.5px,#eb7556 83.5px,#fca835 88.5px,#f9dc24 91.5px,#f3f027 92.5px,#f0f921 94.5px,#f0f921 101.5px,#feba2c 104.5px,#f79143 107.5px,#ea7457 112.5px,#da5a6a 119.5px,#a72197 129.5px,#8104a7 140.5px,#7a02a8 154.5px,#a01a9c 194.5px)"></i>
<i style="height:1px;background:linear-gradient(90deg,#a11b9b 0.5px,#8b0aa5 22.5px,#7a02a8 40.5px,#910ea3 58.5px,#b32c8e 69.5px,#e26561 80.5px,#f89540 87.5px,#fcce25 91.5px,#f0f921 93.5px,#f1f525 101.5px,#fdc229 103.5px,#f9973f 106.5px,#ee7b51 110.5px,#dd5e66 119.5px,#ab2494 128.5px,#8305a7 140.5px,#7a02a8 153.5px,#a01a9c 194.5px)"></i>
<i style="height:1px;background:linear-gradient(90deg,#a11b9b 0.5px,#8b0aa5 22.5px,#7b02a8 41.5px,#9511a1 60.5px,#ba3388 70.5px,#e26561 79.5px,#f68f44 87.5px,#febe2a 91.5px,#f0f921 94.5px,#f0f921 100.5px,#fdb22f 103.5px,#f3874a 107.5px,#ec7754 112.5px,#e56a5d 118.5px,#ac2694 128.5px,#8606a6 139.5px,#7a02a8 151.5px,#9e199d 194.5px)"></i>
<i style="height:1px;background:linear-gradient(90deg,#a11b9b 0.5px,#8d0ba5 22.5px,#7e03a8 41.5px,#910ea3 58.5px,#b02991 68.5px,#e06363 77.5px,#f3854b 87.5px,#fdac33 91.5px,#fcce25 93.5px,#f5e926 94.5px,#f0f921 95.5px,#f0f921 99.5px,#f3f027 100.5px,#fdcb26 101.5px,#fba238 103.5px,#ef7e50 107.5px,#ed7a52 113.5px,#e97158 118.5px,#b12a90 127.5px,#8808a6 138.5px,#7b02a8 150.5px,#9e199d 194.5px)"></i>
<i style="height:1px;background:linear-gradient(90deg,#a11b9b 0.5px,#8b0aa5 25.5px,#8004a8 43.5px,#9d189d 63.5px,#be3885 70.5px,#e16462 76.5px,#ee7b51 87.5px,#fa9b3d 91.5px,#feba2c 93.5px,#fcd225 94.5px,#f0f921 95.5px,#f0f921 99.5px,#fdb52e 101.5px,#f79143 103.5px,#ea7457 107.5px,#ee7b51 113.5px,#ef7e50 117.5px,#d5546e 122.5px,#b12a90 127.5px,#8808a6 138.5px,#7b02a8 151.5px,#9d189d 194.5px)"></i>
<i style="height:1px;background:linear-gradient(90deg,#a11b9b 0.5px,#8e0ca4 24.5px,#8305a7 44.5px,#9a169f 62.5px,#b83289 69.5px,#e26561 75.5px,#e56b5d 80.5px,#e76f5a 87.5px,#f58b47 91.5px,#fca537 93.5px,#febb2b 94.5px,#f8df25 95.5px,#f0f921 96.5px,#f1f426 99.5px,#fec029 100.5px,#fba139 101.5px,#ec7754 104.5px,#e26660 108.5px,#f3854b 116.5px,#ed7953 119.5px,#b83289 126.5px,#9511a1 134.5px,#7e03a8 145.5px,#8808a6 169.5px,#9d189d 194.5px)"></i>
<i style="height:1px;background:linear-gradient(90deg,#a21d9a 0.5px,#8405a7 44.5px,#9d189d 63.5px,#b42e8d 68.5px,#e4695e 75.5px,#e66c5c 78.5px,#de5f65 86.5px,#e97158 90.5px,#f89441 93.5px,#fca835 94.5px,#fdca26 95.5px,#f0f921 96.5px,#f0f921 98.5px,#f9dc24 99.5px,#fdab33 100.5px,#f68f44 101.5px,#e3685f 104.5px,#da5b69 108.5px,#f48849 116.5px,#f0804e 119.5px,#ba3388 126.5px,#9814a0 133.5px,#7e03a8 146.5px,#8f0da4 177.5px,#9d189d 194.5px)"></i>
<i style="height:1px;background:linear-gradient(90deg,#a21d9a 0.5px,#8707a6 44.5px,#9a169f 62.5px,#ae2892 67.5px,#e26561 74.5px,#e76e5b 77.5px,#d5536f 85.5px,#e16462 90.5px,#f9973f 94.5px,#fdb52e 95.5px,#f6e826 96.5px,#f0f921 97.5px,#f0f921 98.5px,#fdc627 99.5px,#f9983e 100.5px,#e76f5a 102.5px,#d5536f 105.5px,#d35171 109.5px,#f58c46 117.5px,#ed7a52 120.5px,#ba3388 126.5px,#9814a0 133.5px,#8004a8 146.5px,#8f0da4 177.5px,#9d189d 194.5px)"></i>
<i style="height:1px;background:linear-gradient(90deg,#a21d9a 0.5px,#8808a6 45.5px,#9d189d 63.5px,#ae2892 67.5px,#e26660 74.5px,#e56a5d 77.5px,#cc4778 84.5px,#cf4c74 88.5px,#e66c5c 92.5px,#f48849 94.5px,#fca537 95.5px,#fbd724 96.5px,#f0f921 97.5px,#f3ee27 98.5px,#fdb52e 99.5px,#f48948 100.5px,#df6263 102.5px,#c7427c 106.5px,#c9447a 109.5px,#e97158 114.5px,#f58b47 117.5px,#f3874a 119.5px,#ce4b75 124.5px,#ab2494 128.5px,#8707a6 140.5px,#8104a7 156.5px,#9c179e 194.5px)"></i>
<i style="height:1px;background:linear-gradient(90deg,#a21d9a 0.5px,#8b0aa5 48.5px,#a11b9b 65.5px,#c8437b 70.5px,#e16462 74.5px,#e06363 77.5px,#c43e7f 83.5px,#c6417d 88.5px,#e66c5c 93.5px,#ef7c51 94.5px,#f9973f 95.5px,#fdc627 96.5px,#f3f027 97.5px,#f9dd25 98.5px,#fca636 99.5px,#ee7b51 100.5px,#d7566c 102.5px,#c03a83 105.5px,#bb3488 108.5px,#cb4679 111.5px,#f07f4f 116.5px,#f48849 118.5px,#e97257 121.5px,#b12a90 127.5px,#8b0aa5 138.5px,#8104a7 154.5px,#9c179e 194.5px)"></i>
<i style="height:1px;background:linear-gradient(90deg,#a31e9a 0.5px,#8d0ba5 48.5px,#a11b9b 65.5px,#c6417d 70.5px,#de5f65 74.5px,#da5b69 77.5px,#ba3388 83.5px,#bd3786 88.5px,#e06363 93.5px,#e97158 94.5px,#f58b47 95.5px,#feb82c 96.5px,#f7e225 97.5px,#fcce25 98.5px,#f9983e 99.5px,#e87059 100.5px,#cf4c74 102.5px,#b12a90 106.5px,#b32c8e 109.5px,#d45270 113.5px,#f07f4f 117.5px,#f0804e 119.5px,#d8576b 123.5px,#b02991 127.5px,#8d0ba5 138.5px,#8305a7 153.5px,#9c179e 194.5px)"></i>
<i style="height:1px;background:linear-gradient(90deg,#a31e9a 0.5px,#8f0da4 52.5px,#a31e9a 66.5px,#d7566c 73.5px,#d8576b 76.5px,#b12a90 83.5px,#b42e8d 88.5px,#da5a6a 93.5px,#f07f4f 95.5px,#fdab33 96.5px,#fbd524 97.5px,#fec029 98.5px,#f58b47 99.5px,#e16462 100.5px,#c7427c 102.5px,#a62098 106.5px,#a72197 109.5px,#cc4778 113.5px,#ec7754 117.5px,#ee7b51 119.5px,#d6556d 123.5px,#ae2892 127.5px,#8b0aa5 139.5px,#8405a7 157.5px,#9c179e 194.5px)"></i>
<i style="height:1px;background:linear-gradient(90deg,#a51f99 0.5px,#910ea3 53.5px,#a31e9a 66.5px,#d45270 73.5px,#d35171 76.5px,#a72197 83.5px,#a72197 87.5px,#cb4679 92.5px,#dd5e66 94.5px,#eb7556 95.5px,#fb9f3a 96.5px,#fdc827 97.5px,#fdb42f 98.5px,#f0804e 99.5px,#da5b69 100.5px,#bf3984 102.5px,#a11b9b 105.5px,#99159f 108.5px,#ad2793 111.5px,#e3685f 116.5px,#eb7556 118.5px,#e3685f 121.5px,#ae2892 127.5px,#8e0ca4 138.5px,#8405a7 154.5px,#9c179e 194.5px)"></i>
<i style="height:1px;background:linear-gradient(90deg,#a51f99 0.5px,#920fa3 54.5px,#a62098 67.5px,#cf4c74 73.5px,#ce4b75 76.5px,#9e199d 83.5px,#9e199d 87.5px,#c33d80 92.5px,#d6556d 94.5px,#e56a5d 95.5px,#f79342 96.5px,#febb2b 97.5px,#fca835 98.5px,#ea7457 99.5px,#d35171 100.5px,#aa2395 103.5px,#910ea3 106.5px,#920fa3 109.5px,#b02991 112.5px,#de6164 116.5px,#e76f5a 119.5px,#d04d73 123.5px,#ad2793 127.5px,#8b0aa5 140.5px,#8808a6 163.5px,#9c179e 194.5px)"></i>
<i style="height:1px;background:linear-gradient(90deg,#a51f99 0.5px,#9511a1 57.5px,#a62098 67.5px,#cc4778 73.5px,#ca457a 76.5px,#9a169f 82.5px,#9410a2 86.5px,#b32c8e 91.5px,#cf4c74 94.5px,#de6164 95.5px,#f48849 96.5px,#fdaf31 97.5px,#fa9c3c 98.5px,#e56a5d 99.5px,#cc4778 100.5px,#a11b9b 103.5px,#8707a6 106.5px,#8808a6 109.5px,#a82296 112.5px,#da5b69 116.5px,#e56a5d 118.5px,#de5f65 121.5px,#b32c8e 126.5px,#9410a2 135.5px,#8606a6 153.5px,#9c179e 194.5px)"></i>
<i style="height:1px;background:linear-gradient(90deg,#a62098 0.5px,#9613a1 58.5px,#a51f99 67.5px,#c9447a 73.5px,#c6417d 76.5px,#9410a2 82.5px,#8b0aa5 86.5px,#a21d9a 90.5px,#c9447a 94.5px,#d7566c 95.5px,#ef7c51 96.5px,#fca338 97.5px,#f79044 98.5px,#de5f65 99.5px,#c43e7f 100.5px,#9814a0 103.5px,#7d03a8 106.5px,#7e03a8 109.5px,#a11b9b 112.5px,#d7566c 116.5px,#e26660 118.5px,#db5c68 121.5px,#b32c8e 126.5px,#9613a1 134.5px,#8707a6 150.5px,#9c179e 194.5px)"></i>
<i style="height:1px;background:linear-gradient(90deg,#a72197 0.5px,#9613a1 59.5px,#a51f99 67.5px,#c9447a 74.5px,#bc3587 77.5px,#8b0aa5 82.5px,#8305a7 86.5px,#99159f 90.5px,#c13b82 94.5px,#d14e72 95.5px,#f99a3e 97.5px,#f3874a 98.5px,#d7566c 99.5px,#bc3587 100.5px,#8e0ca4 103.5px,#7201a8 106.5px,#7501a8 109.5px,#8a09a5 111.5px,#ba3388 114.5px,#dc5d67 117.5px,#e26561 119.5px,#cb4679 123.5px,#ac2694 127.5px,#8f0da4 138.5px,#8808a6 158.5px,#9c179e 194.5px)"></i>
<i style="height:1px;background:linear-gradient(90deg,#a72197 0.5px,#9814a0 61.5px,#a82296 68.5px,#c6417d 74.5px,#b83289 77.5px,#8d0ba5 81.5px,#7b02a8 84.5px,#7d03a8 87.5px,#9a169f 91.5px,#ba3388 94.5px,#ca457a 95.5px,#f79044 97.5px,#ef7c51 98.5px,#cf4c74 99.5px,#b32c8e 100.5px,#8405a7 103.5px,#6900a8 106.5px,#6c00a8 109.5px,#8104a7 111.5px,#b52f8c 114.5px,#da5b69 117.5px,#e06363 119.5px,#ca457a 123.5px,#a62098 128.5px,#8b0aa5 142.5px,#8f0da4 172.5px,#9c179e 194.5px)"></i>
<i style="height:1px;background:linear-gradient(90deg,#a82296 0.5px,#9814a0 62.5px,#a72197 68.5px,#c43e7f 73.5px,#bd3786 76.5px,#8707a6 81.5px,#7401a8 84.5px,#7a02a8 88.5px,#9d189d 92.5px,#c23c81 95.5px,#f3874a 97.5px,#ea7457 98.5px,#c9447a 99.5px,#ab2494 100.5px,#8808a6 102.5px,#6600a7 105.5px,#6001a6 108.5px,#7a02a8 111.5px,#9d189d 113.5px,#ce4b75 116.5px,#de5f65 118.5px,#d9586a 121.5px,#ab2494 127.5px,#910ea3 137.5px,#8a09a5 157.5px,#9c179e 194.5px)"></i>
<i style="height:1px;background:linear-gradient(90deg,#a82296 0.5px,#9814a0 62.5px,#ac2694 69.5px,#c23c81 74.5px,#b12a90 77.5px,#8004a8 81.5px,#6c00a8 84.5px,#7201a8 88.5px,#9511a1 92.5px,#bb3488 95.5px,#ef7e50 97.5px,#e56a5d 98.5px,#c13b82 99.5px,#a21d9a 100.5px,#8004a8 102.5px,#5801a4 106.5px,#5b01a5 109.5px,#8305a7 112.5px,#bd3786 115.5px,#d7566c 117.5px,#de6164 119.5px,#d14e72 122.5px,#aa2395 127.5px,#8f0da4 138.5px,#8d0ba5 164.5px,#9d189d 194.5px)"></i>
<i style="height:1px;background:linear-gradient(90deg,#aa2395 0.5px,#9814a0 63.5px,#ab2494 69.5px,#c03a83 73.5px,#b6308b 76.5px,#8606a6 80.5px,#6900a8 83.5px,#6600a7 87.5px,#8305a7 91.5px,#a31e9a 94.5px,#b42e8d 95.5px,#eb7655 97.5px,#df6263 98.5px,#ba3388 99.5px,#99159f 100.5px,#7801a8 102.5px,#5601a4 105.5px,#4e02a2 108.5px,#6900a8 111.5px,#8f0da4 113.5px,#ca457a 116.5px,#dc5d67 118.5px,#dd5e66 120.5px,#aa2395 127.5px,#920fa3 136.5px,#8b0aa5 156.5px,#9d189d 194.5px)"></i>
<i style="height:1px;background:linear-gradient(90deg,#ab2494 0.5px,#99159f 64.5px,#b02991 70.5px,#be3885 74.5px,#a82296 77.5px,#7e03a8 80.5px,#5c01a6 84.5px,#6300a7 88.5px,#8606a6 92.5px,#ac2694 95.5px,#e76f5a 97.5px,#da5b69 98.5px,#b12a90 99.5px,#910ea3 100.5px,#6f00a8 102.5px,#4e02a2 105.5px,#48039f 108.5px,#5502a4 110.5px,#7401a8 112.5px,#8808a6 113.5px,#c6417d 116.5px,#da5b69 118.5px,#dc5d67 120.5px,#a82296 127.5px,#910ea3 137.5px,#8d0ba5 159.5px,#9d189d 194.5px)"></i>
<i style="height:1px;background:linear-gradient(90deg,#ab2494 0.5px,#99159f 65.5px,#bb3488 73.5px,#ae2892 76.5px,#7801a8 80.5px,#5b01a5 83.5px,#5801a4 87.5px,#7e03a8 92.5px,#a51f99 95.5px,#e3685f 97.5px,#d5546e 98.5px,#aa2395 99.5px,#8a09a5 100.5px,#6700a8 102.5px,#41049d 106.5px,#44039e 109.5px,#5b01a5 111.5px,#8305a7 113.5px,#c33d80 116.5px,#d9586a 118.5px,#db5c68 120.5px,#a72197 127.5px,#8f0da4 138.5px,#8f0da4 166.5px,#9e199d 194.5px)"></i>
<i style="height:1px;background:linear-gradient(90deg,#ac2694 0.5px,#9814a0 65.5px,#b83289 73.5px,#aa2395 76.5px,#8004a8 79.5px,#5b01a5 82.5px,#4e02a2 86.5px,#6400a7 90.5px,#8e0ca4 94.5px,#9d189d 95.5px,#df6263 97.5px,#d04d73 98.5px,#a21d9a 99.5px,#8104a7 100.5px,#48039f 104.5px,#38049a 107.5px,#46039f 110.5px,#6400a7 112.5px,#7b02a8 113.5px,#ac2694 115.5px,#d7566c 118.5px,#da5b69 120.5px,#a72197 127.5px,#920fa3 136.5px,#8d0ba5 158.5px,#9e199d 194.5px)"></i>
<i style="height:1px;background:linear-gradient(90deg,#ac2694 0.5px,#9814a0 56.5px,#9c179e 67.5px,#b52f8c 73.5px,#a51f99 76.5px,#7a02a8 79.5px,#5502a4 82.5px,#48039f 86.5px,#5c01a6 90.5px,#8707a6 94.5px,#9613a1 95.5px,#db5c68 97.5px,#cc4778 98.5px,#9a169f 99.5px,#7a02a8 100.5px,#41049d 104.5px,#310597 107.5px,#3f049c 110.5px,#7401a8 113.5px,#a62098 115.5px,#cb4679 117.5px,#d9586a 119.5px,#cd4a76 122.5px,#a62098 127.5px,#920fa3 136.5px,#8f0da4 163.5px,#9e199d 194.5px)"></i>
<i style="height:1px;background:linear-gradient(90deg,#ad2793 0.5px,#9814a0 56.5px,#9a169f 67.5px,#b22b8f 73.5px,#a01a9c 76.5px,#7401a8 79.5px,#4e02a2 82.5px,#41049d 86.5px,#5601a4 90.5px,#8104a7 94.5px,#910ea3 95.5px,#b42e8d 96.5px,#d7566c 97.5px,#c7427c 98.5px,#9511a1 99.5px,#7401a8 100.5px,#3c049b 104.5px,#2c0594 107.5px,#38049a 110.5px,#6e00a8 113.5px,#8707a6 114.5px,#b7318a 116.5px,#d24f71 118.5px,#d7566c 120.5px,#a51f99 127.5px,#920fa3 136.5px,#8f0da4 161.5px,#a01a9c 194.5px)"></i>
<i style="height:1px;background:linear-gradient(90deg,#ad2793 0.5px,#9a169f 52.5px,#99159f 67.5px,#ae2892 73.5px,#9a169f 76.5px,#6e00a8 79.5px,#48039f 82.5px,#3a049a 86.5px,#5b01a5 91.5px,#7b02a8 94.5px,#8b0aa5 95.5px,#b02991 96.5px,#d35171 97.5px,#c23c81 98.5px,#8f0da4 99.5px,#6e00a8 100.5px,#370499 104.5px,#260591 107.5px,#330597 110.5px,#5002a2 112.5px,#8104a7 114.5px,#c5407e 117.5px,#d5546e 119.5px,#cc4778 122.5px,#a51f99 127.5px,#920fa3 136.5px,#920fa3 165.5px,#a01a9c 194.5px)"></i>
<i style="height:1px;background:linear-gradient(90deg,#ad2793 0.5px,#9c179e 51.5px,#9613a1 66.5px,#aa2395 73.5px,#9511a1 76.5px,#6700a8 79.5px,#43039e 82.5px,#350498 85.5px,#43039e 89.5px,#7501a8 94.5px,#8606a6 95.5px,#ab2494 96.5px,#cf4c74 97.5px,#be3885 98.5px,#8a09a5 99.5px,#6900a8 100.5px,#310597 104.5px,#20068f 107.5px,#2c0594 110.5px,#6001a6 113.5px,#7a02a8 114.5px,#ae2892 116.5px,#cc4977 118.5px,#d45270 120.5px,#a01a9c 128.5px,#8f0da4 141.5px,#99159f 176.5px,#a01a9c 194.5px)"></i>
<i style="height:1px;background:linear-gradient(90deg,#ad2793 0.5px,#9c179e 51.5px,#9613a1 67.5px,#a62098 73.5px,#8f0da4 76.5px,#6100a7 79.5px,#3e049c 82.5px,#2f0596 85.5px,#370499 88.5px,#7100a8 94.5px,#8004a8 95.5px,#a62098 96.5px,#cc4778 97.5px,#bb3488 98.5px,#8606a6 99.5px,#6300a7 100.5px,#2c0594 104.5px,#1b068d 107.5px,#280592 110.5px,#44039e 112.5px,#7401a8 114.5px,#aa2395 116.5px,#ca457a 118.5px,#d24f71 120.5px,#9e199d 128.5px,#8f0da4 143.5px,#a01a9c 194.5px)"></i>
<i style="height:1px;background:linear-gradient(90deg,#ae2892 0.5px,#9d189d 49.5px,#9511a1 67.5px,#a21d9a 73.5px,#8a09a5 76.5px,#5b01a5 79.5px,#2f0596 83.5px,#2c0594 87.5px,#6001a6 93.5px,#7b02a8 95.5px,#a21d9a 96.5px,#c9447a 97.5px,#b6308b 98.5px,#8004a8 99.5px,#5e01a6 100.5px,#280592 104.5px,#1b068d 107.5px,#220690 110.5px,#3f049c 112.5px,#6e00a8 114.5px,#8a09a5 115.5px,#b83289 117.5px,#cd4a76 119.5px,#c7427c 122.5px,#a21d9a 127.5px,#910ea3 139.5px,#9c179e 178.5px,#a11b9b 194.5px)"></i>
<i style="height:1px;background:linear-gradient(90deg,#ae2892 0.5px,#9d189d 49.5px,#9511a1 67.5px,#9d189d 73.5px,#8405a7 76.5px,#48039f 80.5px,#260591 84.5px,#2c0594 88.5px,#6700a8 94.5px,#7701a8 95.5px,#9e199d 96.5px,#c6417d 97.5px,#b32c8e 98.5px,#7d03a8 99.5px,#5b01a5 100.5px,#240691 104.5px,#1b068d 106.5px,#1d068e 110.5px,#4e02a2 113.5px,#8405a7 115.5px,#b42e8d 117.5px,#cb4679 119.5px,#cb4679 121.5px,#a11b9b 127.5px,#920fa3 137.5px,#9a169f 174.5px,#a11b9b 194.5px)"></i>
<i style="height:1px;background:linear-gradient(90deg,#ae2892 0.5px,#9e199d 48.5px,#9410a2 67.5px,#99159f 73.5px,#7e03a8 76.5px,#370499 81.5px,#220690 84.5px,#220690 87.5px,#5801a4 93.5px,#7401a8 95.5px,#9a169f 96.5px,#c33d80 97.5px,#b02991 98.5px,#7801a8 99.5px,#5601a4 100.5px,#20068f 104.5px,#1d068e 110.5px,#240691 111.5px,#6300a7 114.5px,#8004a8 115.5px,#b12a90 117.5px,#c8437b 119.5px,#c9447a 121.5px,#a11b9b 127.5px,#9410a2 136.5px,#9c179e 175.5px,#a11b9b 194.5px)"></i>
<i style="height:1px;background:linear-gradient(90deg,#ad2793 0.5px,#a01a9c 46.5px,#920fa3 67.5px,#9511a1 73.5px,#7a02a8 76.5px,#330597 81.5px,#1d068e 84.5px,#1d068e 87.5px,#48039f 92.5px,#6f00a8 95.5px,#9613a1 96.5px,#c03a83 97.5px,#ac2694 98.5px,#7501a8 99.5px,#5302a3 100.5px,#1b068d 104.5px,#20068f 111.5px,#5e01a6 114.5px,#7a02a8 115.5px,#ac2694 117.5px,#c43e7f 119.5px,#c6417d 121.5px,#9c179e 128.5px,#9410a2 149.5px,#a11b9b 194.5px)"></i>
<i style="height:1px;background:linear-gradient(90deg,#ad2793 0.5px,#a11b9b 45.5px,#910ea3 67.5px,#910ea3 73.5px,#7401a8 76.5px,#240691 82.5px,#1b068d 86.5px,#260591 89.5px,#5b01a5 94.5px,#6c00a8 95.5px,#9410a2 96.5px,#be3885 97.5px,#aa2395 98.5px,#7201a8 99.5px,#5002a2 100.5px,#1b068d 104.5px,#1d068e 111.5px,#41049d 113.5px,#7401a8 115.5px,#a72197 117.5px,#c13b82 119.5px,#c33d80 121.5px,#9c179e 128.5px,#9410a2 148.5px,#a01a9c 194.5px)"></i>
<i style="height:1px;background:linear-gradient(90deg,#ad2793 0.5px,#a21d9a 43.5px,#910ea3 68.5px,#8d0ba5 73.5px,#6f00a8 76.5px,#2a0593 81.5px,#1b068d 83.5px,#1b068d 88.5px,#5801a4 94.5px,#6900a8 95.5px,#910ea3 96.5px,#bb3488 97.5px,#a72197 98.5px,#6f00a8 99.5px,#4e02a2 100.5px,#220690 103.5px,#1b068d 106.5px,#1d068e 111.5px,#3c049b 113.5px,#6f00a8 115.5px,#a21d9a 117.5px,#be3885 119.5px,#bd3786 122.5px,#9c179e 128.5px,#9511a1 147.5px,#a01a9c 194.5px)"></i>
<i style="height:1px;background:linear-gradient(90deg,#ac2694 0.5px,#a51f99 40.5px,#8f0da4 70.5px,#8104a7 74.5px,#3f049c 79.5px,#1d068e 82.5px,#20068f 89.5px,#5601a4 94.5px,#6600a7 95.5px,#8e0ca4 96.5px,#b83289 97.5px,#a51f99 98.5px,#6c00a8 99.5px,#4b03a1 100.5px,#20068f 103.5px,#1d068e 111.5px,#38049a 113.5px,#6a00a8 115.5px,#8707a6 116.5px,#b02991 118.5px,#be3885 120.5px,#99159f 129.5px,#9a169f 164.5px,#a01a9c 194.5px)"></i>
<i style="height:1px;background:linear-gradient(90deg,#ac2694 0.5px,#a51f99 39.5px,#8a09a5 72.5px,#7401a8 75.5px,#240691 81.5px,#1b068d 83.5px,#1b068d 89.5px,#5302a3 94.5px,#6400a7 95.5px,#8b0aa5 96.5px,#b7318a 97.5px,#a21d9a 98.5px,#6a00a8 99.5px,#4903a0 100.5px,#1d068e 103.5px,#1d068e 111.5px,#220690 112.5px,#6700a8 115.5px,#8104a7 116.5px,#ab2494 118.5px,#bb3488 120.5px,#ac2694 124.5px,#9613a1 130.5px,#9e199d 194.5px)"></i>
<i style="height:1px;background:linear-gradient(90deg,#ab2494 0.5px,#a62098 37.5px,#8707a6 72.5px,#6300a7 76.5px,#20068f 81.5px,#19068c 89.5px,#6100a7 95.5px,#8a09a5 96.5px,#b52f8c 97.5px,#a11b9b 98.5px,#6700a8 99.5px,#48039f 100.5px,#1b068d 103.5px,#20068f 112.5px,#6300a7 115.5px,#7e03a8 116.5px,#a72197 118.5px,#b7318a 120.5px,#9613a1 130.5px,#9e199d 194.5px)"></i>
<i style="height:1px;background:linear-gradient(90deg,#ab2494 0.5px,#a62098 37.5px,#8405a7 72.5px,#6001a6 76.5px,#1d068e 81.5px,#19068c 89.5px,#4e02a2 94.5px,#6001a6 95.5px,#8707a6 96.5px,#b42e8d 97.5px,#9e199d 98.5px,#6600a7 99.5px,#46039f 100.5px,#19068c 103.5px,#1d068e 112.5px,#6001a6 115.5px,#7a02a8 116.5px,#a21d9a 118.5px,#b42e8d 120.5px,#9511a1 131.5px,#9d189d 194.5px)"></i>
<i style="height:1px;background:linear-gradient(90deg,#aa2395 0.5px,#a72197 34.5px,#8104a7 72.5px,#5c01a6 76.5px,#1b068d 81.5px,#19068c 89.5px,#4c02a1 94.5px,#5e01a6 95.5px,#8606a6 96.5px,#b22b8f 97.5px,#9d189d 98.5px,#6600a7 99.5px,#44039e 100.5px,#19068c 103.5px,#1d068e 112.5px,#5c01a6 115.5px,#7501a8 116.5px,#9e199d 118.5px,#b02991 120.5px,#a11b9b 125.5px,#9511a1 133.5px,#9d189d 194.5px)"></i>
<i style="height:1px;background:linear-gradient(90deg,#aa2395 0.5px,#a62098 35.5px,#8305a7 71.5px,#6600a7 75.5px,#1b068d 81.5px,#1d068e 90.5px,#5c01a6 95.5px,#8405a7 96.5px,#b12a90 97.5px,#9c179e 98.5px,#6400a7 99.5px,#44039e 100.5px,#19068c 103.5px,#1d068e 112.5px,#5901a5 115.5px,#8808a6 117.5px,#a62098 119.5px,#ac2694 122.5px,#9511a1 130.5px,#9c179e 194.5px)"></i>
<i style="height:1px;background:linear-gradient(90deg,#a82296 0.5px,#a72197 32.5px,#8104a7 71.5px,#6300a7 75.5px,#19068c 81.5px,#1b068d 90.5px,#5b01a5 95.5px,#8305a7 96.5px,#b02991 97.5px,#9a169f 98.5px,#6300a7 99.5px,#43039e 100.5px,#19068c 103.5px,#1d068e 112.5px,#41049d 114.5px,#6f00a8 116.5px,#9613a1 118.5px,#ab2494 121.5px,#9410a2 130.5px,#9a169f 194.5px)"></i>
<i style="height:1px;background:linear-gradient(90deg,#a72197 0.5px,#a62098 32.5px,#7e03a8 71.5px,#6100a7 75.5px,#19068c 81.5px,#1b068d 90.5px,#5b01a5 95.5px,#8305a7 96.5px,#b02991 97.5px,#9a169f 98.5px,#6300a7 99.5px,#43039e 100.5px,#19068c 103.5px,#1d068e 112.5px,#5601a4 115.5px,#8104a7 117.5px,#9e199d 119.5px,#a62098 122.5px,#920fa3 131.5px,#99159f 194.5px)"></i>
<i style="height:1px;background:linear-gradient(90deg,#a62098 0.5px,#a51f99 32.5px,#7d03a8 71.5px,#6001a6 75.5px,#19068c 81.5px,#19068c 90.5px,#5901a5 95.5px,#8104a7 96.5px,#ae2892 97.5px,#99159f 98.5px,#6300a7 99.5px,#43039e 100.5px,#19068c 103.5px,#1b068d 112.5px,#6a00a8 116.5px,#8f0da4 118.5px,#a31e9a 121.5px,#910ea3 132.5px,#9814a0 194.5px)"></i>
<i style="height:1px;background:linear-gradient(90deg,#a51f99 0.5px,#a51f99 30.5px,#7b02a8 71.5px,#5e01a6 75.5px,#19068c 81.5px,#19068c 90.5px,#5901a5 95.5px,#8104a7 96.5px,#ad2793 97.5px,#99159f 98.5px,#6300a7 99.5px,#43039e 100.5px,#19068c 103.5px,#1b068d 112.5px,#6700a8 116.5px,#9814a0 119.5px,#a01a9c 122.5px,#8f0da4 133.5px,#9511a1 194.5px)"></i>
<i style="height:1px;background:linear-gradient(90deg,#a31e9a 0.5px,#a21d9a 31.5px,#7d03a8 70.5px,#5c01a6 75.5px,#19068c 81.5px,#19068c 90.5px,#5901a5 95.5px,#8004a8 96.5px,#ad2793 97.5px,#99159f 98.5px,#6300a7 99.5px,#44039e 100.5px,#19068c 103.5px,#1b068d 112.5px,#6600a7 116.5px,#9410a2 119.5px,#9d189d 122.5px,#8e0ca4 132.5px,#9410a2 194.5px)"></i>
<i style="height:1px;background:linear-gradient(90deg,#a21d9a 0.5px,#a11b9b 30.5px,#7b02a8 70.5px,#5b01a5 75.5px,#19068c 81.5px,#19068c 90.5px,#5901a5 95.5px,#8004a8 96.5px,#ad2793 97.5px,#99159f 98.5px,#6400a7 99.5px,#44039e 100.5px,#1b068d 103.5px,#1d068e 112.5px,#7701a8 117.5px,#9613a1 120.5px,#8d0ba5 138.5px,#910ea3 194.5px)"></i>
<i style="height:1px;background:linear-gradient(90deg,#a11b9b 0.5px,#a01a9c 28.5px,#7801a8 70.5px,#5901a5 75.5px,#19068c 81.5px,#1b068d 90.5px,#5b01a5 95.5px,#8004a8 96.5px,#ac2694 97.5px,#99159f 98.5px,#6400a7 99.5px,#46039f 100.5px,#1b068d 103.5px,#1d068e 112.5px,#7401a8 117.5px,#9410a2 120.5px,#8b0aa5 142.5px,#8f0da4 194.5px)"></i>
<i style="height:1px;background:linear-gradient(90deg,#a01a9c 0.5px,#9c179e 30.5px,#7701a8 70.5px,#5901a5 75.5px,#19068c 81.5px,#1b068d 90.5px,#5b01a5 95.5px,#8104a7 96.5px,#ac2694 97.5px,#9a169f 98.5px,#6600a7 99.5px,#48039f 100.5px,#1d068e 103.5px,#1b068d 111.5px,#2e0595 113.5px,#7201a8 117.5px,#8f0da4 120.5px,#8808a6 152.5px,#8d0ba5 194.5px)"></i>
<i style="height:1px;background:linear-gradient(90deg,#9e199d 0.5px,#99159f 30.5px,#7201a8 71.5px,#5801a4 75.5px,#19068c 81.5px,#1d068e 90.5px,#5c01a6 95.5px,#8104a7 96.5px,#ac2694 97.5px,#9a169f 98.5px,#6700a8 99.5px,#4903a0 100.5px,#20068f 103.5px,#19068c 106.5px,#1b068d 111.5px,#2f0596 113.5px,#7100a8 117.5px,#8d0ba5 120.5px,#8606a6 156.5px,#8a09a5 194.5px)"></i>
<i style="height:1px;background:linear-gradient(90deg,#9c179e 0.5px,#9814a0 28.5px,#7401a8 70.5px,#5801a4 75.5px,#19068c 81.5px,#1d068e 90.5px,#5c01a6 95.5px,#8305a7 96.5px,#ad2793 97.5px,#9c179e 98.5px,#6900a8 99.5px,#4b03a1 100.5px,#19068c 104.5px,#19068c 111.5px,#6f00a8 117.5px,#8a09a5 120.5px,#8104a7 170.5px,#8808a6 194.5px)"></i>
<i style="height:1px;background:linear-gradient(90deg,#9a169f 0.5px,#920fa3 31.5px,#6f00a8 71.5px,#4e02a2 76.5px,#1b068d 81.5px,#19068c 89.5px,#5e01a6 95.5px,#8305a7 96.5px,#ad2793 97.5px,#9c179e 98.5px,#6a00a8 99.5px,#4c02a1 100.5px,#1b068d 104.5px,#1b068d 111.5px,#6e00a8 117.5px,#8707a6 120.5px,#7d03a8 171.5px,#8606a6 194.5px)"></i>
<i style="height:1px;background:linear-gradient(90deg,#99159f 0.5px,#8e0ca4 32.5px,#6f00a8 71.5px,#5002a2 76.5px,#1d068e 81.5px,#19068c 89.5px,#6001a6 95.5px,#8405a7 96.5px,#ad2793 97.5px,#9d189d 98.5px,#6c00a8 99.5px,#5002a2 100.5px,#1d068e 104.5px,#1d068e 111.5px,#6e00a8 117.5px,#8405a7 120.5px,#7801a8 170.5px,#8305a7 194.5px)"></i>
<i style="height:1px;background:linear-gradient(90deg,#9613a1 0.5px,#8a09a5 33.5px,#7401a8 64.5px,#6600a7 73.5px,#19068c 82.5px,#1b068d 89.5px,#6100a7 95.5px,#8606a6 96.5px,#ae2892 97.5px,#9e199d 98.5px,#6e00a8 99.5px,#5102a3 100.5px,#20068f 104.5px,#19068c 107.5px,#19068c 110.5px,#5302a3 115.5px,#7e03a8 119.5px,#8305a7 124.5px,#7401a8 159.5px,#7d03a8 191.5px,#8004a8 194.5px)"></i>
<i style="height:1px;background:linear-gradient(90deg,#9511a1 0.5px,#8405a7 35.5px,#7201a8 63.5px,#6a00a8 72.5px,#48039f 77.5px,#1b068d 82.5px,#1d068e 89.5px,#6300a7 95.5px,#8707a6 96.5px,#b02991 97.5px,#a11b9b 98.5px,#7100a8 99.5px,#5502a4 100.5px,#240691 104.5px,#19068c 106.5px,#1b068d 110.5px,#6c00a8 117.5px,#8104a7 120.5px,#6e00a8 163.5px,#7d03a8 194.5px)"></i>
<i style="height:1px;background:linear-gradient(90deg,#9410a2 0.5px,#7b02a8 41.5px,#6f00a8 66.5px,#6a00a8 72.5px,#4903a0 77.5px,#19068c 83.5px,#1b068d 88.5px,#5601a4 94.5px,#6600a7 95.5px,#8b0aa5 96.5px,#b42e8d 97.5px,#a62098 98.5px,#7501a8 99.5px,#5801a4 100.5px,#280592 104.5px,#19068c 107.5px,#20068f 110.5px,#7501a8 118.5px,#8104a7 122.5px,#6c00a8 149.5px,#6f00a8 182.5px,#7a02a8 194.5px)"></i>
<i style="height:1px;background:linear-gradient(90deg,#910ea3 0.5px,#7401a8 45.5px,#6a00a8 72.5px,#4c02a1 77.5px,#1b068d 83.5px,#1d068e 88.5px,#5901a5 94.5px,#6900a8 95.5px,#8f0da4 96.5px,#b6308b 97.5px,#aa2395 98.5px,#7a02a8 99.5px,#5b01a5 100.5px,#240691 105.5px,#1b068d 108.5px,#350498 112.5px,#7501a8 118.5px,#8104a7 122.5px,#6e00a8 138.5px,#6600a7 172.5px,#7701a8 194.5px)"></i>
<i style="height:1px;background:linear-gradient(90deg,#8f0da4 0.5px,#6a00a8 59.5px,#6c00a8 72.5px,#4e02a2 77.5px,#20068f 83.5px,#19068c 86.5px,#3c049b 91.5px,#5b01a5 94.5px,#6e00a8 95.5px,#9410a2 96.5px,#bb3488 97.5px,#ae2892 98.5px,#7e03a8 99.5px,#6001a6 100.5px,#2f0596 104.5px,#220690 108.5px,#2f0596 111.5px,#7701a8 118.5px,#8104a7 122.5px,#6a00a8 137.5px,#6100a7 169.5px,#7401a8 194.5px)"></i>
<i style="height:1px;background:linear-gradient(90deg,#8d0ba5 0.5px,#6700a8 58.5px,#6c00a8 73.5px,#38049a 80.5px,#1d068e 85.5px,#2e0595 89.5px,#5e01a6 94.5px,#7100a8 95.5px,#9814a0 96.5px,#be3885 97.5px,#b22b8f 98.5px,#8305a7 99.5px,#6300a7 100.5px,#350498 104.5px,#260591 107.5px,#2e0595 110.5px,#7a02a8 118.5px,#8104a7 122.5px,#6c00a8 132.5px,#5b01a5 162.5px,#6f00a8 192.5px,#7201a8 194.5px)"></i>
<i style="height:1px;background:linear-gradient(90deg,#8b0aa5 0.5px,#6400a7 56.5px,#6f00a8 69.5px,#6a00a8 74.5px,#240691 84.5px,#2c0594 88.5px,#6300a7 94.5px,#7401a8 95.5px,#9c179e 96.5px,#c23c81 97.5px,#b6308b 98.5px,#8808a6 99.5px,#6700a8 100.5px,#3a049a 104.5px,#2c0594 107.5px,#330597 110.5px,#7701a8 117.5px,#8405a7 121.5px,#6a00a8 131.5px,#5801a4 161.5px,#6a00a8 191.5px,#6f00a8 194.5px)"></i>
<i style="height:1px;background:linear-gradient(90deg,#8808a6 0.5px,#6100a7 55.5px,#6c00a8 68.5px,#7201a8 73.5px,#5502a4 78.5px,#2e0595 83.5px,#2c0594 87.5px,#5b01a5 93.5px,#7801a8 95.5px,#a11b9b 96.5px,#c5407e 97.5px,#bb3488 98.5px,#8d0ba5 99.5px,#6c00a8 100.5px,#38049a 105.5px,#310597 108.5px,#4903a0 112.5px,#8305a7 118.5px,#8606a6 122.5px,#6900a8 130.5px,#5502a4 158.5px,#6100a7 185.5px,#6c00a8 194.5px)"></i>
<i style="height:1px;background:linear-gradient(90deg,#8707a6 0.5px,#5e01a6 53.5px,#6700a8 67.5px,#7801a8 72.5px,#6300a7 77.5px,#350498 83.5px,#330597 87.5px,#5601a4 92.5px,#6a00a8 94.5px,#7d03a8 95.5px,#a51f99 96.5px,#c9447a 97.5px,#bf3984 98.5px,#920fa3 99.5px,#7201a8 100.5px,#46039f 104.5px,#38049a 108.5px,#5302a3 112.5px,#8405a7 117.5px,#8b0aa5 121.5px,#6700a8 130.5px,#5102a3 155.5px,#5c01a6 182.5px,#6a00a8 194.5px)"></i>
<i style="height:1px;background:linear-gradient(90deg,#8405a7 0.5px,#5b01a5 52.5px,#6900a8 67.5px,#7b02a8 73.5px,#6a00a8 77.5px,#3e049c 83.5px,#370499 86.5px,#5302a3 91.5px,#6e00a8 94.5px,#8104a7 95.5px,#aa2395 96.5px,#cc4778 97.5px,#c33d80 98.5px,#9814a0 99.5px,#7701a8 100.5px,#5502a4 103.5px,#41049d 107.5px,#5302a3 111.5px,#8606a6 116.5px,#910ea3 120.5px,#6600a7 130.5px,#4e02a2 153.5px,#5801a4 180.5px,#6700a8 194.5px)"></i>
<i style="height:1px;background:linear-gradient(90deg,#8305a7 0.5px,#5801a4 49.5px,#6400a7 66.5px,#7e03a8 73.5px,#6c00a8 78.5px,#43039e 84.5px,#4b03a1 89.5px,#7401a8 94.5px,#8606a6 95.5px,#d04d73 97.5px,#c7427c 98.5px,#9d189d 99.5px,#7d03a8 100.5px,#5c01a6 103.5px,#4b03a1 107.5px,#5e01a6 111.5px,#8707a6 115.5px,#9814a0 118.5px,#8b0aa5 123.5px,#6300a7 130.5px,#4b03a1 153.5px,#5502a4 179.5px,#6600a7 194.5px)"></i>
<i style="height:1px;background:linear-gradient(90deg,#8004a8 0.5px,#5502a4 47.5px,#6100a7 65.5px,#8004a8 72.5px,#7b02a8 77.5px,#4e02a2 84.5px,#5102a3 88.5px,#7801a8 94.5px,#8b0aa5 95.5px,#d35171 97.5px,#cb4679 98.5px,#a21d9a 99.5px,#8305a7 100.5px,#6001a6 104.5px,#5901a5 108.5px,#8104a7 113.5px,#9d189d 117.5px,#9814a0 121.5px,#7201a8 127.5px,#5e01a6 132.5px,#48039f 154.5px,#5601a4 182.5px,#6300a7 194.5px)"></i>
<i style="height:1px;background:linear-gradient(90deg,#7d03a8 0.5px,#5102a3 46.5px,#5e01a6 64.5px,#8707a6 74.5px,#7801a8 79.5px,#5901a5 85.5px,#6100a7 89.5px,#7e03a8 94.5px,#910ea3 95.5px,#d7566c 97.5px,#cf4c74 98.5px,#a82296 99.5px,#8a09a5 100.5px,#7100a8 103.5px,#6600a7 107.5px,#7d03a8 111.5px,#a01a9c 115.5px,#a31e9a 119.5px,#7801a8 126.5px,#5e01a6 131.5px,#46039f 151.5px,#5002a2 177.5px,#6100a7 194.5px)"></i>
<i style="height:1px;background:linear-gradient(90deg,#7b02a8 0.5px,#5002a2 43.5px,#5801a4 61.5px,#6a00a8 67.5px,#8a09a5 75.5px,#8305a7 79.5px,#6700a8 85.5px,#8004a8 93.5px,#8606a6 94.5px,#9613a1 95.5px,#da5b69 97.5px,#d35171 98.5px,#ae2892 99.5px,#910ea3 100.5px,#8104a7 102.5px,#7701a8 107.5px,#8f0da4 111.5px,#ab2494 115.5px,#a72197 119.5px,#7801a8 126.5px,#5901a5 132.5px,#44039e 151.5px,#4c02a1 176.5px,#6001a6 194.5px)"></i>
<i style="height:1px;background:linear-gradient(90deg,#7801a8 0.5px,#4c02a1 42.5px,#5502a4 60.5px,#6400a7 66.5px,#8e0ca4 76.5px,#7d03a8 83.5px,#7d03a8 88.5px,#8d0ba5 94.5px,#9e199d 95.5px,#de5f65 97.5px,#d8576b 98.5px,#b52f8c 99.5px,#9814a0 100.5px,#8d0ba5 103.5px,#8d0ba5 108.5px,#b52f8c 115.5px,#aa2395 119.5px,#7d03a8 125.5px,#5801a4 132.5px,#41049d 152.5px,#5002a2 180.5px,#5e01a6 194.5px)"></i>
<i style="height:1px;background:linear-gradient(90deg,#7701a8 0.5px,#4b03a1 40.5px,#5002a2 58.5px,#6300a7 66.5px,#8e0ca4 75.5px,#8e0ca4 82.5px,#8b0aa5 87.5px,#9511a1 92.5px,#9613a1 94.5px,#a51f99 95.5px,#e26561 97.5px,#db5c68 98.5px,#bc3587 99.5px,#a11b9b 100.5px,#9a169f 102.5px,#a51f99 109.5px,#bc3587 114.5px,#b7318a 117.5px,#8305a7 124.5px,#5601a4 132.5px,#3f049c 152.5px,#4e02a2 180.5px,#5c01a6 194.5px)"></i>
<i style="height:1px;background:linear-gradient(90deg,#7401a8 0.5px,#48039f 41.5px,#5002a2 59.5px,#6f00a8 69.5px,#9814a0 78.5px,#9c179e 87.5px,#a72197 91.5px,#a01a9c 94.5px,#ad2793 95.5px,#e56a5d 97.5px,#de6164 98.5px,#aa2395 100.5px,#ab2494 103.5px,#be3885 111.5px,#c23c81 115.5px,#99159f 121.5px,#7801a8 125.5px,#5302a3 133.5px,#3e049c 152.5px,#4e02a2 181.5px,#5b01a5 194.5px)"></i>
<i style="height:1px;background:linear-gradient(90deg,#7201a8 0.5px,#48039f 37.5px,#4903a0 55.5px,#6100a7 66.5px,#8b0aa5 75.5px,#a11b9b 82.5px,#b32c8e 89.5px,#b7318a 90.5px,#aa2395 94.5px,#b52f8c 95.5px,#e76f5a 97.5px,#e26561 98.5px,#c6417d 99.5px,#b32c8e 100.5px,#b83289 103.5px,#c33d80 106.5px,#c8437b 114.5px,#a72197 119.5px,#7b02a8 124.5px,#5502a4 132.5px,#3e049c 150.5px,#4903a0 177.5px,#5901a5 194.5px)"></i>
<i style="height:1px;background:linear-gradient(90deg,#6f00a8 0.5px,#44039e 38.5px,#4903a0 56.5px,#6600a7 68.5px,#8e0ca4 76.5px,#c33d80 90.5px,#b22b8f 94.5px,#bd3786 95.5px,#eb7655 97.5px,#e66c5c 98.5px,#ca457a 99.5px,#bb3488 100.5px,#bf3984 102.5px,#d14e72 106.5px,#ca457a 114.5px,#8707a6 122.5px,#5e01a6 129.5px,#41049d 143.5px,#3f049c 165.5px,#5801a4 194.5px)"></i>
<i style="height:1px;background:linear-gradient(90deg,#6e00a8 0.5px,#44039e 36.5px,#46039f 54.5px,#6400a7 68.5px,#8d0ba5 76.5px,#c33d80 87.5px,#cd4a76 89.5px,#b83289 94.5px,#bb3488 95.5px,#ed7953 97.5px,#e76f5a 98.5px,#cc4977 99.5px,#bd3786 100.5px,#dd5e66 106.5px,#c9447a 114.5px,#8b0aa5 121.5px,#6400a7 127.5px,#46039f 139.5px,#3c049b 158.5px,#5601a4 194.5px)"></i>
<i style="height:1px;background:linear-gradient(90deg,#6c00a8 0.5px,#43039e 36.5px,#44039e 54.5px,#6700a8 69.5px,#8a09a5 76.5px,#c6417d 86.5px,#d5536f 89.5px,#c9447a 92.5px,#b7318a 94.5px,#b83289 95.5px,#eb7556 97.5px,#e66c5c 98.5px,#cc4778 99.5px,#bc3587 100.5px,#c03a83 101.5px,#e26561 105.5px,#e76e5b 106.5px,#c13b82 115.5px,#8707a6 121.5px,#5e01a6 128.5px,#3f049c 144.5px,#41049d 169.5px,#5502a4 194.5px)"></i>
<i style="height:1px;background:linear-gradient(90deg,#6900a8 0.5px,#41049d 37.5px,#46039f 55.5px,#6900a8 70.5px,#8808a6 76.5px,#be3885 84.5px,#dd5e66 88.5px,#db5c68 90.5px,#ce4b75 92.5px,#b42e8d 94.5px,#b7318a 95.5px,#e97158 97.5px,#e4695e 98.5px,#ca457a 99.5px,#b83289 100.5px,#bd3786 101.5px,#da5b69 103.5px,#ed7953 106.5px,#e97158 108.5px,#b52f8c 116.5px,#8405a7 121.5px,#6100a7 127.5px,#41049d 142.5px,#3f049c 167.5px,#5302a3 194.5px)"></i>
<i style="height:1px;background:linear-gradient(90deg,#6700a8 0.5px,#41049d 35.5px,#44039e 54.5px,#6700a8 70.5px,#8808a6 76.5px,#c33d80 84.5px,#e56b5d 88.5px,#e26660 90.5px,#cf4c74 92.5px,#bb3488 93.5px,#ad2793 94.5px,#b22b8f 95.5px,#e4695e 97.5px,#de6164 98.5px,#c5407e 99.5px,#b42e8d 100.5px,#b7318a 101.5px,#e97257 104.5px,#f48849 106.5px,#f48948 107.5px,#c5407e 114.5px,#8a09a5 120.5px,#6400a7 126.5px,#43039e 141.5px,#3e049c 164.5px,#5102a3 194.5px)"></i>
<i style="height:1px;background:linear-gradient(90deg,#6600a7 0.5px,#41049d 35.5px,#44039e 54.5px,#6400a7 69.5px,#8808a6 76.5px,#c03a83 83.5px,#ed7a52 88.5px,#de6164 91.5px,#ba3388 93.5px,#a72197 94.5px,#ab2494 95.5px,#dd5e66 97.5px,#d7566c 98.5px,#bd3786 99.5px,#ae2892 100.5px,#b22b8f 101.5px,#ed7953 104.5px,#f89540 106.5px,#f9973f 107.5px,#d5546e 112.5px,#920fa3 119.5px,#7201a8 123.5px,#5502a4 131.5px,#3c049b 151.5px,#5102a3 194.5px)"></i>
<i style="height:1px;background:linear-gradient(90deg,#6400a7 0.5px,#41049d 35.5px,#46039f 55.5px,#6400a7 69.5px,#8b0aa5 76.5px,#c6417d 83.5px,#f1834c 88.5px,#f1814d 89.5px,#eb7556 90.5px,#b42e8d 93.5px,#a21d9a 94.5px,#a01a9c 95.5px,#d14e72 97.5px,#cc4778 98.5px,#b12a90 99.5px,#a31e9a 100.5px,#c43e7f 102.5px,#f68f44 105.5px,#fba238 106.5px,#fba139 107.5px,#d04d73 113.5px,#920fa3 119.5px,#7201a8 123.5px,#5601a4 131.5px,#3e049c 150.5px,#48039f 180.5px,#5002a2 194.5px)"></i>
<i style="height:1px;background:linear-gradient(90deg,#6300a7 0.5px,#41049d 35.5px,#46039f 55.5px,#6100a7 68.5px,#8707a6 75.5px,#b32c8e 80.5px,#df6263 85.5px,#f3874a 88.5px,#f3854b 89.5px,#d6556d 91.5px,#ab2494 93.5px,#99159f 94.5px,#9511a1 95.5px,#c5407e 97.5px,#bf3984 98.5px,#a31e9a 99.5px,#9a169f 100.5px,#bb3488 102.5px,#f58c46 105.5px,#fca636 106.5px,#fa9b3d 108.5px,#cb4679 114.5px,#9410a2 119.5px,#7201a8 123.5px,#5002a2 134.5px,#3e049c 156.5px,#4e02a2 194.5px)"></i>
<i style="height:1px;background:linear-gradient(90deg,#6100a7 0.5px,#43039e 34.5px,#48039f 56.5px,#6600a7 69.5px,#8a09a5 75.5px,#c03a83 81.5px,#f0804e 87.5px,#f3854b 88.5px,#ee7b51 89.5px,#cc4977 91.5px,#a01a9c 93.5px,#8d0ba5 94.5px,#8707a6 95.5px,#99159f 96.5px,#b52f8c 97.5px,#ae2892 98.5px,#920fa3 99.5px,#910ea3 100.5px,#b12a90 102.5px,#f1814d 105.5px,#f9983e 106.5px,#fca338 107.5px,#f79342 109.5px,#c43e7f 115.5px,#8d0ba5 120.5px,#6900a8 125.5px,#4b03a1 138.5px,#3e049c 160.5px,#4e02a2 194.5px)"></i>
<i style="height:1px;background:linear-gradient(90deg,#5e01a6 0.5px,#43039e 38.5px,#4b03a1 58.5px,#6400a7 68.5px,#8d0ba5 75.5px,#c43e7f 81.5px,#f07f4f 87.5px,#e56b5d 89.5px,#a72197 92.5px,#8004a8 94.5px,#7a02a8 95.5px,#8a09a5 96.5px,#a72197 97.5px,#a01a9c 98.5px,#8405a7 99.5px,#8305a7 100.5px,#a72197 102.5px,#d45270 104.5px,#e97257 105.5px,#f89540 107.5px,#fa9c3c 108.5px,#ed7a52 111.5px,#a51f99 118.5px,#7d03a8 122.5px,#5c01a6 129.5px,#43039e 149.5px,#44039e 177.5px,#4c02a1 194.5px)"></i>
<i style="height:1px;background:linear-gradient(90deg,#5e01a6 0.5px,#44039e 36.5px,#4b03a1 57.5px,#6100a7 67.5px,#8808a6 74.5px,#bd3786 80.5px,#eb7655 86.5px,#eb7556 87.5px,#c9447a 90.5px,#9814a0 92.5px,#8305a7 93.5px,#7201a8 94.5px,#6c00a8 95.5px,#7a02a8 96.5px,#9613a1 97.5px,#8e0ca4 98.5px,#7501a8 99.5px,#7401a8 100.5px,#8104a7 101.5px,#ae2892 103.5px,#dc5d67 105.5px,#f2844b 107.5px,#f79143 109.5px,#de5f65 113.5px,#9d189d 119.5px,#7a02a8 123.5px,#5b01a5 130.5px,#43039e 152.5px,#46039f 181.5px,#4c02a1 194.5px)"></i>
<i style="height:1px;background:linear-gradient(90deg,#5c01a6 0.5px,#44039e 38.5px,#4e02a2 59.5px,#6300a7 67.5px,#8b0aa5 74.5px,#be3885 80.5px,#e56a5d 85.5px,#e16462 87.5px,#b6308b 90.5px,#8707a6 92.5px,#6600a7 94.5px,#6001a6 95.5px,#6f00a8 96.5px,#8a09a5 97.5px,#8305a7 98.5px,#6a00a8 99.5px,#6700a8 100.5px,#8707a6 102.5px,#9d189d 103.5px,#cc4778 105.5px,#f07f4f 108.5px,#f1834c 110.5px,#d35171 114.5px,#9511a1 120.5px,#7501a8 124.5px,#5801a4 132.5px,#41049d 160.5px,#4b03a1 194.5px)"></i>
<i style="height:1px;background:linear-gradient(90deg,#5b01a5 0.5px,#46039f 39.5px,#5102a3 61.5px,#6700a8 68.5px,#8d0ba5 74.5px,#c33d80 81.5px,#de6164 85.5px,#d5536f 87.5px,#a31e9a 90.5px,#7701a8 92.5px,#5b01a5 94.5px,#5601a4 95.5px,#6600a7 96.5px,#8104a7 97.5px,#7a02a8 98.5px,#6001a6 99.5px,#5c01a6 100.5px,#7701a8 102.5px,#8b0aa5 103.5px,#cc4977 106.5px,#e56b5d 108.5px,#eb7655 110.5px,#db5c68 113.5px,#a01a9c 119.5px,#7e03a8 123.5px,#5901a5 131.5px,#41049d 163.5px,#4b03a1 194.5px)"></i>
<i style="height:1px;background:linear-gradient(90deg,#5901a5 0.5px,#48039f 40.5px,#5502a4 63.5px,#7a02a8 71.5px,#a11b9b 77.5px,#d5536f 84.5px,#d04d73 86.5px,#b83289 88.5px,#8f0da4 90.5px,#6700a8 92.5px,#5002a2 94.5px,#4c02a1 95.5px,#5e01a6 96.5px,#7a02a8 97.5px,#7100a8 98.5px,#5801a4 99.5px,#5102a3 100.5px,#6700a8 102.5px,#8f0da4 104.5px,#cc4778 107.5px,#e06363 109.5px,#e26660 111.5px,#9814a0 120.5px,#7a02a8 124.5px,#5901a5 131.5px,#41049d 167.5px,#4b03a1 194.5px)"></i>
<i style="height:1px;background:linear-gradient(90deg,#5801a4 0.5px,#4903a0 41.5px,#5801a4 64.5px,#8405a7 73.5px,#b02991 80.5px,#cb4679 84.5px,#c33d80 86.5px,#920fa3 89.5px,#7d03a8 90.5px,#4e02a2 93.5px,#46039f 95.5px,#5601a4 96.5px,#7201a8 97.5px,#6900a8 98.5px,#5002a2 99.5px,#4903a0 100.5px,#6a00a8 103.5px,#910ea3 105.5px,#ca457a 108.5px,#d9586a 110.5px,#ce4b75 113.5px,#9613a1 120.5px,#7401a8 125.5px,#5901a5 132.5px,#43039e 167.5px,#4903a0 194.5px)"></i>
<i style="height:1px;background:linear-gradient(90deg,#5601a4 0.5px,#4b03a1 46.5px,#5901a5 65.5px,#8707a6 74.5px,#b12a90 81.5px,#c03a83 84.5px,#b6308b 86.5px,#8305a7 89.5px,#5002a2 92.5px,#3f049c 94.5px,#3f049c 95.5px,#5002a2 96.5px,#6c00a8 97.5px,#6300a7 98.5px,#4903a0 99.5px,#43039e 100.5px,#5c01a6 103.5px,#8004a8 105.5px,#bb3488 108.5px,#cd4a76 110.5px,#c5407e 113.5px,#920fa3 120.5px,#6e00a8 126.5px,#5b01a5 132.5px,#43039e 168.5px,#4903a0 194.5px)"></i>
<i style="height:1px;background:linear-gradient(90deg,#5502a4 0.5px,#4c02a1 47.5px,#5c01a6 66.5px,#8b0aa5 76.5px,#b52f8c 84.5px,#aa2395 86.5px,#7401a8 89.5px,#48039f 92.5px,#3a049a 95.5px,#4b03a1 96.5px,#6600a7 97.5px,#5c01a6 98.5px,#43039e 99.5px,#3c049b 100.5px,#5102a3 103.5px,#8405a7 106.5px,#b83289 109.5px,#c33d80 111.5px,#8e0ca4 120.5px,#6400a7 128.5px,#5901a5 135.5px,#43039e 171.5px,#48039f 194.5px)"></i>
<i style="height:1px;background:linear-gradient(90deg,#5502a4 0.5px,#4e02a2 46.5px,#6001a6 67.5px,#8d0ba5 78.5px,#ac2694 84.5px,#9d189d 86.5px,#7b02a8 88.5px,#4903a0 91.5px,#350498 94.5px,#350498 95.5px,#6001a6 97.5px,#5801a4 98.5px,#3e049c 99.5px,#370499 100.5px,#5502a4 104.5px,#7501a8 106.5px,#ac2694 109.5px,#b83289 111.5px,#9e199d 116.5px,#7b02a8 123.5px,#5e01a6 130.5px,#43039e 171.5px,#48039f 194.5px)"></i>
<i style="height:1px;background:linear-gradient(90deg,#5302a3 0.5px,#5302a3 55.5px,#6001a6 67.5px,#8a09a5 79.5px,#a31e9a 83.5px,#9e199d 85.5px,#7100a8 88.5px,#43039e 91.5px,#2f0596 94.5px,#310597 95.5px,#41049d 96.5px,#5b01a5 97.5px,#5302a3 98.5px,#3a049a 99.5px,#310597 100.5px,#4c02a1 104.5px,#7d03a8 107.5px,#aa2395 110.5px,#aa2395 113.5px,#8305a7 120.5px,#5e01a6 130.5px,#41049d 175.5px,#48039f 194.5px)"></i>
<i style="height:1px;background:linear-gradient(90deg,#5102a3 0.5px,#5302a3 52.5px,#6300a7 68.5px,#8808a6 80.5px,#9a169f 84.5px,#8a09a5 86.5px,#5801a4 89.5px,#350498 92.5px,#2e0595 95.5px,#5601a4 97.5px,#4e02a2 98.5px,#350498 99.5px,#2e0595 100.5px,#46039f 104.5px,#8606a6 108.5px,#a01a9c 110.5px,#a51f99 112.5px,#8305a7 118.5px,#5e01a6 129.5px,#41049d 176.5px,#48039f 194.5px)"></i>
<i style="height:1px;background:linear-gradient(90deg,#5102a3 0.5px,#5302a3 48.5px,#6400a7 69.5px,#7d03a8 79.5px,#9410a2 83.5px,#8d0ba5 85.5px,#6001a6 88.5px,#310597 92.5px,#2a0593 95.5px,#5302a3 97.5px,#4b03a1 98.5px,#310597 99.5px,#2e0595 101.5px,#4c02a1 105.5px,#7b02a8 108.5px,#9613a1 110.5px,#99159f 113.5px,#7b02a8 118.5px,#5e01a6 130.5px,#41049d 176.5px,#46039f 194.5px)"></i>
<i style="height:1px;background:linear-gradient(90deg,#5002a2 0.5px,#5502a4 49.5px,#6400a7 69.5px,#7801a8 79.5px,#8e0ca4 83.5px,#7801a8 86.5px,#350498 91.5px,#260591 95.5px,#5002a2 97.5px,#48039f 98.5px,#2f0596 99.5px,#2a0593 101.5px,#48039f 105.5px,#8104a7 109.5px,#9410a2 111.5px,#8b0aa5 114.5px,#7401a8 119.5px,#5e01a6 130.5px,#3f049c 179.5px,#46039f 194.5px)"></i>
<i style="height:1px;background:linear-gradient(90deg,#5002a2 0.5px,#5302a3 42.5px,#6600a7 70.5px,#7501a8 79.5px,#8808a6 83.5px,#7201a8 86.5px,#3a049a 90.5px,#240691 94.5px,#240691 95.5px,#4b03a1 97.5px,#44039e 98.5px,#2c0594 99.5px,#280592 101.5px,#43039e 105.5px,#7a02a8 109.5px,#8d0ba5 111.5px,#8707a6 114.5px,#6f00a8 119.5px,#6001a6 130.5px,#3f049c 178.5px,#46039f 194.5px)"></i>
<i style="height:1px;background:linear-gradient(90deg,#4e02a2 0.5px,#5502a4 43.5px,#6c00a8 77.5px,#8405a7 83.5px,#6c00a8 86.5px,#370499 90.5px,#220690 94.5px,#220690 95.5px,#48039f 97.5px,#41049d 98.5px,#2a0593 99.5px,#260591 101.5px,#3f049c 105.5px,#8004a8 110.5px,#8a09a5 112.5px,#6900a8 120.5px,#5e01a6 135.5px,#3f049c 176.5px,#44039e 194.5px)"></i>
<i style="height:1px;background:linear-gradient(90deg,#4e02a2 0.5px,#5302a3 38.5px,#6a00a8 77.5px,#8004a8 83.5px,#6600a7 86.5px,#2c0594 91.5px,#20068f 95.5px,#44039e 97.5px,#3e049c 98.5px,#280592 99.5px,#20068f 100.5px,#3c049b 105.5px,#7a02a8 110.5px,#8606a6 112.5px,#6600a7 120.5px,#48039f 160.5px,#3f049c 187.5px,#44039e 194.5px)"></i>
<i style="height:1px;background:linear-gradient(90deg,#4c02a1 0.5px,#5302a3 37.5px,#6a00a8 77.5px,#7d03a8 83.5px,#6300a7 86.5px,#2a0593 91.5px,#1d068e 95.5px,#43039e 97.5px,#3c049b 98.5px,#260591 99.5px,#220690 101.5px,#3a049a 105.5px,#7e03a8 111.5px,#7e03a8 114.5px,#6400a7 120.5px,#4e02a2 154.5px,#3e049c 182.5px,#44039e 194.5px)"></i>
<i style="height:1px;background:linear-gradient(90deg,#4c02a1 0.5px,#5102a3 33.5px,#6a00a8 77.5px,#7b02a8 82.5px,#6a00a8 85.5px,#280592 91.5px,#1b068d 95.5px,#3f049c 97.5px,#38049a 98.5px,#220690 99.5px,#20068f 101.5px,#41049d 106.5px,#7a02a8 111.5px,#7b02a8 114.5px,#6100a7 121.5px,#5302a3 149.5px,#3e049c 179.5px,#44039e 194.5px)"></i>
<i style="height:1px;background:linear-gradient(90deg,#4b03a1 0.5px,#5502a4 39.5px,#6e00a8 78.5px,#7a02a8 82.5px,#6700a8 85.5px,#2e0595 90.5px,#19068c 95.5px,#3c049b 97.5px,#370499 98.5px,#220690 99.5px,#1d068e 101.5px,#3f049c 106.5px,#7701a8 111.5px,#7a02a8 114.5px,#6100a7 121.5px,#5002a2 152.5px,#3e049c 179.5px,#43039e 194.5px)"></i>
<i style="height:1px;background:linear-gradient(90deg,#4b03a1 0.5px,#5102a3 33.5px,#6e00a8 78.5px,#7701a8 82.5px,#6300a7 85.5px,#2c0594 90.5px,#19068c 94.5px,#19068c 95.5px,#3a049a 97.5px,#330597 98.5px,#20068f 99.5px,#1b068d 101.5px,#3e049c 106.5px,#7401a8 111.5px,#7801a8 114.5px,#6001a6 122.5px,#5302a3 149.5px,#3c049b 180.5px,#43039e 194.5px)"></i>
<i style="height:1px;background:linear-gradient(90deg,#4903a0 0.5px,#5302a3 36.5px,#6f00a8 78.5px,#7501a8 82.5px,#6100a7 85.5px,#2a0593 90.5px,#16078a 94.5px,#16078a 95.5px,#38049a 97.5px,#310597 98.5px,#1d068e 99.5px,#1b068d 101.5px,#3c049b 106.5px,#6f00a8 111.5px,#7701a8 114.5px,#6001a6 122.5px,#5102a3 150.5px,#3c049b 180.5px,#43039e 194.5px)"></i>
<i style="height:1px;background:linear-gradient(90deg,#4903a0 0.5px,#5102a3 33.5px,#6900a8 71.5px,#7401a8 82.5px,#5102a3 86.5px,#220690 91.5px,#16078a 95.5px,#370499 97.5px,#2f0596 98.5px,#1d068e 99.5px,#19068c 101.5px,#44039e 107.5px,#7201a8 112.5px,#6f00a8 116.5px,#6001a6 123.5px,#4e02a2 153.5px,#3c049b 180.5px,#43039e 194.5px)"></i>
<i style="height:1px;background:linear-gradient(90deg,#4903a0 0.5px,#5002a2 31.5px,#6a00a8 71.5px,#7201a8 82.5px,#3a049a 88.5px,#16078a 93.5px,#16078a 95.5px,#350498 97.5px,#2f0596 98.5px,#1b068d 99.5px,#19068c 101.5px,#38049a 106.5px,#7100a8 112.5px,#6f00a8 116.5px,#6001a6 123.5px,#4c02a1 154.5px,#3c049b 182.5px,#43039e 194.5px)"></i>
<i style="height:1px;background:linear-gradient(90deg,#48039f 0.5px,#5002a2 32.5px,#6c00a8 70.5px,#6f00a8 82.5px,#4e02a2 86.5px,#20068f 91.5px,#16078a 95.5px,#330597 97.5px,#2e0595 98.5px,#1b068d 99.5px,#16078a 101.5px,#41049d 107.5px,#6e00a8 112.5px,#6e00a8 116.5px,#5e01a6 126.5px,#43039e 164.5px,#3e049c 190.5px,#41049d 194.5px)"></i>
<i style="height:1px;background:linear-gradient(90deg,#48039f 0.5px,#4e02a2 30.5px,#6e00a8 68.5px,#6e00a8 82.5px,#19068c 92.5px,#16078a 95.5px,#330597 97.5px,#2e0595 98.5px,#1b068d 99.5px,#16078a 101.5px,#3f049c 107.5px,#6c00a8 112.5px,#6e00a8 116.5px,#6001a6 125.5px,#3c049b 179.5px,#41049d 194.5px)"></i>
<i style="height:1px;background:linear-gradient(90deg,#48039f 0.5px,#4c02a1 28.5px,#6e00a8 65.5px,#6c00a8 82.5px,#1d068e 91.5px,#16078a 95.5px,#330597 97.5px,#2e0595 98.5px,#1b068d 99.5px,#19068c 102.5px,#6e00a8 113.5px,#5e01a6 129.5px,#3a049a 181.5px,#41049d 194.5px)"></i>
<i style="height:1px;background:linear-gradient(90deg,#46039f 0.5px,#4e02a2 30.5px,#6e00a8 62.5px,#6e00a8 81.5px,#48039f 86.5px,#19068c 92.5px,#16078a 95.5px,#330597 97.5px,#2e0595 98.5px,#1b068d 99.5px,#19068c 102.5px,#5002a2 109.5px,#6a00a8 113.5px,#6700a8 118.5px,#3c049b 178.5px,#41049d 194.5px)"></i>
<i style="height:1px;background:linear-gradient(90deg,#46039f 0.5px,#4e02a2 31.5px,#6c00a8 57.5px,#6c00a8 81.5px,#46039f 86.5px,#16078a 92.5px,#16078a 95.5px,#330597 97.5px,#2e0595 98.5px,#1b068d 99.5px,#19068c 102.5px,#6900a8 113.5px,#3c049b 178.5px,#3f049c 194.5px)"></i>
<i style="height:1px;background:linear-gradient(90deg,#44039e 0.5px,#4e02a2 31.5px,#6c00a8 54.5px,#6f00a8 79.5px,#5801a4 84.5px,#1b068d 91.5px,#16078a 95.5px,#330597 97.5px,#2e0595 98.5px,#1b068d 99.5px,#19068c 102.5px,#4c02a1 109.5px,#6600a7 113.5px,#5601a4 139.5px,#3c049b 179.5px,#3f049c 194.5px)"></i>
<i style="height:1px;background:linear-gradient(90deg,#44039e 0.5px,#4e02a2 31.5px,#6c00a8 51.5px,#7100a8 77.5px,#6400a7 82.5px,#1b068d 91.5px,#16078a 95.5px,#330597 97.5px,#2e0595 98.5px,#1b068d 99.5px,#16078a 102.5px,#6400a7 113.5px,#5e01a6 128.5px,#3c049b 178.5px,#3f049c 194.5px)"></i>
<i style="height:1px;background:linear-gradient(90deg,#44039e 0.5px,#4c02a1 30.5px,#6f00a8 52.5px,#7201a8 76.5px,#6700a8 81.5px,#38049a 87.5px,#16078a 92.5px,#16078a 95.5px,#330597 97.5px,#2e0595 98.5px,#1b068d 99.5px,#16078a 102.5px,#6100a7 113.5px,#6100a7 124.5px,#3c049b 177.5px,#3f049c 194.5px)"></i>
<i style="height:1px;background:linear-gradient(90deg,#44039e 0.5px,#4b03a1 28.5px,#7100a8 52.5px,#7401a8 75.5px,#6100a7 82.5px,#1b068d 91.5px,#16078a 95.5px,#330597 97.5px,#2e0595 98.5px,#1b068d 99.5px,#16078a 102.5px,#6001a6 113.5px,#6300a7 122.5px,#3e049c 172.5px,#3f049c 194.5px)"></i>
<i style="height:1px;background:linear-gradient(90deg,#43039e 0.5px,#4c02a1 31.5px,#7100a8 48.5px,#7501a8 74.5px,#6400a7 81.5px,#1b068d 91.5px,#16078a 95.5px,#330597 97.5px,#2e0595 98.5px,#1b068d 99.5px,#16078a 102.5px,#5e01a6 113.5px,#6300a7 122.5px,#3f049c 168.5px,#3e049c 194.5px)"></i>
<i style="height:1px;background:linear-gradient(90deg,#43039e 0.5px,#4c02a1 31.5px,#7201a8 48.5px,#7801a8 69.5px,#6c00a8 79.5px,#3e049c 86.5px,#16078a 92.5px,#16078a 95.5px,#330597 97.5px,#2e0595 98.5px,#1b068d 99.5px,#16078a 102.5px,#5b01a5 113.5px,#6300a7 121.5px,#3f049c 167.5px,#3e049c 194.5px)"></i>
<i style="height:1px;background:linear-gradient(90deg,#43039e 0.5px,#4b03a1 30.5px,#7701a8 49.5px,#7a02a8 71.5px,#6700a8 80.5px,#16078a 92.5px,#16078a 95.5px,#330597 97.5px,#2e0595 98.5px,#1b068d 99.5px,#16078a 102.5px,#5b01a5 113.5px,#6300a7 121.5px,#41049d 163.5px,#3e049c 194.5px)"></i>
<i style="height:1px;background:linear-gradient(90deg,#43039e 0.5px,#4b03a1 30.5px,#7801a8 48.5px,#7e03a8 66.5px,#6e00a8 79.5px,#3f049c 86.5px,#16078a 92.5px,#16078a 95.5px,#330597 97.5px,#2e0595 98.5px,#1b068d 99.5px,#16078a 102.5px,#5c01a6 113.5px,#6400a7 121.5px,#44039e 155.5px,#3e049c 194.5px)"></i>
<i style="height:1px;background:linear-gradient(90deg,#43039e 0.5px,#4903a0 29.5px,#5c01a6 36.5px,#7d03a8 50.5px,#8004a8 66.5px,#6f00a8 79.5px,#3f049c 86.5px,#16078a 92.5px,#16078a 95.5px,#330597 97.5px,#2e0595 98.5px,#1b068d 99.5px,#19068c 102.5px,#5c01a6 113.5px,#6400a7 121.5px,#44039e 153.5px,#3c049b 194.5px)"></i>
<i style="height:1px;background:linear-gradient(90deg,#41049d 0.5px,#4c02a1 33.5px,#7201a8 43.5px,#8606a6 58.5px,#7701a8 77.5px,#5901a5 83.5px,#16078a 92.5px,#16078a 95.5px,#330597 97.5px,#2e0595 98.5px,#1b068d 99.5px,#19068c 102.5px,#5e01a6 113.5px,#6400a7 121.5px,#44039e 152.5px,#3c049b 194.5px)"></i>
<i style="height:1px;background:linear-gradient(90deg,#41049d 0.5px,#4b03a1 33.5px,#5801a4 37.5px,#7401a8 43.5px,#8808a6 57.5px,#7b02a8 76.5px,#5b01a5 83.5px,#19068c 92.5px,#16078a 95.5px,#330597 97.5px,#2e0595 98.5px,#1b068d 99.5px,#19068c 102.5px,#6001a6 113.5px,#6400a7 122.5px,#46039f 148.5px,#3c049b 194.5px)"></i>
<i style="height:1px;background:linear-gradient(90deg,#41049d 0.5px,#4903a0 32.5px,#5502a4 38.5px,#7100a8 42.5px,#8b0aa5 55.5px,#8004a8 75.5px,#6a00a8 81.5px,#19068c 92.5px,#16078a 95.5px,#330597 97.5px,#2e0595 98.5px,#1b068d 99.5px,#16078a 101.5px,#6001a6 113.5px,#6600a7 121.5px,#44039e 149.5px,#3c049b 194.5px)"></i>
<i style="height:1px;background:linear-gradient(90deg,#41049d 0.5px,#4903a0 33.5px,#5102a3 39.5px,#7701a8 44.5px,#8e0ca4 56.5px,#8305a7 75.5px,#6600a7 82.5px,#20068f 91.5px,#16078a 95.5px,#330597 97.5px,#2e0595 98.5px,#1b068d 99.5px,#19068c 101.5px,#6100a7 113.5px,#6600a7 121.5px,#4903a0 143.5px,#3a049a 194.5px)"></i>
<i style="height:1px;background:linear-gradient(90deg,#41049d 0.5px,#4903a0 34.5px,#5502a4 41.5px,#7a02a8 45.5px,#910ea3 56.5px,#8707a6 74.5px,#6f00a8 81.5px,#1b068d 92.5px,#16078a 95.5px,#330597 97.5px,#2e0595 98.5px,#1b068d 99.5px,#19068c 101.5px,#6300a7 113.5px,#6700a8 120.5px,#4b03a1 141.5px,#4b03a1 145.5px,#41049d 154.5px,#3a049a 194.5px)"></i>
<i style="height:1px;background:linear-gradient(90deg,#41049d 0.5px,#48039f 33.5px,#5102a3 42.5px,#6f00a8 45.5px,#8004a8 47.5px,#9410a2 57.5px,#8d0ba5 73.5px,#7801a8 80.5px,#38049a 88.5px,#19068c 93.5px,#16078a 95.5px,#330597 97.5px,#2e0595 98.5px,#1b068d 99.5px,#16078a 100.5px,#41049d 107.5px,#6400a7 113.5px,#6400a7 122.5px,#4c02a1 138.5px,#5302a3 143.5px,#43039e 148.5px,#3a049a 194.5px)"></i>
<i style="height:1px;background:linear-gradient(90deg,#41049d 0.5px,#48039f 35.5px,#5302a3 44.5px,#6600a7 46.5px,#8104a7 48.5px,#9613a1 57.5px,#910ea3 73.5px,#7b02a8 80.5px,#3a049a 88.5px,#1b068d 93.5px,#16078a 95.5px,#330597 97.5px,#2e0595 98.5px,#1b068d 99.5px,#20068f 102.5px,#6300a7 112.5px,#6900a8 118.5px,#5002a2 136.5px,#5c01a6 141.5px,#41049d 149.5px,#38049a 194.5px)"></i>
<i style="height:1px;background:linear-gradient(90deg,#43039e 0.5px,#44039e 32.5px,#5502a4 46.5px,#8707a6 50.5px,#9a169f 61.5px,#910ea3 75.5px,#7201a8 82.5px,#220690 92.5px,#19068c 95.5px,#330597 97.5px,#2e0595 98.5px,#1d068e 99.5px,#220690 102.5px,#6400a7 112.5px,#6900a8 119.5px,#5302a3 134.5px,#6600a7 139.5px,#41049d 149.5px,#38049a 194.5px)"></i>
<i style="height:1px;background:linear-gradient(90deg,#43039e 0.5px,#44039e 33.5px,#5102a3 47.5px,#6001a6 49.5px,#8d0ba5 52.5px,#9e199d 65.5px,#910ea3 77.5px,#6e00a8 83.5px,#280592 91.5px,#1b068d 95.5px,#350498 97.5px,#2f0596 98.5px,#20068f 99.5px,#240691 102.5px,#6600a7 112.5px,#6900a8 119.5px,#5601a4 132.5px,#7100a8 136.5px,#3f049c 150.5px,#38049a 194.5px)"></i>
<i style="height:1px;background:linear-gradient(90deg,#43039e 0.5px,#44039e 36.5px,#5102a3 49.5px,#7201a8 52.5px,#8f0da4 54.5px,#a21d9a 66.5px,#9511a1 77.5px,#7201a8 83.5px,#2c0594 91.5px,#1d068e 95.5px,#350498 97.5px,#310597 98.5px,#220690 99.5px,#2c0594 103.5px,#6400a7 111.5px,#6c00a8 117.5px,#5901a5 129.5px,#6a00a8 132.5px,#7a02a8 134.5px,#3f049c 150.5px,#370499 194.5px)"></i>
<i style="height:1px;background:linear-gradient(90deg,#43039e 0.5px,#44039e 38.5px,#5302a3 51.5px,#6400a7 53.5px,#920fa3 56.5px,#a51f99 67.5px,#9a169f 77.5px,#7701a8 83.5px,#2e0595 91.5px,#20068f 95.5px,#370499 97.5px,#220690 100.5px,#44039e 106.5px,#6900a8 112.5px,#6900a8 119.5px,#5c01a6 127.5px,#7401a8 130.5px,#8405a7 132.5px,#41049d 149.5px,#370499 194.5px)"></i>
<i style="height:1px;background:linear-gradient(90deg,#43039e 0.5px,#41049d 34.5px,#5302a3 53.5px,#6400a7 55.5px,#8808a6 57.5px,#9a169f 59.5px,#a82296 71.5px,#9c179e 78.5px,#7201a8 84.5px,#310597 91.5px,#220690 95.5px,#38049a 97.5px,#240691 100.5px,#48039f 106.5px,#6a00a8 112.5px,#6700a8 120.5px,#6001a6 125.5px,#7b02a8 128.5px,#8e0ca4 130.5px,#6100a7 140.5px,#3e049c 151.5px,#370499 194.5px)"></i>
<i style="height:1px;background:linear-gradient(90deg,#43039e 0.5px,#41049d 37.5px,#5302a3 55.5px,#6600a7 57.5px,#8a09a5 59.5px,#9e199d 61.5px,#ac2694 73.5px,#9613a1 80.5px,#6c00a8 85.5px,#330597 91.5px,#240691 95.5px,#3a049a 97.5px,#370499 98.5px,#280592 99.5px,#2e0595 102.5px,#6900a8 111.5px,#6c00a8 117.5px,#6400a7 123.5px,#7201a8 125.5px,#99159f 128.5px,#6e00a8 137.5px,#41049d 149.5px,#370499 194.5px)"></i>
<i style="height:1px;background:linear-gradient(90deg,#43039e 0.5px,#41049d 40.5px,#5302a3 57.5px,#6600a7 59.5px,#8a09a5 61.5px,#a21d9a 63.5px,#b02991 74.5px,#9613a1 81.5px,#6700a8 86.5px,#310597 92.5px,#260591 95.5px,#3e049c 97.5px,#2a0593 99.5px,#310597 102.5px,#6a00a8 111.5px,#6a00a8 118.5px,#6c00a8 122.5px,#8707a6 124.5px,#a01a9c 126.5px,#7100a8 136.5px,#46039f 147.5px,#3c049b 158.5px,#350498 194.5px)"></i>
<i style="height:1px;background:linear-gradient(90deg,#43039e 0.5px,#3e049c 35.5px,#5002a2 58.5px,#5901a5 60.5px,#7701a8 62.5px,#9c179e 64.5px,#a82296 66.5px,#b12a90 75.5px,#9c179e 81.5px,#6c00a8 86.5px,#330597 92.5px,#2a0593 95.5px,#2f0596 96.5px,#3f049c 97.5px,#2c0594 100.5px,#6a00a8 111.5px,#7100a8 120.5px,#8d0ba5 122.5px,#a51f99 124.5px,#8405a7 132.5px,#4903a0 145.5px,#3c049b 157.5px,#350498 194.5px)"></i>
<i style="height:1px;background:linear-gradient(90deg,#43039e 0.5px,#3e049c 39.5px,#5102a3 60.5px,#6400a7 63.5px,#8b0aa5 65.5px,#aa2395 67.5px,#b32c8e 75.5px,#a21d9a 81.5px,#7201a8 86.5px,#370499 92.5px,#2c0594 95.5px,#41049d 97.5px,#3e049c 98.5px,#2f0596 99.5px,#3c049b 103.5px,#6c00a8 111.5px,#6f00a8 117.5px,#8004a8 119.5px,#a11b9b 121.5px,#a82296 123.5px,#8305a7 132.5px,#4e02a2 143.5px,#3c049b 155.5px,#350498 194.5px)"></i>
<i style="height:1px;background:linear-gradient(90deg,#41049d 0.5px,#3e049c 41.5px,#5102a3 62.5px,#6400a7 65.5px,#8b0aa5 67.5px,#ac2694 69.5px,#b52f8c 76.5px,#a11b9b 82.5px,#7801a8 86.5px,#3c049b 92.5px,#2f0596 95.5px,#44039e 97.5px,#310597 100.5px,#6c00a8 111.5px,#7100a8 115.5px,#8405a7 117.5px,#b02991 120.5px,#8405a7 131.5px,#4c02a1 143.5px,#3c049b 155.5px,#350498 194.5px)"></i>
<i style="height:1px;background:linear-gradient(90deg,#41049d 0.5px,#3c049b 43.5px,#5302a3 64.5px,#6400a7 67.5px,#8b0aa5 69.5px,#b02991 71.5px,#b42e8d 78.5px,#9e199d 83.5px,#7401a8 87.5px,#38049a 93.5px,#310597 95.5px,#46039f 97.5px,#43039e 98.5px,#350498 99.5px,#41049d 103.5px,#6c00a8 111.5px,#7801a8 114.5px,#99159f 116.5px,#b42e8d 118.5px,#8104a7 131.5px,#4e02a2 142.5px,#3c049b 154.5px,#350498 194.5px)"></i>
<i style="height:1px;background:linear-gradient(90deg,#41049d 0.5px,#3a049a 42.5px,#5302a3 66.5px,#6400a7 69.5px,#8d0ba5 71.5px,#b12a90 73.5px,#b32c8e 80.5px,#920fa3 85.5px,#6f00a8 88.5px,#3e049c 93.5px,#350498 95.5px,#48039f 97.5px,#370499 100.5px,#7801a8 112.5px,#9a169f 114.5px,#ae2892 115.5px,#b7318a 117.5px,#7d03a8 131.5px,#5302a3 140.5px,#3c049b 152.5px,#350498 194.5px)"></i>
<i style="height:1px;background:linear-gradient(90deg,#41049d 0.5px,#38049a 40.5px,#4e02a2 65.5px,#5c01a6 70.5px,#7501a8 72.5px,#a31e9a 74.5px,#b22b8f 75.5px,#b22b8f 81.5px,#8e0ca4 86.5px,#6a00a8 89.5px,#41049d 93.5px,#38049a 95.5px,#4903a0 97.5px,#3a049a 99.5px,#5102a3 105.5px,#7201a8 110.5px,#8405a7 111.5px,#ae2892 113.5px,#ba3388 114.5px,#a11b9b 122.5px,#7701a8 131.5px,#4c02a1 141.5px,#3c049b 155.5px,#350498 194.5px)"></i>
<i style="height:1px;background:linear-gradient(90deg,#3f049c 0.5px,#38049a 45.5px,#5002a2 68.5px,#5c01a6 72.5px,#7701a8 74.5px,#a31e9a 76.5px,#b22b8f 77.5px,#b12a90 82.5px,#8a09a5 87.5px,#5901a5 91.5px,#3c049b 95.5px,#4b03a1 97.5px,#3c049b 100.5px,#6001a6 107.5px,#7b02a8 109.5px,#ab2494 111.5px,#ba3388 112.5px,#ae2892 118.5px,#7a02a8 129.5px,#48039f 142.5px,#3a049a 160.5px,#350498 194.5px)"></i>
<i style="height:1px;background:linear-gradient(90deg,#3f049c 0.5px,#370499 43.5px,#4c02a1 67.5px,#5c01a6 74.5px,#7701a8 76.5px,#a51f99 78.5px,#b22b8f 79.5px,#a82296 84.5px,#8606a6 88.5px,#4b03a1 93.5px,#43039e 96.5px,#4c02a1 97.5px,#3f049c 100.5px,#5601a4 105.5px,#6e00a8 107.5px,#8405a7 108.5px,#b02991 110.5px,#ba3388 113.5px,#8b0aa5 124.5px,#5e01a6 134.5px,#41049d 145.5px,#350498 194.5px)"></i>
<i style="height:1px;background:linear-gradient(90deg,#3f049c 0.5px,#370499 46.5px,#4e02a2 70.5px,#5e01a6 76.5px,#7801a8 78.5px,#a31e9a 80.5px,#b02991 81.5px,#a62098 85.5px,#8004a8 89.5px,#4903a0 94.5px,#4b03a1 98.5px,#43039e 100.5px,#5502a4 104.5px,#7401a8 106.5px,#9e199d 108.5px,#b6308b 112.5px,#9e199d 119.5px,#7a02a8 126.5px,#46039f 141.5px,#38049a 164.5px,#350498 194.5px)"></i>
<i style="height:1px;background:linear-gradient(90deg,#3e049c 0.5px,#370499 47.5px,#4b03a1 70.5px,#5e01a6 78.5px,#7801a8 80.5px,#a11b9b 82.5px,#ac2694 83.5px,#9c179e 87.5px,#7a02a8 90.5px,#5102a3 94.5px,#4e02a2 96.5px,#5102a3 98.5px,#48039f 100.5px,#5801a4 103.5px,#8a09a5 106.5px,#ae2892 111.5px,#ae2892 114.5px,#7b02a8 124.5px,#48039f 139.5px,#3a049a 157.5px,#350498 194.5px)"></i>
<i style="height:1px;background:linear-gradient(90deg,#3e049c 0.5px,#350498 49.5px,#4e02a2 74.5px,#5e01a6 80.5px,#7701a8 82.5px,#9d189d 84.5px,#a62098 85.5px,#9511a1 88.5px,#7701a8 91.5px,#5901a5 95.5px,#5c01a6 98.5px,#5302a3 100.5px,#5e01a6 102.5px,#8305a7 105.5px,#a72197 111.5px,#a21d9a 115.5px,#7801a8 123.5px,#4903a0 137.5px,#3a049a 155.5px,#350498 194.5px)"></i>
<i style="height:1px;background:linear-gradient(90deg,#3c049b 0.5px,#350498 50.5px,#4903a0 73.5px,#5c01a6 82.5px,#7201a8 84.5px,#9613a1 86.5px,#9814a0 88.5px,#7a02a8 92.5px,#6c00a8 95.5px,#7501a8 97.5px,#6700a8 100.5px,#8e0ca4 107.5px,#a01a9c 113.5px,#7501a8 122.5px,#4c02a1 134.5px,#3a049a 150.5px,#350498 194.5px)"></i>
<i style="height:1px;background:linear-gradient(90deg,#3c049b 0.5px,#330597 51.5px,#4b03a1 76.5px,#5b01a5 84.5px,#7e03a8 87.5px,#920fa3 89.5px,#8707a6 94.5px,#9814a0 97.5px,#7d03a8 102.5px,#9613a1 112.5px,#8606a6 117.5px,#5601a4 128.5px,#3c049b 144.5px,#350498 194.5px)"></i>
<i style="height:1px;background:linear-gradient(90deg,#3c049b 0.5px,#310597 49.5px,#46039f 75.5px,#5c01a6 86.5px,#7e03a8 89.5px,#99159f 92.5px,#ab2494 95.5px,#c03a83 97.5px,#b22b8f 99.5px,#8a09a5 102.5px,#8104a7 105.5px,#8808a6 114.5px,#5502a4 126.5px,#3c049b 143.5px,#350498 194.5px)"></i>
<i style="height:1px;background:linear-gradient(90deg,#3c049b 0.5px,#310597 53.5px,#46039f 77.5px,#6001a6 87.5px,#8305a7 90.5px,#c9447a 95.5px,#e26660 97.5px,#de6164 98.5px,#a01a9c 102.5px,#8305a7 106.5px,#7701a8 116.5px,#4e02a2 126.5px,#3a049a 145.5px,#350498 194.5px)"></i>
<i style="height:1px;background:linear-gradient(90deg,#3c049b 0.5px,#2f0596 50.5px,#3f049c 75.5px,#5601a4 84.5px,#7201a8 88.5px,#9c179e 91.5px,#c9447a 94.5px,#ed7a52 97.5px,#eb7655 98.5px,#b6308b 102.5px,#8d0ba5 106.5px,#7701a8 111.5px,#6700a8 117.5px,#44039e 128.5px,#370499 159.5px,#350498 194.5px)"></i>
<i style="height:1px;background:linear-gradient(90deg,#3c049b 0.5px,#2f0596 52.5px,#3c049b 75.5px,#5601a4 83.5px,#8405a7 88.5px,#b6308b 92.5px,#df6263 96.5px,#e3685f 98.5px,#b6308b 104.5px,#8a09a5 108.5px,#6700a8 115.5px,#41049d 127.5px,#370499 164.5px,#350498 194.5px)"></i>
<i style="height:1px;background:linear-gradient(90deg,#3c049b 0.5px,#2e0595 53.5px,#3a049a 75.5px,#5901a5 82.5px,#8104a7 86.5px,#bc3587 92.5px,#cb4679 97.5px,#c13b82 104.5px,#8a09a5 110.5px,#5e01a6 117.5px,#41049d 125.5px,#370499 148.5px,#350498 194.5px)"></i>
<i style="height:1px;background:linear-gradient(90deg,#3c049b 0.5px,#2e0595 52.5px,#370499 73.5px,#5601a4 80.5px,#8104a7 84.5px,#a82296 88.5px,#b42e8d 92.5px,#a51f99 98.5px,#ba3388 104.5px,#ac2694 108.5px,#7b02a8 114.5px,#4903a0 122.5px,#370499 133.5px,#350498 194.5px)"></i>
<i style="height:1px;background:linear-gradient(90deg,#3c049b 0.5px,#2c0594 57.5px,#370499 72.5px,#5502a4 78.5px,#7e03a8 82.5px,#ab2494 86.5px,#ad2793 90.5px,#7b02a8 97.5px,#8707a6 101.5px,#a82296 106.5px,#a72197 110.5px,#7701a8 117.5px,#4b03a1 124.5px,#370499 133.5px,#350498 194.5px)"></i>
<i style="height:1px;background:linear-gradient(90deg,#3c049b 0.5px,#2c0594 55.5px,#330597 69.5px,#4c02a1 75.5px,#7d03a8 80.5px,#ae2892 85.5px,#ad2793 88.5px,#7b02a8 93.5px,#5e01a6 97.5px,#6300a7 101.5px,#8808a6 106.5px,#9e199d 110.5px,#9a169f 114.5px,#6f00a8 121.5px,#46039f 129.5px,#350498 140.5px,#350498 194.5px)"></i>
<i style="height:1px;background:linear-gradient(90deg,#3e049c 0.5px,#2c0594 50.5px,#330597 66.5px,#4e02a2 73.5px,#8707a6 79.5px,#ac2694 84.5px,#a82296 87.5px,#7701a8 91.5px,#5302a3 95.5px,#4e02a2 101.5px,#6400a7 106.5px,#910ea3 113.5px,#910ea3 118.5px,#6900a8 126.5px,#3f049c 136.5px,#310597 153.5px,#350498 194.5px)"></i>
<i style="height:1px;background:linear-gradient(90deg,#3e049c 0.5px,#2c0594 50.5px,#350498 64.5px,#5002a2 71.5px,#8606a6 77.5px,#a62098 82.5px,#9a169f 86.5px,#7501a8 89.5px,#4e02a2 93.5px,#43039e 100.5px,#4e02a2 107.5px,#8405a7 116.5px,#8a09a5 122.5px,#5502a4 135.5px,#370499 146.5px,#310597 168.5px,#350498 194.5px)"></i>
<i style="height:1px;background:linear-gradient(90deg,#3f049c 0.5px,#2c0594 47.5px,#370499 62.5px,#5b01a5 70.5px,#8405a7 75.5px,#9d189d 79.5px,#9814a0 83.5px,#6700a8 88.5px,#46039f 92.5px,#3c049b 103.5px,#46039f 110.5px,#8104a7 122.5px,#8104a7 129.5px,#3e049c 147.5px,#2f0596 160.5px,#350498 194.5px)"></i>
<i style="height:1px;background:linear-gradient(90deg,#41049d 0.5px,#2c0594 45.5px,#38049a 59.5px,#6001a6 68.5px,#8a09a5 74.5px,#9814a0 78.5px,#8808a6 82.5px,#5002a2 88.5px,#3c049b 92.5px,#38049a 111.5px,#5e01a6 120.5px,#8004a8 129.5px,#7a02a8 136.5px,#3c049b 152.5px,#2f0596 165.5px,#330597 194.5px)"></i>
<i style="height:1px;background:linear-gradient(90deg,#41049d 0.5px,#2e0595 43.5px,#3e049c 57.5px,#6a00a8 67.5px,#8f0da4 74.5px,#8d0ba5 78.5px,#5b01a5 84.5px,#3c049b 89.5px,#310597 114.5px,#5901a5 125.5px,#7b02a8 133.5px,#7b02a8 140.5px,#38049a 158.5px,#2f0596 173.5px,#330597 194.5px)"></i>
<i style="height:1px;background:linear-gradient(90deg,#43039e 0.5px,#2f0596 37.5px,#41049d 54.5px,#6a00a8 64.5px,#8a09a5 71.5px,#8606a6 76.5px,#46039f 84.5px,#310597 90.5px,#2e0595 107.5px,#2e0595 118.5px,#5302a3 129.5px,#7b02a8 139.5px,#7701a8 146.5px,#3e049c 161.5px,#2f0596 174.5px,#330597 194.5px)"></i>
<i style="height:1px;background:linear-gradient(90deg,#44039e 0.5px,#330597 35.5px,#48039f 52.5px,#8606a6 68.5px,#7d03a8 74.5px,#370499 84.5px,#2e0595 91.5px,#2a0593 109.5px,#2a0593 122.5px,#4c02a1 133.5px,#7801a8 144.5px,#7401a8 151.5px,#3c049b 167.5px,#310597 180.5px,#330597 194.5px)"></i>
<i style="height:1px;background:linear-gradient(90deg,#46039f 0.5px,#370499 32.5px,#4c02a1 49.5px,#8305a7 66.5px,#7a02a8 71.5px,#330597 82.5px,#2a0593 90.5px,#280592 109.5px,#280592 126.5px,#46039f 137.5px,#7401a8 148.5px,#7401a8 155.5px,#370499 175.5px,#330597 194.5px)"></i>
<i style="height:1px;background:linear-gradient(90deg,#48039f 0.5px,#3c049b 29.5px,#5002a2 45.5px,#7e03a8 63.5px,#7201a8 69.5px,#2f0596 80.5px,#280592 88.5px,#260591 130.5px,#41049d 141.5px,#7201a8 153.5px,#6f00a8 161.5px,#38049a 180.5px,#350498 194.5px)"></i>
<i style="height:1px;background:linear-gradient(90deg,#4b03a1 0.5px,#41049d 26.5px,#5502a4 42.5px,#7a02a8 60.5px,#6f00a8 66.5px,#2a0593 79.5px,#260591 95.5px,#260591 135.5px,#3e049c 145.5px,#7201a8 159.5px,#6e00a8 167.5px,#3f049c 183.5px,#38049a 194.5px)"></i>
<i style="height:1px;background:linear-gradient(90deg,#4e02a2 0.5px,#46039f 25.5px,#6400a7 44.5px,#7701a8 56.5px,#6700a8 64.5px,#280592 77.5px,#240691 91.5px,#240691 139.5px,#3c049b 150.5px,#7201a8 164.5px,#6e00a8 172.5px,#46039f 187.5px,#41049d 194.5px)"></i>
<i style="height:1px;background:linear-gradient(90deg,#5302a3 0.5px,#4c02a1 22.5px,#7501a8 52.5px,#6300a7 61.5px,#260591 75.5px,#20068f 104.5px,#240691 145.5px,#3c049b 155.5px,#7100a8 168.5px,#7100a8 176.5px,#5102a3 192.5px,#4e02a2 194.5px)"></i>
<i style="height:1px;background:linear-gradient(90deg,#5801a4 0.5px,#5801a4 25.5px,#7401a8 47.5px,#6600a7 56.5px,#280592 72.5px,#20068f 84.5px,#240691 151.5px,#46039f 162.5px,#7201a8 173.5px,#6f00a8 183.5px,#6001a6 194.5px)"></i>
<i style="height:1px;background:linear-gradient(90deg,#6001a6 0.5px,#6001a6 24.5px,#7401a8 44.5px,#6001a6 54.5px,#280592 69.5px,#1d068e 84.5px,#220690 154.5px,#3c049b 164.5px,#7201a8 178.5px,#7201a8 191.5px,#6f00a8 194.5px)"></i>
<i style="height:1px;background:linear-gradient(90deg,#6600a7 0.5px,#6900a8 24.5px,#7401a8 40.5px,#5901a5 52.5px,#240691 67.5px,#1b068d 104.5px,#20068f 158.5px,#3e049c 169.5px,#7100a8 182.5px,#7801a8 194.5px)"></i>
<i style="height:1px;background:linear-gradient(90deg,#6f00a8 0.5px,#7201a8 26.5px,#7100a8 39.5px,#3f049c 55.5px,#220690 65.5px,#19068c 105.5px,#20068f 162.5px,#3c049b 173.5px,#6c00a8 186.5px,#7701a8 194.5px)"></i>
<i style="height:1px;background:linear-gradient(90deg,#7801a8 0.5px,#7201a8 35.5px,#370499 54.5px,#1d068e 66.5px,#19068c 107.5px,#20068f 166.5px,#3e049c 178.5px,#6300a7 190.5px,#6a00a8 194.5px)"></i>
<i style="height:1px;background:linear-gradient(90deg,#8104a7 0.5px,#7201a8 32.5px,#48039f 46.5px,#220690 59.5px,#16078a 104.5px,#1d068e 168.5px,#3e049c 183.5px,#5801a4 194.5px)"></i>
<i style="height:1px;background:linear-gradient(90deg,#8808a6 0.5px,#7401a8 28.5px,#5102a3 40.5px,#240691 54.5px,#1b068d 72.5px,#16078a 105.5px,#1d068e 171.5px,#44039e 194.5px)"></i>
<i style="height:1px;background:linear-gradient(90deg,#910ea3 0.5px,#7100a8 27.5px,#240691 51.5px,#1b068d 67.5px,#16078a 106.5px,#1d068e 175.5px,#350498 194.5px)"></i>
<i style="height:1px;background:linear-gradient(90deg,#9613a1 0.5px,#6a00a8 26.5px,#260591 48.5px,#19068c 63.5px,#16078a 108.5px,#1d068e 179.5px,#2a0593 194.5px)"></i>
<i style="height:1px;background:linear-gradient(90deg,#99159f 0.5px,#6900a8 23.5px,#240691 46.5px,#19068c 63.5px,#16078a 109.5px,#1d068e 184.5px,#240691 194.5px)"></i>
<i style="height:1px;background:linear-gradient(90deg,#9a169f 0.5px,#6e00a8 18.5px,#220690 44.5px,#19068c 63.5px,#16078a 110.5px,#1d068e 192.5px,#20068f 194.5px)"></i>
<i style="height:1px;background:linear-gradient(90deg,#99159f 0.5px,#6e00a8 15.5px,#240691 41.5px,#19068c 58.5px,#16078a 112.5px,#1d068e 194.5px)"></i>
<i style="height:1px;background:linear-gradient(90deg,#9613a1 0.5px,#6f00a8 12.5px,#280592 36.5px,#19068c 52.5px,#1b068d 194.5px)"></i>
<i style="height:1px;background:linear-gradient(90deg,#910ea3 0.5px,#6700a8 11.5px,#2a0593 32.5px,#19068c 50.5px,#19068c 194.5px)"></i>
<i style="height:1px;background:linear-gradient(90deg,#8b0aa5 0.5px,#5e01a6 11.5px,#2a0593 29.5px,#19068c 48.5px,#16078a 194.5px)"></i>
<i style="height:1px;background:linear-gradient(90deg,#8305a7 0.5px,#3c049b 18.5px,#1d068e 35.5px,#16078a 84.5px,#16078a 194.5px)"></i>
<i style="height:1px;background:linear-gradient(90deg,#7b02a8 0.5px,#3a049a 16.5px,#1d068e 32.5px,#16078a 84.5px,#130789 194.5px)"></i>
<i style="height:1px;background:linear-gradient(90deg,#7501a8 0.5px,#3a049a 14.5px,#1d068e 29.5px,#16078a 84.5px,#130789 194.5px)"></i>
<i style="height:1px;background:linear-gradient(90deg,#7100a8 0.5px,#330597 14.5px,#1b068d 30.5px,#130789 194.5px)"></i>
<i style="height:1px;background:linear-gradient(90deg,#7401a8 0.5px,#330597 13.5px,#1b068d 26.5px,#130789 194.5px)"></i>
<i style="height:1px;background:linear-gradient(90deg,#7d03a8 0.5px,#350498 12.5px,#1b068d 24.5px,#100788 194.5px)"></i>
<i style="height:1px;background:linear-gradient(90deg,#8f0da4 0.5px,#6001a6 6.5px,#2f0596 13.5px,#19068c 25.5px,#100788 194.5px)"></i>
<i style="height:1px;background:linear-gradient(90deg,#a72197 0.5px,#7b02a8 5.5px,#3e049c 11.5px,#20068f 18.5px,#16078a 40.5px,#130789 194.5px)"></i>
<i style="height:1px;background:linear-gradient(90deg,#bf3984 0.5px,#9d189d 4.5px,#7201a8 7.5px,#3a049a 12.5px,#1d068e 19.5px,#16078a 43.5px,#130789 194.5px)"></i>
<i style="height:1px;background:linear-gradient(90deg,#d14e72 0.5px,#bb3488 3.5px,#7e03a8 7.5px,#3e049c 12.5px,#20068f 18.5px,#16078a 32.5px,#130789 194.5px)"></i>
<i style="height:1px;background:linear-gradient(90deg,#db5c68 0.5px,#b7318a 4.5px,#8606a6 7.5px,#4903a0 11.5px,#260591 16.5px,#16078a 26.5px,#16078a 194.5px)"></i>
</div>
<div class="cm" style="left:263px;top:17px;width:11px;height:203px;background:linear-gradient(180deg,#eff821 0%,#f6e425 5%,#fcce25 10%,#fdb92b 15%,#fca635 20%,#f89540 25%,#f2844b 30%,#ea7356 35%,#e06461 40%,#d6556d 45%,#cb4777 50%,#be3883 55%,#b02a8f 60%,#a01b9b 65%,#8f0da3 70%,#7e03a7 75%,#6a00a7 80%,#5601a3 85%,#40039c 90%,#290593 95%,#0c0786 100%)"></div>
<div class="cm" style="left:263px;top:383px;width:11px;height:203px;background:linear-gradient(180deg,#eff821 0%,#f6e425 5%,#fcce25 10%,#fdb92b 15%,#fca635 20%,#f89540 25%,#f2844b 30%,#ea7356 35%,#e06461 40%,#d6556d 45%,#cb4777 50%,#be3883 55%,#b02a8f 60%,#a01b9b 65%,#8f0da3 70%,#7e03a7 75%,#6a00a7 80%,#5601a3 85%,#40039c 90%,#290593 95%,#0c0786 100%)"></div>
<svg width="685" height="617" viewBox="0 0 685 617">
<text x="0.00" y="8.00" font-size="10.5" font-weight="bold">a</text>
<text x="339.80" y="8.70" font-size="10.5" font-weight="bold">b</text>
<text x="340.00" y="125.30" font-size="10.5" font-weight="bold">c</text>
<text x="0.00" y="270.00" font-size="10.5" font-weight="bold">d</text>
<text x="0.00" y="389.00" font-size="10.5" font-weight="bold">e</text>
<text x="339.80" y="245.70" font-size="10.5" font-weight="bold">f</text>
<text x="344.20" y="475.50" font-size="10.5" font-weight="bold">g</text>
<text x="517.40" y="478.70" font-size="10.5" font-weight="bold">h</text>
<rect x="57.80" y="16.80" width="195.50" height="203.50" fill="none" stroke="#000" stroke-width="1.4"/>
<text x="52.50" y="22.25" font-size="10" text-anchor="end" textLength="22.60" lengthAdjust="spacingAndGlyphs">−4.0</text>
<text x="52.50" y="56.00" font-size="10" text-anchor="end" textLength="22.60" lengthAdjust="spacingAndGlyphs">−4.1</text>
<text x="52.50" y="89.75" font-size="10" text-anchor="end" textLength="22.60" lengthAdjust="spacingAndGlyphs">−4.2</text>
<text x="52.50" y="123.50" font-size="10" text-anchor="end" textLength="22.60" lengthAdjust="spacingAndGlyphs">−4.3</text>
<text x="52.50" y="157.25" font-size="10" text-anchor="end" textLength="22.60" lengthAdjust="spacingAndGlyphs">−4.4</text>
<text x="52.50" y="191.00" font-size="10" text-anchor="end" textLength="22.60" lengthAdjust="spacingAndGlyphs">−4.5</text>
<text x="52.50" y="224.75" font-size="10" text-anchor="end" textLength="22.60" lengthAdjust="spacingAndGlyphs">−4.6</text>
<text x="90.70" y="233.55" font-size="10" text-anchor="middle" textLength="23.00" lengthAdjust="spacingAndGlyphs">−4.9</text>
<text x="155.30" y="233.55" font-size="10" text-anchor="middle" textLength="23.00" lengthAdjust="spacingAndGlyphs">−4.7</text>
<text x="220.00" y="233.55" font-size="10" text-anchor="middle" textLength="23.00" lengthAdjust="spacingAndGlyphs">−4.5</text>
<path d="M57.80,51.55h5 M57.80,85.30h5 M57.80,119.05h5 M57.80,152.80h5 M57.80,186.55h5 M90.70,220.30v-5 M155.30,220.30v-5 M220.00,220.30v-5" stroke="#000" stroke-width="1.25" fill="none"/>
<text x="156.00" y="249.30" font-size="10" text-anchor="middle" textLength="30.00" lengthAdjust="spacingAndGlyphs"><tspan font-style="italic">V</tspan><tspan font-size="72%" dy="2.2">R</tspan><tspan dy="-2.2">​</tspan> [V]</text>
<text x="20.60" y="118.70" font-size="10" text-anchor="middle" textLength="30.00" lengthAdjust="spacingAndGlyphs" transform="rotate(-90 20.60 118.70)"><tspan font-style="italic">V</tspan><tspan font-size="72%" dy="2.2">L</tspan><tspan dy="-2.2">​</tspan> [V]</text>
<path d="M58.5,17.7 H251" stroke="#f3862e" stroke-width="2.1"/>
<path d="M252,17.3 V219.6" stroke="#0aae46" stroke-width="2.3"/>
<path d="M123.1,139.4 l6.8,6.6 M129.9,139.4 l-6.8,6.6" stroke="#ff2020" stroke-width="2.1"/>
<rect x="263.50" y="17.20" width="9.80" height="203.10" fill="none" stroke="#000" stroke-width="1.4"/>
<text x="278.60" y="195.90" font-size="10" textLength="14.40" lengthAdjust="spacingAndGlyphs">0.1</text>
<text x="278.60" y="166.35" font-size="10" textLength="14.40" lengthAdjust="spacingAndGlyphs">0.2</text>
<text x="278.60" y="136.80" font-size="10" textLength="14.40" lengthAdjust="spacingAndGlyphs">0.3</text>
<text x="278.60" y="107.25" font-size="10" textLength="14.40" lengthAdjust="spacingAndGlyphs">0.4</text>
<text x="278.60" y="77.70" font-size="10" textLength="14.40" lengthAdjust="spacingAndGlyphs">0.5</text>
<text x="278.60" y="48.15" font-size="10" textLength="14.40" lengthAdjust="spacingAndGlyphs">0.6</text>
<path d="M273.30,191.45h-5 M273.30,161.90h-5 M273.30,132.35h-5 M273.30,102.80h-5 M273.30,73.25h-5 M273.30,43.70h-5" stroke="#000" stroke-width="1.25" fill="none"/>
<text x="308.50" y="118.60" font-size="10" text-anchor="middle" textLength="47.00" lengthAdjust="spacingAndGlyphs" transform="rotate(-90 308.50 118.60)"><tspan font-style="italic">G</tspan> [2e<tspan font-size="70%" dy="-3.5">2</tspan><tspan dy="3.5">/h]</tspan></text>
<rect x="396.70" y="16.10" width="201.10" height="73.20" fill="none" stroke="#000" stroke-width="1.4"/>
<text x="391.20" y="20.55" font-size="10" text-anchor="end" textLength="21.60" lengthAdjust="spacingAndGlyphs">0.75</text>
<text x="391.20" y="44.95" font-size="10" text-anchor="end" textLength="21.60" lengthAdjust="spacingAndGlyphs">0.50</text>
<text x="391.20" y="69.35" font-size="10" text-anchor="end" textLength="21.60" lengthAdjust="spacingAndGlyphs">0.25</text>
<text x="391.20" y="93.75" font-size="10" text-anchor="end" textLength="21.60" lengthAdjust="spacingAndGlyphs">0.00</text>
<path d="M396.70,40.50h5 M396.70,64.90h5 M430.22,89.30v-5 M463.73,89.30v-5 M497.25,89.30v-5 M530.77,89.30v-5 M564.28,89.30v-5" stroke="#000" stroke-width="1.25" fill="none"/>
<text x="396.70" y="101.95" font-size="10" text-anchor="middle" textLength="23.00" lengthAdjust="spacingAndGlyphs">−5.0</text>
<text x="430.22" y="101.95" font-size="10" text-anchor="middle" textLength="23.00" lengthAdjust="spacingAndGlyphs">−4.9</text>
<text x="463.73" y="101.95" font-size="10" text-anchor="middle" textLength="23.00" lengthAdjust="spacingAndGlyphs">−4.8</text>
<text x="497.25" y="101.95" font-size="10" text-anchor="middle" textLength="23.00" lengthAdjust="spacingAndGlyphs">−4.7</text>
<text x="530.77" y="101.95" font-size="10" text-anchor="middle" textLength="23.00" lengthAdjust="spacingAndGlyphs">−4.6</text>
<text x="564.28" y="101.95" font-size="10" text-anchor="middle" textLength="23.00" lengthAdjust="spacingAndGlyphs">−4.5</text>
<text x="597.80" y="101.95" font-size="10" text-anchor="middle" textLength="23.00" lengthAdjust="spacingAndGlyphs">−4.4</text>
<text x="497.00" y="118.00" font-size="10" text-anchor="middle" textLength="30.00" lengthAdjust="spacingAndGlyphs"><tspan font-style="italic">V</tspan><tspan font-size="72%" dy="2.2">R</tspan><tspan dy="-2.2">​</tspan> [V]</text>
<text x="361.50" y="52.70" font-size="10" text-anchor="middle" textLength="47.00" lengthAdjust="spacingAndGlyphs" transform="rotate(-90 361.50 52.70)"><tspan font-style="italic">G</tspan> [2e<tspan font-size="70%" dy="-3.5">2</tspan><tspan dy="3.5">/h]</tspan></text>
<text x="403.40" y="30.90" font-size="9.3" textLength="46.50" lengthAdjust="spacingAndGlyphs" fill="#111"><tspan font-style="italic">V</tspan><tspan font-size="72%" dy="2.2"><tspan font-style="italic">L</tspan></tspan><tspan dy="-2.2">​</tspan> = -4.0 V</text>
<rect x="396.70" y="126.50" width="201.10" height="73.20" fill="none" stroke="#000" stroke-width="1.4"/>
<text x="391.20" y="130.95" font-size="10" text-anchor="end" textLength="21.60" lengthAdjust="spacingAndGlyphs">0.75</text>
<text x="391.20" y="155.35" font-size="10" text-anchor="end" textLength="21.60" lengthAdjust="spacingAndGlyphs">0.50</text>
<text x="391.20" y="179.75" font-size="10" text-anchor="end" textLength="21.60" lengthAdjust="spacingAndGlyphs">0.25</text>
<text x="391.20" y="204.15" font-size="10" text-anchor="end" textLength="21.60" lengthAdjust="spacingAndGlyphs">0.00</text>
<path d="M396.70,150.90h5 M396.70,175.30h5 M430.22,199.70v-5 M463.73,199.70v-5 M497.25,199.70v-5 M530.77,199.70v-5 M564.28,199.70v-5" stroke="#000" stroke-width="1.25" fill="none"/>
<text x="396.70" y="212.15" font-size="10" text-anchor="middle" textLength="23.00" lengthAdjust="spacingAndGlyphs">−4.6</text>
<text x="430.22" y="212.15" font-size="10" text-anchor="middle" textLength="23.00" lengthAdjust="spacingAndGlyphs">−4.5</text>
<text x="463.73" y="212.15" font-size="10" text-anchor="middle" textLength="23.00" lengthAdjust="spacingAndGlyphs">−4.4</text>
<text x="497.25" y="212.15" font-size="10" text-anchor="middle" textLength="23.00" lengthAdjust="spacingAndGlyphs">−4.3</text>
<text x="530.77" y="212.15" font-size="10" text-anchor="middle" textLength="23.00" lengthAdjust="spacingAndGlyphs">−4.2</text>
<text x="564.28" y="212.15" font-size="10" text-anchor="middle" textLength="23.00" lengthAdjust="spacingAndGlyphs">−4.1</text>
<text x="597.80" y="212.15" font-size="10" text-anchor="middle" textLength="23.00" lengthAdjust="spacingAndGlyphs">−4.0</text>
<text x="497.50" y="227.70" font-size="10" text-anchor="middle" textLength="29.00" lengthAdjust="spacingAndGlyphs"><tspan font-style="italic">V</tspan><tspan font-size="72%" dy="2.2">L</tspan><tspan dy="-2.2">​</tspan> [V]</text>
<text x="361.50" y="162.60" font-size="10" text-anchor="middle" textLength="47.00" lengthAdjust="spacingAndGlyphs" transform="rotate(-90 361.50 162.60)"><tspan font-style="italic">G</tspan> [2e<tspan font-size="70%" dy="-3.5">2</tspan><tspan dy="3.5">/h]</tspan></text>
<text x="403.40" y="141.00" font-size="9.3" textLength="48.00" lengthAdjust="spacingAndGlyphs" fill="#111"><tspan font-style="italic">V</tspan><tspan font-size="72%" dy="2.2"><tspan font-style="italic">R</tspan></tspan><tspan dy="-2.2">​</tspan> = -4.4 V</text>
<rect x="57.10" y="266.50" width="201.00" height="72.60" fill="none" stroke="#000" stroke-width="1.4"/>
<text x="52.00" y="270.95" font-size="10" text-anchor="end" textLength="21.60" lengthAdjust="spacingAndGlyphs">0.75</text>
<text x="52.00" y="295.15" font-size="10" text-anchor="end" textLength="21.60" lengthAdjust="spacingAndGlyphs">0.50</text>
<text x="52.00" y="319.35" font-size="10" text-anchor="end" textLength="21.60" lengthAdjust="spacingAndGlyphs">0.25</text>
<text x="52.00" y="343.55" font-size="10" text-anchor="end" textLength="21.60" lengthAdjust="spacingAndGlyphs">0.00</text>
<path d="M57.10,290.70h5 M57.10,314.90h5 M148.46,339.10v-5" stroke="#000" stroke-width="1.25" fill="none"/>
<text x="57.10" y="351.55" font-size="10" text-anchor="middle" textLength="23.00" lengthAdjust="spacingAndGlyphs">−5.0</text>
<text x="148.46" y="351.55" font-size="10" text-anchor="middle" textLength="23.00" lengthAdjust="spacingAndGlyphs">−4.5</text>
<text x="258.10" y="351.55" font-size="10" text-anchor="middle" textLength="23.00" lengthAdjust="spacingAndGlyphs">−3.9</text>
<text x="157.70" y="367.00" font-size="10" text-anchor="middle" textLength="29.00" lengthAdjust="spacingAndGlyphs"><tspan font-style="italic">V</tspan><tspan font-size="72%" dy="2.2">P</tspan><tspan dy="-2.2">​</tspan> [V]</text>
<text x="22.00" y="303.00" font-size="10" text-anchor="middle" textLength="47.00" lengthAdjust="spacingAndGlyphs" transform="rotate(-90 22.00 303.00)"><tspan font-style="italic">G</tspan> [2e<tspan font-size="70%" dy="-3.5">2</tspan><tspan dy="3.5">/h]</tspan></text>
<text x="66.30" y="275.70" font-size="9" textLength="52.60" lengthAdjust="spacingAndGlyphs" fill="#111"><tspan font-style="italic">V</tspan><tspan font-size="72%" dy="1.8">R</tspan><tspan dy="-1.8">​</tspan> = -4.79 V</text>
<text x="66.30" y="287.70" font-size="9" textLength="52.60" lengthAdjust="spacingAndGlyphs" fill="#111"><tspan font-style="italic">V</tspan><tspan font-size="72%" dy="1.8">L</tspan><tspan dy="-1.8">​</tspan> = -4.37 V</text>
<text x="66.30" y="300.40" font-size="9" textLength="44.00" lengthAdjust="spacingAndGlyphs" fill="#111"><tspan font-style="italic">T</tspan> = 60 mK</text>
<rect x="58.20" y="383.30" width="194.90" height="203.00" fill="none" stroke="#000" stroke-width="1.4"/>
<text x="52.80" y="396.95" font-size="10" text-anchor="end" textLength="24.00" lengthAdjust="spacingAndGlyphs">−4.0</text>
<text x="52.80" y="435.71" font-size="10" text-anchor="end" textLength="24.00" lengthAdjust="spacingAndGlyphs">−4.2</text>
<text x="52.80" y="474.47" font-size="10" text-anchor="end" textLength="24.00" lengthAdjust="spacingAndGlyphs">−4.4</text>
<text x="52.80" y="513.23" font-size="10" text-anchor="end" textLength="24.00" lengthAdjust="spacingAndGlyphs">−4.6</text>
<text x="52.80" y="551.99" font-size="10" text-anchor="end" textLength="24.00" lengthAdjust="spacingAndGlyphs">−4.8</text>
<text x="52.80" y="590.75" font-size="10" text-anchor="end" textLength="24.00" lengthAdjust="spacingAndGlyphs">−5.0</text>
<text x="99.90" y="600.05" font-size="10" text-anchor="middle" textLength="11.50" lengthAdjust="spacingAndGlyphs">−1</text>
<text x="155.65" y="600.05" font-size="10" text-anchor="middle" textLength="6.00" lengthAdjust="spacingAndGlyphs">0</text>
<text x="211.40" y="600.05" font-size="10" text-anchor="middle" textLength="6.00" lengthAdjust="spacingAndGlyphs">1</text>
<path d="M58.20,392.50h5 M58.20,431.26h5 M58.20,470.02h5 M58.20,508.78h5 M58.20,547.54h5 M99.90,586.30v-5 M155.65,586.30v-5 M211.40,586.30v-5" stroke="#000" stroke-width="1.25" fill="none"/>
<text x="155.50" y="615.50" font-size="10" text-anchor="middle" textLength="43.00" lengthAdjust="spacingAndGlyphs"><tspan font-style="italic">V</tspan><tspan font-size="72%" dy="2.2">sd</tspan><tspan dy="-2.2">​</tspan> [mV]</text>
<text x="21.00" y="483.80" font-size="10" text-anchor="middle" textLength="31.50" lengthAdjust="spacingAndGlyphs" transform="rotate(-90 21.00 483.80)"><tspan font-style="italic">V</tspan><tspan font-size="72%" dy="2.2">P</tspan><tspan dy="-2.2">​</tspan> [V]</text>
<rect x="263.50" y="383.30" width="9.80" height="203.00" fill="none" stroke="#000" stroke-width="1.4"/>
<text x="278.60" y="561.80" font-size="10" textLength="14.40" lengthAdjust="spacingAndGlyphs">0.1</text>
<text x="278.60" y="532.15" font-size="10" textLength="14.40" lengthAdjust="spacingAndGlyphs">0.2</text>
<text x="278.60" y="502.50" font-size="10" textLength="14.40" lengthAdjust="spacingAndGlyphs">0.3</text>
<text x="278.60" y="472.85" font-size="10" textLength="14.40" lengthAdjust="spacingAndGlyphs">0.4</text>
<text x="278.60" y="443.20" font-size="10" textLength="14.40" lengthAdjust="spacingAndGlyphs">0.5</text>
<text x="278.60" y="413.55" font-size="10" textLength="14.40" lengthAdjust="spacingAndGlyphs">0.6</text>
<path d="M273.30,557.35h-5 M273.30,527.70h-5 M273.30,498.05h-5 M273.30,468.40h-5 M273.30,438.75h-5 M273.30,409.10h-5" stroke="#000" stroke-width="1.25" fill="none"/>
<text x="309.00" y="484.00" font-size="10" text-anchor="middle" textLength="47.00" lengthAdjust="spacingAndGlyphs" transform="rotate(-90 309.00 484.00)"><tspan font-style="italic">G</tspan> [2e<tspan font-size="70%" dy="-3.5">2</tspan><tspan dy="3.5">/h]</tspan></text>
<rect x="396.80" y="236.60" width="201.00" height="183.80" fill="none" stroke="#000" stroke-width="1.4"/>
<text x="392.00" y="241.05" font-size="10" text-anchor="end" textLength="16.50" lengthAdjust="spacingAndGlyphs">2.5</text>
<text x="392.00" y="277.81" font-size="10" text-anchor="end" textLength="16.50" lengthAdjust="spacingAndGlyphs">2.0</text>
<text x="392.00" y="314.57" font-size="10" text-anchor="end" textLength="16.50" lengthAdjust="spacingAndGlyphs">1.5</text>
<text x="392.00" y="351.33" font-size="10" text-anchor="end" textLength="16.50" lengthAdjust="spacingAndGlyphs">1.0</text>
<text x="392.00" y="388.09" font-size="10" text-anchor="end" textLength="16.50" lengthAdjust="spacingAndGlyphs">0.5</text>
<text x="392.00" y="424.85" font-size="10" text-anchor="end" textLength="16.50" lengthAdjust="spacingAndGlyphs">0.0</text>
<path d="M396.80,273.36h5 M396.80,310.12h5 M396.80,346.88h5 M396.80,383.64h5 M497.30,420.40v-5" stroke="#000" stroke-width="1.25" fill="none"/>
<text x="396.80" y="433.75" font-size="10" text-anchor="middle" textLength="23.30" lengthAdjust="spacingAndGlyphs">−1.2</text>
<text x="497.30" y="433.75" font-size="10" text-anchor="middle" textLength="15.50" lengthAdjust="spacingAndGlyphs">0.0</text>
<text x="597.80" y="433.75" font-size="10" text-anchor="middle" textLength="15.50" lengthAdjust="spacingAndGlyphs">1.2</text>
<text x="497.00" y="449.00" font-size="10" text-anchor="middle" textLength="44.00" lengthAdjust="spacingAndGlyphs"><tspan font-style="italic">V</tspan><tspan font-size="72%" dy="2.2">sd</tspan><tspan dy="-2.2">​</tspan> [mV]</text>
<text x="367.50" y="329.00" font-size="10" text-anchor="middle" textLength="45.00" lengthAdjust="spacingAndGlyphs" transform="rotate(-90 367.50 329.00)">G [2e<tspan font-size="70%" dy="-3.5">2</tspan><tspan dy="3.5">/h]</tspan></text>
<path d="M396.50,88.80 C398.80,88.72 407.23,88.63 410.30,88.30 C413.37,87.97 413.62,88.45 414.90,86.80 C416.18,85.15 417.10,82.87 418.00,78.40 C418.90,73.93 419.53,66.13 420.30,60.00 C421.07,53.87 421.92,45.30 422.60,41.60 C423.28,37.90 423.77,37.80 424.40,37.80 C425.03,37.80 425.55,38.42 426.40,41.60 C427.25,44.78 428.35,52.05 429.50,56.90 C430.65,61.75 431.63,67.25 433.30,70.70 C434.97,74.15 437.20,76.02 439.50,77.60 C441.80,79.18 443.78,79.87 447.10,80.20 C450.42,80.53 456.08,79.52 459.40,79.60 C462.72,79.68 464.45,80.18 467.00,80.70 C469.55,81.22 472.40,82.83 474.70,82.70 C477.00,82.57 478.75,82.42 480.80,79.90 C482.85,77.38 484.95,72.70 487.00,67.60 C489.05,62.50 491.25,53.87 493.10,49.30 C494.95,44.73 496.43,41.22 498.10,40.20 C499.77,39.18 501.25,41.03 503.10,43.20 C504.95,45.37 506.58,50.37 509.20,53.20 C511.82,56.03 515.97,59.53 518.80,60.20 C521.63,60.87 523.78,59.87 526.20,57.20 C528.62,54.53 531.12,48.38 533.30,44.20 C535.48,40.02 537.63,34.62 539.30,32.10 C540.97,29.58 541.63,29.27 543.30,29.10 C544.97,28.93 547.28,30.10 549.30,31.10 C551.32,32.10 553.55,33.98 555.40,35.10 C557.25,36.22 558.73,37.57 560.40,37.80 C562.07,38.03 563.73,36.78 565.40,36.50 C567.07,36.22 568.73,36.07 570.40,36.10 C572.07,36.13 573.72,36.42 575.40,36.70 C577.08,36.98 578.48,37.97 580.50,37.80 C582.52,37.63 584.60,36.82 587.50,35.70 C590.40,34.58 596.17,31.87 597.90,31.10" fill="none" stroke="#ffa500" stroke-width="2" stroke-linejoin="round"/>
<path d="M397.50,198.60 C398.62,198.43 401.55,198.15 404.20,197.60 C406.85,197.05 410.97,196.33 413.40,195.30 C415.83,194.27 417.13,193.83 418.80,191.40 C420.47,188.97 422.13,184.78 423.40,180.70 C424.67,176.62 425.52,170.17 426.40,166.90 C427.28,163.63 427.93,161.48 428.70,161.10 C429.47,160.72 430.10,161.85 431.00,164.60 C431.90,167.35 432.95,173.38 434.10,177.60 C435.25,181.82 436.25,186.83 437.90,189.90 C439.55,192.97 441.45,194.60 444.00,196.00 C446.55,197.40 450.13,198.03 453.20,198.30 C456.27,198.57 459.58,198.23 462.40,197.60 C465.22,196.97 468.05,196.03 470.10,194.50 C472.15,192.97 473.17,191.98 474.70,188.40 C476.23,184.82 477.77,178.37 479.30,173.00 C480.83,167.63 482.53,159.77 483.90,156.20 C485.27,152.63 486.22,151.60 487.50,151.60 C488.78,151.60 490.15,154.03 491.60,156.20 C493.05,158.37 494.33,162.18 496.20,164.60 C498.07,167.02 500.65,170.32 502.80,170.70 C504.95,171.08 506.63,168.77 509.10,166.90 C511.57,165.03 514.78,163.02 517.60,159.50 C520.42,155.98 523.55,149.07 526.00,145.80 C528.45,142.53 530.02,141.12 532.30,139.90 C534.58,138.68 536.53,138.22 539.70,138.50 C542.87,138.78 547.62,140.32 551.30,141.60 C554.98,142.88 558.98,145.03 561.80,146.20 C564.62,147.37 566.08,148.03 568.20,148.60 C570.32,149.17 572.05,149.78 574.50,149.60 C576.95,149.42 580.45,148.30 582.90,147.50 C585.35,146.70 586.73,145.95 589.20,144.80 C591.67,143.65 596.28,141.30 597.70,140.60" fill="none" stroke="#008000" stroke-width="2" stroke-linejoin="round"/>
<path d="M57.50,338.00 C59.63,338.00 65.83,338.07 70.30,338.00 C74.77,337.93 81.47,338.05 84.30,337.60 C87.13,337.15 86.35,338.52 87.30,335.30 C88.25,332.08 89.32,321.73 90.00,318.30 C90.68,314.87 90.67,315.37 91.40,314.70 C92.13,314.03 93.63,314.03 94.40,314.30 C95.17,314.57 95.27,313.30 96.00,316.30 C96.73,319.30 97.73,328.85 98.80,332.30 C99.87,335.75 100.13,336.05 102.40,337.00 C104.67,337.95 108.72,337.95 112.40,338.00 C116.08,338.05 120.40,337.63 124.50,337.30 C128.60,336.97 133.07,336.50 137.00,336.00 C140.93,335.50 145.58,335.08 148.10,334.30 C150.62,333.52 150.60,332.97 152.10,331.30 C153.60,329.63 155.50,326.13 157.10,324.30 C158.70,322.47 159.52,320.37 161.70,320.30 C163.88,320.23 167.78,322.73 170.20,323.90 C172.62,325.07 174.03,325.73 176.20,327.30 C178.37,328.87 180.87,331.73 183.20,333.30 C185.53,334.87 187.68,335.98 190.20,336.70 C192.72,337.42 195.62,337.67 198.30,337.60 C200.98,337.53 203.63,337.85 206.30,336.30 C208.97,334.75 212.12,331.63 214.30,328.30 C216.48,324.97 217.72,321.65 219.40,316.30 C221.08,310.95 222.73,302.23 224.40,296.20 C226.07,290.17 228.07,283.25 229.40,280.10 C230.73,276.95 231.40,277.47 232.40,277.30 C233.40,277.13 234.07,276.95 235.40,279.10 C236.73,281.25 238.72,286.35 240.40,290.20 C242.08,294.05 243.82,299.03 245.50,302.20 C247.18,305.37 248.47,307.53 250.50,309.20 C252.53,310.87 256.50,311.70 257.70,312.20" fill="none" stroke="#1f77b4" stroke-width="2" stroke-linejoin="round"/>
<path d="M397.60,248.80 C399.42,248.42 404.87,247.35 408.50,246.50 C412.13,245.65 415.77,244.62 419.40,243.70 C423.03,242.78 426.67,241.63 430.30,241.00 C433.93,240.37 437.83,239.82 441.20,239.90 C444.57,239.98 447.65,240.53 450.50,241.50 C453.35,242.47 455.72,244.35 458.30,245.70 C460.88,247.05 462.88,248.57 466.00,249.60 C469.12,250.63 473.75,251.18 477.00,251.90 C480.25,252.62 482.65,253.72 485.50,253.90 C488.35,254.08 492.15,253.25 494.10,253.00 C496.05,252.75 496.22,252.25 497.20,252.40 C498.18,252.55 498.97,253.58 500.00,253.90 C501.03,254.22 500.87,254.60 503.40,254.30 C505.93,254.00 510.98,253.17 515.20,252.10 C519.42,251.03 524.20,249.50 528.70,247.90 C533.20,246.30 537.98,243.77 542.20,242.50 C546.42,241.23 550.07,240.23 554.00,240.30 C557.93,240.37 561.58,241.92 565.80,242.90 C570.02,243.88 574.10,245.13 579.30,246.20 C584.50,247.27 594.05,248.78 597.00,249.30" fill="none" stroke="#8c564b" stroke-width="2" stroke-linejoin="round"/>
<path d="M397.60,283.00 C399.93,282.62 407.20,281.60 411.60,280.70 C416.00,279.80 419.85,278.63 424.00,277.60 C428.15,276.57 432.35,275.33 436.50,274.50 C440.65,273.67 446.05,272.87 448.90,272.60 C451.75,272.33 451.52,272.07 453.60,272.90 C455.68,273.73 458.55,276.03 461.40,277.60 C464.25,279.17 467.07,280.75 470.70,282.30 C474.33,283.85 479.57,286.13 483.20,286.90 C486.83,287.67 490.17,287.12 492.50,286.90 C494.83,286.68 495.95,285.55 497.20,285.60 C498.45,285.65 498.97,286.88 500.00,287.20 C501.03,287.52 501.42,287.87 503.40,287.50 C505.38,287.13 508.80,285.98 511.90,285.00 C515.00,284.02 518.63,283.15 522.00,281.60 C525.37,280.05 528.17,277.38 532.10,275.70 C536.03,274.02 541.67,271.78 545.60,271.50 C549.53,271.22 551.77,272.60 555.70,274.00 C559.63,275.40 564.72,278.35 569.20,279.90 C573.68,281.45 577.97,282.60 582.60,283.30 C587.23,284.00 594.60,283.97 597.00,284.10" fill="none" stroke="#9467bd" stroke-width="2" stroke-linejoin="round"/>
<path d="M397.60,316.20 C399.93,316.00 406.68,315.60 411.60,315.00 C416.52,314.40 421.92,313.43 427.10,312.60 C432.28,311.77 438.55,310.90 442.70,310.00 C446.85,309.10 449.40,307.80 452.00,307.20 C454.60,306.60 456.48,306.35 458.30,306.40 C460.12,306.45 460.83,306.60 462.90,307.50 C464.97,308.40 468.35,310.62 470.70,311.80 C473.05,312.98 474.67,313.35 477.00,314.60 C479.33,315.85 481.85,318.52 484.70,319.30 C487.55,320.08 491.95,319.55 494.10,319.30 C496.25,319.05 496.33,317.77 497.60,317.80 C498.87,317.83 499.88,319.40 501.70,319.50 C503.52,319.60 506.53,319.23 508.50,318.40 C510.47,317.57 510.97,315.72 513.50,314.50 C516.03,313.28 520.88,312.65 523.70,311.10 C526.52,309.55 528.17,306.60 530.40,305.20 C532.63,303.80 534.85,302.75 537.10,302.70 C539.35,302.65 541.08,303.63 543.90,304.90 C546.72,306.17 550.35,308.57 554.00,310.30 C557.65,312.03 561.58,314.12 565.80,315.30 C570.02,316.48 574.10,317.03 579.30,317.40 C584.50,317.77 594.05,317.48 597.00,317.50" fill="none" stroke="#d62728" stroke-width="2" stroke-linejoin="round"/>
<path d="M397.60,349.40 C399.95,349.22 406.73,348.75 411.70,348.30 C416.67,347.85 422.17,347.18 427.40,346.70 C432.63,346.22 439.17,345.75 443.10,345.40 C447.03,345.05 448.38,345.12 451.00,344.60 C453.62,344.08 455.92,342.87 458.80,342.30 C461.68,341.73 465.67,341.60 468.30,341.20 C470.93,340.80 472.52,339.72 474.60,339.90 C476.68,340.08 479.23,341.12 480.80,342.30 C482.37,343.48 482.95,345.57 484.00,347.00 C485.05,348.43 485.53,350.07 487.10,350.90 C488.67,351.73 491.68,352.18 493.40,352.00 C495.12,351.82 496.08,349.63 497.40,349.80 C498.72,349.97 499.60,352.95 501.30,353.00 C503.00,353.05 505.50,351.88 507.60,350.10 C509.70,348.32 511.55,344.38 513.90,342.30 C516.25,340.22 519.22,338.97 521.70,337.60 C524.18,336.23 526.45,333.97 528.80,334.10 C531.15,334.23 533.32,336.52 535.80,338.40 C538.28,340.28 540.55,343.57 543.70,345.40 C546.85,347.23 549.72,348.55 554.70,349.40 C559.68,350.25 566.53,350.30 573.60,350.50 C580.67,350.70 593.18,350.58 597.10,350.60" fill="none" stroke="#2ca02c" stroke-width="2" stroke-linejoin="round"/>
<path d="M397.60,383.40 C399.95,383.30 406.73,383.10 411.70,382.80 C416.67,382.50 422.17,382.07 427.40,381.60 C432.63,381.13 437.87,380.35 443.10,380.00 C448.33,379.65 454.60,379.37 458.80,379.50 C463.00,379.63 465.67,381.25 468.30,380.80 C470.93,380.35 472.52,379.03 474.60,376.80 C476.68,374.57 479.23,369.48 480.80,367.40 C482.37,365.32 482.95,363.77 484.00,364.30 C485.05,364.83 486.05,368.12 487.10,370.60 C488.15,373.08 489.12,377.17 490.30,379.20 C491.48,381.23 493.03,383.07 494.20,382.80 C495.37,382.53 496.25,377.60 497.30,377.60 C498.35,377.60 499.32,382.67 500.50,382.80 C501.68,382.93 502.97,380.43 504.40,378.40 C505.83,376.37 507.52,372.82 509.10,370.60 C510.68,368.38 512.07,365.50 513.90,365.10 C515.73,364.70 518.02,366.63 520.10,368.20 C522.18,369.77 524.03,372.53 526.40,374.50 C528.77,376.47 530.37,378.62 534.30,380.00 C538.23,381.38 543.45,382.20 550.00,382.80 C556.55,383.40 565.75,383.42 573.60,383.60 C581.45,383.78 593.18,383.85 597.10,383.90" fill="none" stroke="#ff7f0e" stroke-width="2" stroke-linejoin="round"/>
<path d="M397.60,416.90 C399.95,416.85 406.73,416.78 411.70,416.60 C416.67,416.42 422.17,416.13 427.40,415.80 C432.63,415.47 437.87,415.02 443.10,414.60 C448.33,414.18 453.55,413.62 458.80,413.30 C464.05,412.98 470.80,412.55 474.60,412.70 C478.40,412.85 479.90,413.77 481.60,414.20 C483.30,414.63 483.88,416.03 484.80,415.30 C485.72,414.57 486.18,413.58 487.10,409.80 C488.02,406.02 489.25,396.27 490.30,392.60 C491.35,388.93 492.53,388.70 493.40,387.80 C494.27,386.90 494.72,387.85 495.50,387.20 C496.28,386.55 497.13,384.05 498.10,383.90 C499.07,383.75 500.25,383.82 501.30,386.30 C502.35,388.78 503.35,394.48 504.40,398.80 C505.45,403.12 506.55,409.83 507.60,412.20 C508.65,414.57 508.62,413.00 510.70,413.00 C512.78,413.00 516.17,412.00 520.10,412.20 C524.03,412.40 528.02,413.60 534.30,414.20 C540.58,414.80 547.33,415.35 557.80,415.80 C568.27,416.25 590.55,416.72 597.10,416.90" fill="none" stroke="#1f77b4" stroke-width="2" stroke-linejoin="round"/>
<path d="M440.4,243 L497.3,409.5 L554,242.9" fill="none" stroke="#000" stroke-width="1" stroke-dasharray="3,2.2"/>
<text x="537.00" y="232.70" font-size="10" textLength="58.60" lengthAdjust="spacingAndGlyphs" fill="#8c564b"><tspan font-style="italic">V</tspan><tspan font-size="72%" dy="2">P</tspan><tspan dy="-2">​</tspan> = -4.653 V</text>
<text x="537.00" y="266.80" font-size="10" textLength="58.60" lengthAdjust="spacingAndGlyphs" fill="#9467bd"><tspan font-style="italic">V</tspan><tspan font-size="72%" dy="2">P</tspan><tspan dy="-2">​</tspan> = -4.676 V</text>
<text x="537.00" y="296.00" font-size="10" textLength="58.60" lengthAdjust="spacingAndGlyphs" fill="#d62728"><tspan font-style="italic">V</tspan><tspan font-size="72%" dy="2">P</tspan><tspan dy="-2">​</tspan> = -4. 699V</text>
<text x="537.00" y="336.00" font-size="10" textLength="58.60" lengthAdjust="spacingAndGlyphs" fill="#2ca02c"><tspan font-style="italic">V</tspan><tspan font-size="72%" dy="2">P</tspan><tspan dy="-2">​</tspan> = -4.723 V</text>
<text x="537.00" y="373.70" font-size="10" textLength="58.60" lengthAdjust="spacingAndGlyphs" fill="#ff7f0e"><tspan font-style="italic">V</tspan><tspan font-size="72%" dy="2">P</tspan><tspan dy="-2">​</tspan> = -4.746 V</text>
<text x="537.00" y="408.30" font-size="10" textLength="58.60" lengthAdjust="spacingAndGlyphs" fill="#1f77b4"><tspan font-style="italic">V</tspan><tspan font-size="72%" dy="2">P</tspan><tspan dy="-2">​</tspan> = -4.769 V</text>
<path d="M176,385.7 L66.4,432 L155.9,471.8 L244,434.3 L138.7,387.3" stroke="#a49c76" stroke-width="0.85" stroke-dasharray="1,1.4" fill="none" stroke-opacity="0.75"/>
<path d="M172,550.5 L76.2,506 L155.9,471.8 L231.5,508 L138,551.2" stroke="#a49c76" stroke-width="0.85" stroke-dasharray="1,1.4" fill="none" stroke-opacity="0.75"/>
<text x="112.50" y="425.00" font-size="10" textLength="54.00" lengthAdjust="spacingAndGlyphs" fill="#2d9fe0">Cotunneling</text>
<path d="M138.6,427 V443.5" stroke="#2d9fe0" stroke-width="1.2" stroke-dasharray="3.5,2,1,2"/>
<path d="M144.00,434.3 H149.50" stroke="#27b4ef" stroke-width="1.6"/><path d="M139.00,434.3 l6,-3.2 v6.4 z M154.50,434.3 l-6,-3.2 v6.4 z" fill="#27b4ef"/>
<path d="M160.80,434.3 H238.80" stroke="#fcd56a" stroke-width="1.6"/><path d="M155.80,434.3 l6,-3.2 v6.4 z M243.80,434.3 l-6,-3.2 v6.4 z" fill="#fcd56a"/>
<path d="M161.50,507.7 H226.70" stroke="#fcd56a" stroke-width="1.6"/><path d="M156.50,507.7 l6,-3.2 v6.4 z M231.70,507.7 l-6,-3.2 v6.4 z" fill="#fcd56a"/>
<path d="M235.70,507.7 H241.50" stroke="#ff1a1a" stroke-width="1.6"/><path d="M231.70,507.7 l5,-3 v6 z M245.50,507.7 l-5,-3 v6 z" fill="#ff1a1a"/>
<path d="M231.7,436.4 V506 M244.5,436.4 V503.8" stroke="#a9d05c" stroke-width="1.2" stroke-dasharray="5,2.8"/>
<text x="191.60" y="502.00" font-size="10" textLength="9.40" lengthAdjust="spacingAndGlyphs" fill="#f4e6f4"><tspan font-style="italic">E</tspan><tspan font-size="70%" dy="2">C</tspan></text>
<text x="233.50" y="520.70" font-size="9.5" textLength="11.50" lengthAdjust="spacingAndGlyphs" fill="#f4e6f4">Δ<tspan font-style="italic">ε</tspan></text>
<defs>
<linearGradient id="ltop" x1="0" y1="0" x2="1" y2="0"><stop offset="0" stop-color="#8fcb55"/><stop offset="0.6" stop-color="#9ad562"/><stop offset="1" stop-color="#86c24c"/></linearGradient>
<linearGradient id="lfrontL" x1="0" y1="0" x2="1" y2="0"><stop offset="0" stop-color="#6cb632"/><stop offset="0.75" stop-color="#69b12f"/><stop offset="0.9" stop-color="#5fa12a"/><stop offset="1" stop-color="#6cae35"/></linearGradient>
<linearGradient id="lfrontR" x1="0" y1="0" x2="1" y2="0"><stop offset="0" stop-color="#6cae35"/><stop offset="0.1" stop-color="#5fa12a"/><stop offset="0.25" stop-color="#69b12f"/><stop offset="1" stop-color="#6cb632"/></linearGradient>
<radialGradient id="ball" cx="0.42" cy="0.4" r="0.62"><stop offset="0" stop-color="#d2f5a0"/><stop offset="0.3" stop-color="#96d84e"/><stop offset="0.75" stop-color="#62b82c"/><stop offset="1" stop-color="#4a9a20"/></radialGradient>
</defs>
<text x="370.70" y="477.80" font-size="10" textLength="94.60" lengthAdjust="spacingAndGlyphs">Odd electron, <tspan font-style="italic">S</tspan> = 1/2</text>
<text x="412.00" y="497.30" font-size="10" textLength="16.00" lengthAdjust="spacingAndGlyphs">Dot</text>
<ellipse cx="396.9" cy="552.5" rx="5" ry="2.2" fill="#555" fill-opacity="0.85"/>
<path d="M341.8,549.0 L355.8,536.5 L386.4,536.8 Q394.9,538.0 394.4,541.0 Q372.4,548.0 341.8,549.0 Z" fill="url(#ltop)"/>
<path d="M341.8,549.0 Q372.4,548.0 394.4,541.0 L393.9,556.0 Q372.4,563.0 342.3,564.0 Z" fill="url(#lfrontL)"/>
<text x="353.60" y="559.90" font-size="11" textLength="20.50" lengthAdjust="spacingAndGlyphs" fill="#eef7e6">Lead</text>
<ellipse cx="499.5" cy="561.0" rx="3.5" ry="1.6" fill="#555" fill-opacity="0.85"/>
<path d="M499.5,547.5 L487.5,535.5 L453.6,535.8 Q445.1,537.0 445.6,540.0 Q467.6,546.5 499.5,547.5 Z" fill="url(#ltop)"/>
<path d="M499.5,547.5 Q467.6,546.5 445.6,540.0 L446.1,554.5 Q467.6,561.0 499.0,562.0 Z" fill="url(#lfrontR)"/>
<text x="470.00" y="557.80" font-size="11" textLength="20.50" lengthAdjust="spacingAndGlyphs" fill="#eef7e6">Lead</text>
<g opacity="0.62" fill="#fbc84e"><ellipse cx="396.0" cy="543.2" rx="25.5" ry="10"/><ellipse cx="444.0" cy="543.2" rx="25.5" ry="10"/><ellipse cx="420" cy="543.4" rx="22" ry="7.6"/></g>
<text x="364.20" y="527.40" font-size="10" textLength="53.00" lengthAdjust="spacingAndGlyphs">Kondo state</text>
<path d="M387.3,496.8 C395,540 405,586 420.1,586 C435,586 446,540 453.5,497.3" fill="none" stroke="#000" stroke-width="2"/>
<path d="M404,508.6 H437.2 M404,543.3 H437.2" stroke="#000" stroke-width="1.8"/>
<path d="M420.1,558.5 V530.4" stroke="#bf3a2a" stroke-width="3.2"/><path d="M415.1,531.4 L420.1,524.4 L425.1,531.4 Z" fill="#bf3a2a"/>
<circle cx="420.1" cy="544.1" r="7.0" fill="url(#ball)"/>
<text x="543.10" y="477.80" font-size="10" textLength="127.40" lengthAdjust="spacingAndGlyphs">Even electron, <tspan font-style="italic">S</tspan> = 0, GaAs, Si</text>
<text x="595.10" y="495.60" font-size="10" textLength="16.00" lengthAdjust="spacingAndGlyphs">Dot</text>
<ellipse cx="579.0" cy="553.5" rx="5" ry="2.2" fill="#555" fill-opacity="0.85"/>
<path d="M524.7,548.9 L538.7,538.2 L568.5,538.5 Q577.0,539.7 576.5,542.7 Q554.5,547.9 524.7,548.9 Z" fill="url(#ltop)"/>
<path d="M524.7,548.9 Q554.5,547.9 576.5,542.7 L576.0,557.0 Q554.5,562.1999999999999 525.2,563.1999999999999 Z" fill="url(#lfrontL)"/>
<text x="537.80" y="557.00" font-size="11" textLength="20.50" lengthAdjust="spacingAndGlyphs" fill="#eef7e6">Lead</text>
<ellipse cx="681.6" cy="559.8" rx="3.5" ry="1.6" fill="#555" fill-opacity="0.85"/>
<path d="M681.6,546.5 L669.6,535.5 L637.0,535.8 Q628.5,537.0 629.0,540.0 Q651.0,545.5 681.6,546.5 Z" fill="url(#ltop)"/>
<path d="M681.6,546.5 Q651.0,545.5 629.0,540.0 L629.5,554.3 Q651.0,559.8 681.1,560.8 Z" fill="url(#lfrontR)"/>
<text x="650.80" y="556.20" font-size="11" textLength="20.50" lengthAdjust="spacingAndGlyphs" fill="#eef7e6">Lead</text>
<path d="M569.9,495.5 C577,540 588,584.8 602.7,584.8 C617,584.8 628,540 636.4,495.5" fill="none" stroke="#000" stroke-width="2"/>
<path d="M586.5,507.8 H619.6 M586.5,542 H619.6" stroke="#000" stroke-width="1.8"/>
<path d="M594.3,557.2 V529.1" stroke="#bf3a2a" stroke-width="3.2"/><path d="M589.3,530.1 L594.3,523.1 L599.3,530.1 Z" fill="#bf3a2a"/>
<path d="M611.4,528.8 V557.8" stroke="#2b3a9e" stroke-width="3.2"/><path d="M606.4,556.8 L611.4,563.8 L616.4,556.8 Z" fill="#2b3a9e"/>
<circle cx="594.3" cy="542" r="6.9" fill="url(#ball)"/>
<circle cx="611.4" cy="542" r="6.9" fill="url(#ball)"/>
</svg></div></body></html>
